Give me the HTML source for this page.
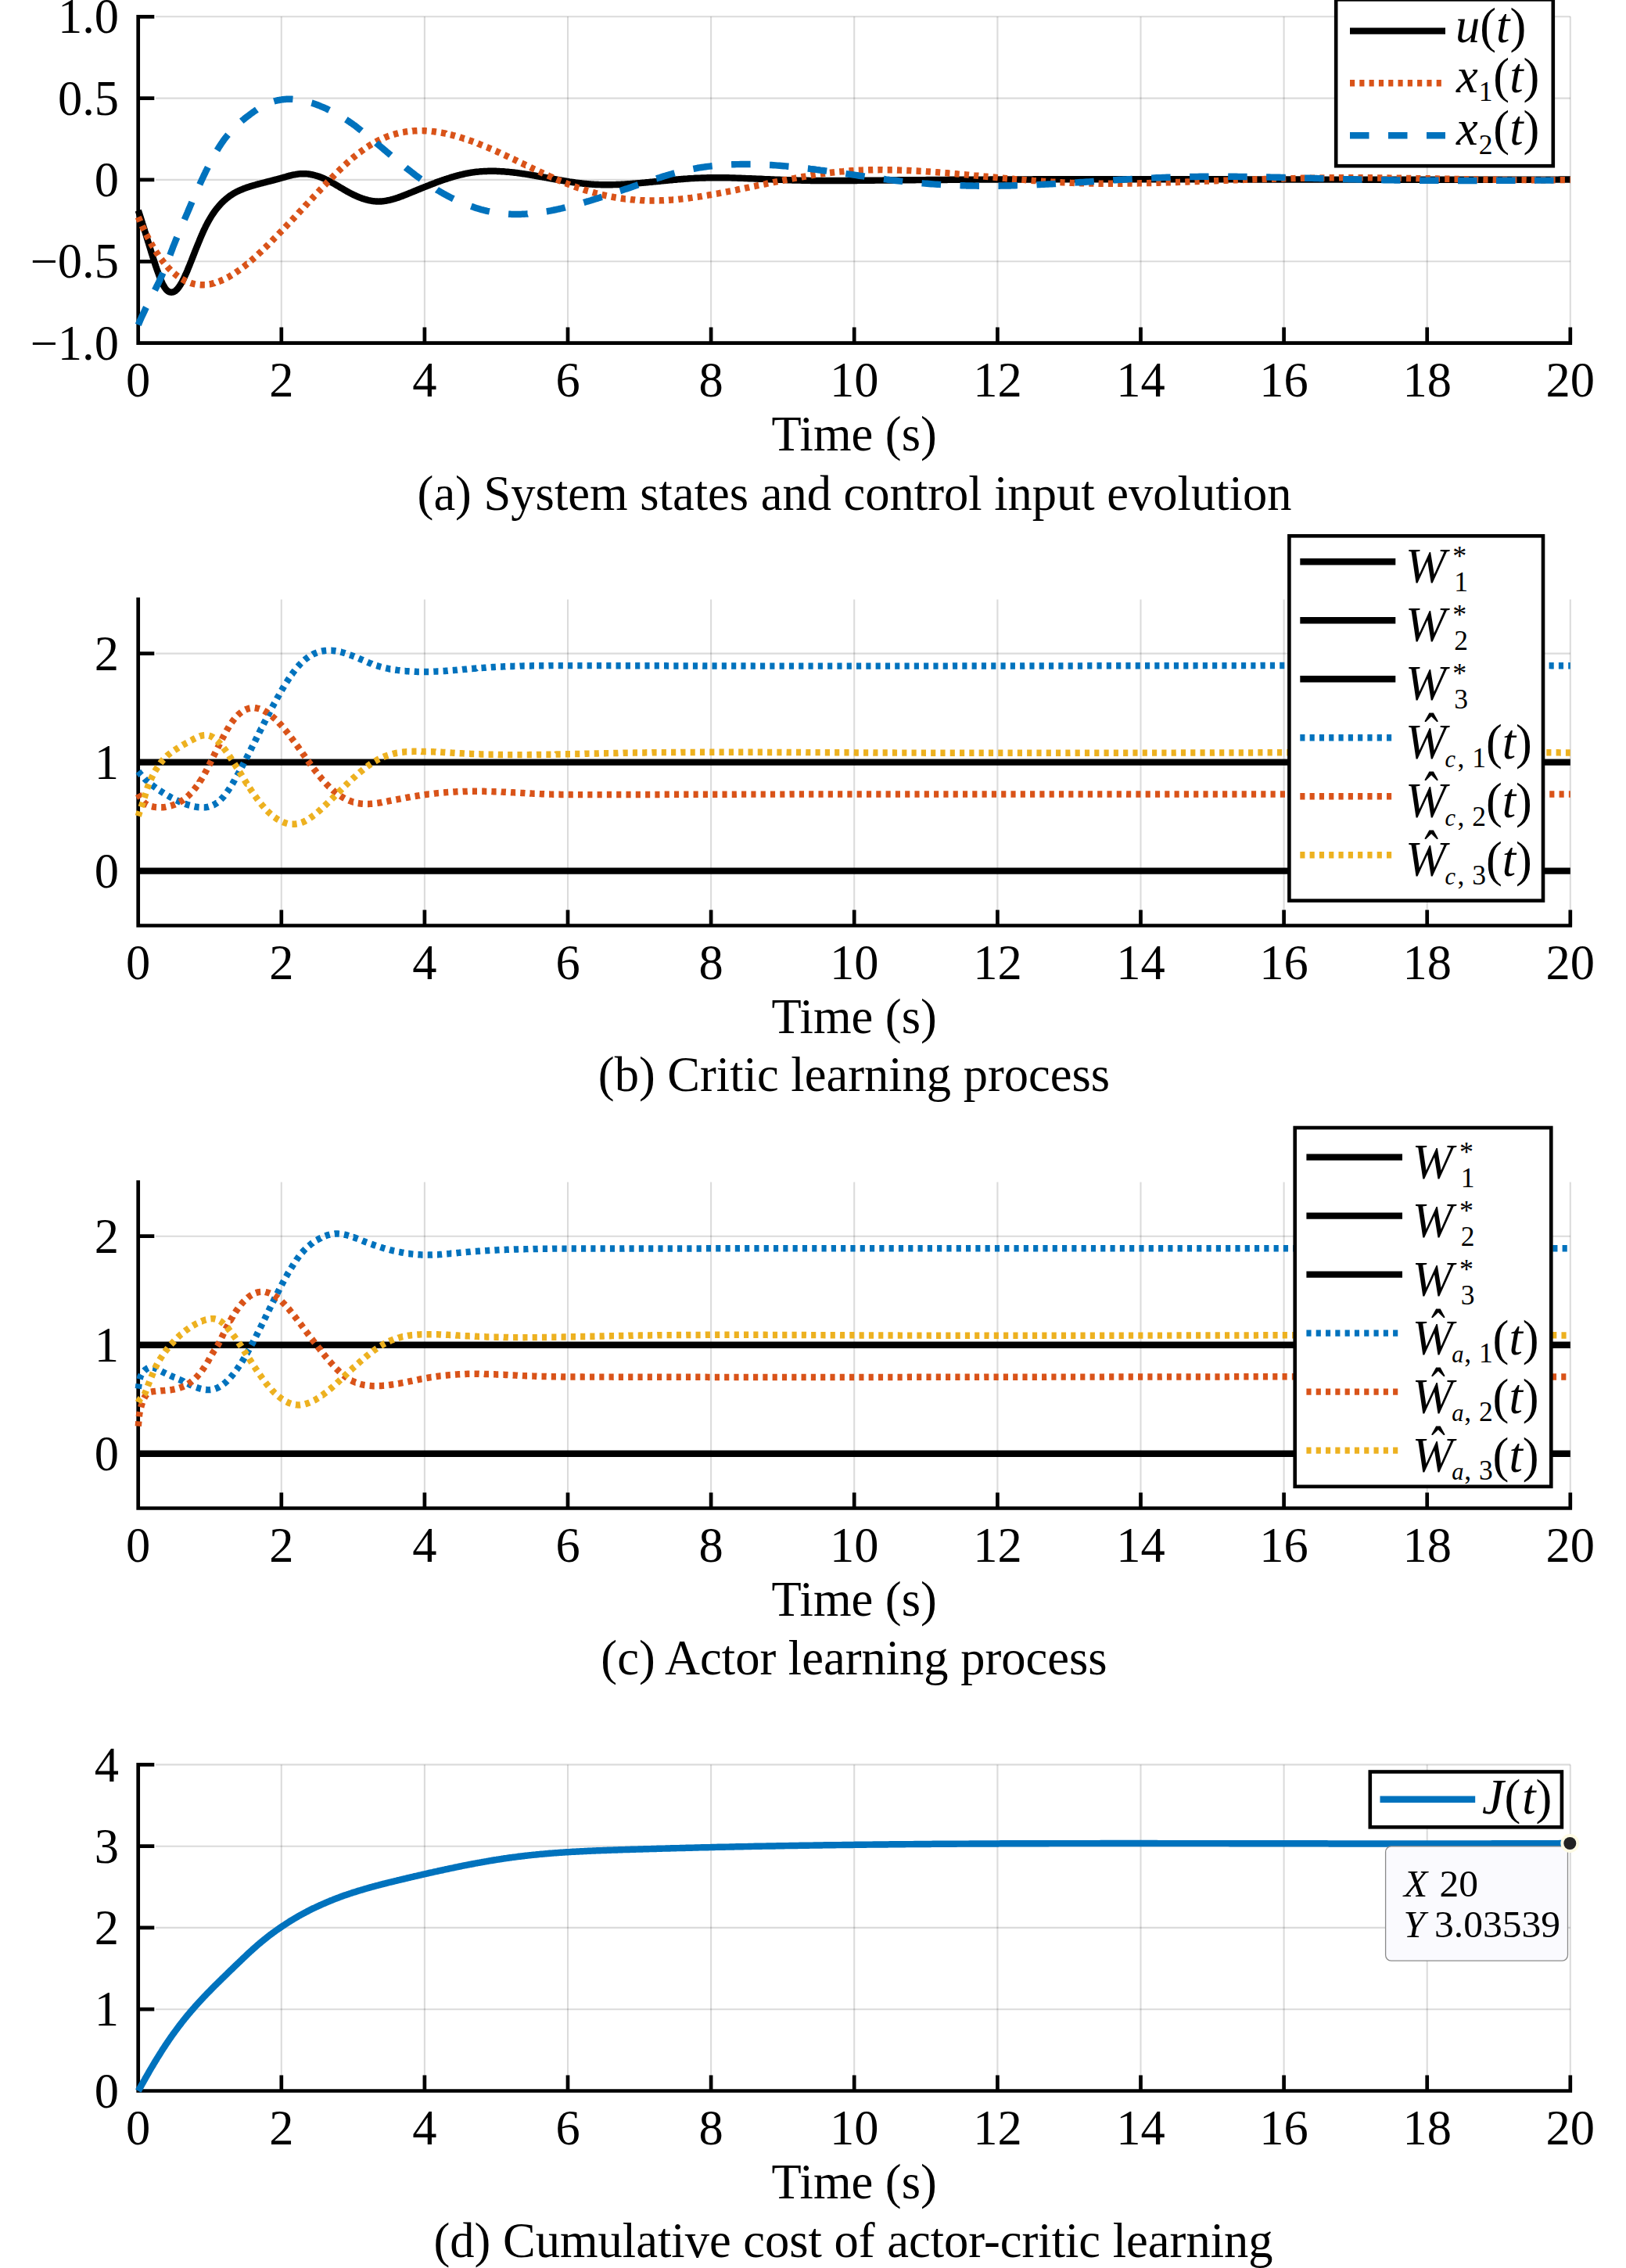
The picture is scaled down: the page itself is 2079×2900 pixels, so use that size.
<!DOCTYPE html>
<html lang="en"><head><meta charset="utf-8"><title>Actor-critic learning figure</title>
<style>html,body{margin:0;padding:0;background:#fff}svg{display:block}</style></head>
<body>
<svg width="2079" height="2900" viewBox="0 0 2079 2900" font-family='"Liberation Serif", "Times New Roman", serif' fill="#000">
<rect width="2079" height="2900" fill="#fff"/>
<path d="M359.8,21.3V438.6M542.9,21.3V438.6M726.0,21.3V438.6M909.1,21.3V438.6M1092.2,21.3V438.6M1275.4,21.3V438.6M1458.5,21.3V438.6M1641.6,21.3V438.6M1824.7,21.3V438.6M2007.8,21.3V438.6" stroke="#000" stroke-opacity="0.14" stroke-width="2.1" fill="none"/>
<path d="M199.0,21.3H2007.8M199.0,125.6H2007.8M199.0,229.9H2007.8M199.0,334.3H2007.8" stroke="#000" stroke-opacity="0.14" stroke-width="2.1" fill="none"/>
<path d="M176.7,18.9V438.6H2010.1M359.8,438.6v-20M542.9,438.6v-20M726.0,438.6v-20M909.1,438.6v-20M1092.2,438.6v-20M1275.4,438.6v-20M1458.5,438.6v-20M1641.6,438.6v-20M1824.7,438.6v-20M2007.8,438.6v-20M176.7,21.3h20.6M176.7,125.6h20.6M176.7,229.9h20.6M176.7,334.3h20.6" stroke="#000" stroke-width="4.7" fill="none" stroke-linejoin="miter"/>
<text x="176.7" y="506.9" font-size="62.5" text-anchor="middle">0</text>
<text x="359.8" y="506.9" font-size="62.5" text-anchor="middle">2</text>
<text x="542.9" y="506.9" font-size="62.5" text-anchor="middle">4</text>
<text x="726.0" y="506.9" font-size="62.5" text-anchor="middle">6</text>
<text x="909.1" y="506.9" font-size="62.5" text-anchor="middle">8</text>
<text x="1092.2" y="506.9" font-size="62.5" text-anchor="middle">10</text>
<text x="1275.4" y="506.9" font-size="62.5" text-anchor="middle">12</text>
<text x="1458.5" y="506.9" font-size="62.5" text-anchor="middle">14</text>
<text x="1641.6" y="506.9" font-size="62.5" text-anchor="middle">16</text>
<text x="1824.7" y="506.9" font-size="62.5" text-anchor="middle">18</text>
<text x="2007.8" y="506.9" font-size="62.5" text-anchor="middle">20</text>
<text x="152.0" y="42.4" font-size="62.5" text-anchor="end">1.0</text>
<text x="152.0" y="146.7" font-size="62.5" text-anchor="end">0.5</text>
<text x="152.0" y="251.0" font-size="62.5" text-anchor="end">0</text>
<text x="152.0" y="355.4" font-size="62.5" text-anchor="end">−0.5</text>
<text x="152.0" y="459.7" font-size="62.5" text-anchor="end">−1.0</text>
<text x="1092.2" y="576.4" font-size="62.5" text-anchor="middle">Time (s)</text>
<text x="1092.5" y="651.7" font-size="62.5" text-anchor="middle">(a) System states and control input evolution</text>
<path d="M176.8,269.2 L178.2,273.4 L179.4,277.1 L179.6,277.7 L181.0,282.0 L182.0,285.3 L182.4,286.5 L183.8,291.0 L184.7,293.7 L185.2,295.5 L186.6,300.1 L187.3,302.2 L188.0,304.6 L189.4,309.2 L189.9,310.8 L190.8,313.8 L192.2,318.3 L192.5,319.3 L193.6,322.9 L195.0,327.3 L195.1,327.7 L196.4,331.8 L197.8,335.9 L197.8,336.1 L199.2,340.4 L200.4,343.8 L200.6,344.6 L202.1,348.6 L203.0,351.1 L203.5,352.4 L204.9,356.0 L205.6,357.8 L206.3,359.3 L207.7,362.4 L208.2,363.5 L209.1,365.1 L210.5,367.5 L210.9,368.1 L211.9,369.5 L213.3,371.1 L213.5,371.3 L214.7,372.3 L216.1,373.1 L216.1,373.1 L217.5,373.5 L218.7,373.7 L218.9,373.7 L220.3,373.6 L221.3,373.4 L221.7,373.3 L223.1,372.6 L224.0,372.1 L224.5,371.7 L225.9,370.4 L226.6,369.7 L227.3,368.9 L228.7,367.1 L229.2,366.4 L230.1,365.0 L231.5,362.7 L231.8,362.2 L232.9,360.2 L234.3,357.5 L234.4,357.3 L235.7,354.6 L237.0,351.7 L237.1,351.5 L238.5,348.4 L239.7,345.7 L239.9,345.1 L241.3,341.7 L242.3,339.3 L242.7,338.2 L244.1,334.7 L244.9,332.8 L245.5,331.2 L246.9,327.6 L247.5,326.1 L248.3,324.1 L249.7,320.5 L250.1,319.5 L251.1,317.0 L252.6,313.4 L252.8,312.9 L254.0,310.0 L255.4,306.6 L255.4,306.5 L256.8,303.2 L258.0,300.3 L258.2,299.9 L259.6,296.8 L260.6,294.5 L261.0,293.7 L262.4,290.8 L263.2,289.0 L263.8,287.9 L265.2,285.2 L265.9,284.0 L266.6,282.7 L268.0,280.2 L268.5,279.4 L269.4,277.9 L270.8,275.6 L271.1,275.1 L272.2,273.5 L273.6,271.5 L273.7,271.3 L275.0,269.5 L276.3,267.7 L276.4,267.7 L277.8,265.9 L279.0,264.5 L279.2,264.2 L280.6,262.6 L281.6,261.5 L282.0,261.0 L283.4,259.6 L284.2,258.8 L284.8,258.2 L286.2,256.8 L286.8,256.3 L287.6,255.6 L289.0,254.3 L289.4,254.0 L290.4,253.2 L291.8,252.1 L292.1,251.9 L293.2,251.0 L294.6,250.0 L294.7,250.0 L296.0,249.1 L297.3,248.3 L297.4,248.2 L298.8,247.3 L299.9,246.7 L300.2,246.5 L301.6,245.8 L302.5,245.3 L303.1,245.0 L304.5,244.3 L305.2,244.0 L305.9,243.7 L307.3,243.0 L307.8,242.8 L308.7,242.4 L310.1,241.9 L310.4,241.7 L311.5,241.3 L312.9,240.8 L313.0,240.7 L314.3,240.3 L315.6,239.8 L315.7,239.8 L317.1,239.3 L318.3,238.9 L318.5,238.8 L319.9,238.4 L320.9,238.1 L321.3,238.0 L322.7,237.5 L323.5,237.3 L324.1,237.1 L325.5,236.7 L326.1,236.5 L326.9,236.3 L328.3,235.9 L328.7,235.8 L329.7,235.5 L331.1,235.2 L331.3,235.1 L332.5,234.8 L333.9,234.4 L334.0,234.4 L335.3,234.1 L336.6,233.7 L336.7,233.7 L338.1,233.4 L339.2,233.1 L339.5,233.0 L340.9,232.6 L341.8,232.4 L342.3,232.3 L343.7,231.9 L344.4,231.7 L345.1,231.6 L346.5,231.2 L347.1,231.1 L347.9,230.8 L349.3,230.5 L349.7,230.4 L350.7,230.1 L352.2,229.7 L352.3,229.7 L353.6,229.4 L354.9,229.0 L355.0,229.0 L356.4,228.6 L357.5,228.2 L357.8,228.2 L359.2,227.8 L360.2,227.5 L360.6,227.4 L362.0,227.0 L362.8,226.7 L363.4,226.6 L364.8,226.2 L365.4,226.0 L366.2,225.8 L367.6,225.4 L368.0,225.3 L369.0,225.0 L370.4,224.7 L370.6,224.6 L371.8,224.3 L373.2,224.0 L373.3,224.0 L374.6,223.7 L375.9,223.4 L376.0,223.4 L377.4,223.2 L378.5,223.0 L378.8,222.9 L380.2,222.7 L381.1,222.6 L381.6,222.5 L383.0,222.4 L383.7,222.3 L384.4,222.3 L385.8,222.2 L386.4,222.2 L387.2,222.2 L388.6,222.2 L389.0,222.2 L390.0,222.2 L391.4,222.3 L391.6,222.3 L392.8,222.4 L394.2,222.5 L394.2,222.5 L395.6,222.7 L396.8,222.9 L397.0,223.0 L398.4,223.2 L399.5,223.4 L399.8,223.5 L401.2,223.8 L402.1,224.0 L402.7,224.2 L404.1,224.6 L404.7,224.8 L405.5,225.0 L406.9,225.5 L407.3,225.6 L408.3,225.9 L409.7,226.5 L409.9,226.6 L411.1,227.0 L412.5,227.6 L412.6,227.6 L413.9,228.2 L415.2,228.8 L415.3,228.8 L416.7,229.5 L417.8,230.0 L418.1,230.1 L419.5,230.8 L420.4,231.3 L420.9,231.6 L422.3,232.3 L423.0,232.7 L423.7,233.1 L425.1,233.8 L425.6,234.1 L426.5,234.6 L427.9,235.4 L428.3,235.6 L429.3,236.2 L430.7,237.1 L430.9,237.2 L432.1,237.9 L433.5,238.7 L433.5,238.7 L434.9,239.6 L436.1,240.3 L436.3,240.4 L437.7,241.2 L438.7,241.8 L439.1,242.0 L440.5,242.9 L441.4,243.3 L441.9,243.7 L443.3,244.5 L444.0,244.8 L444.7,245.3 L446.1,246.0 L446.6,246.3 L447.5,246.8 L448.9,247.5 L449.2,247.7 L450.3,248.2 L451.7,248.9 L451.8,249.0 L453.2,249.6 L454.5,250.2 L454.6,250.3 L456.0,250.9 L457.1,251.4 L457.4,251.5 L458.8,252.1 L459.7,252.5 L460.2,252.6 L461.6,253.2 L462.3,253.4 L463.0,253.7 L464.4,254.2 L464.9,254.3 L465.8,254.6 L467.2,255.0 L467.6,255.1 L468.6,255.4 L470.0,255.8 L470.2,255.8 L471.4,256.1 L472.8,256.4 L472.8,256.4 L474.2,256.7 L475.4,256.9 L475.6,256.9 L477.0,257.1 L478.0,257.2 L478.4,257.3 L479.8,257.4 L480.7,257.5 L481.2,257.5 L482.6,257.5 L483.3,257.6 L484.0,257.6 L485.4,257.5 L485.9,257.5 L486.8,257.5 L488.2,257.4 L488.5,257.4 L489.6,257.3 L491.0,257.1 L491.1,257.1 L492.4,256.9 L493.8,256.7 L493.8,256.7 L495.2,256.4 L496.4,256.2 L496.6,256.1 L498.0,255.8 L499.0,255.6 L499.4,255.5 L500.8,255.1 L501.6,254.9 L502.3,254.7 L503.7,254.3 L504.2,254.2 L505.1,253.9 L506.5,253.5 L506.9,253.3 L507.9,253.0 L509.3,252.5 L509.5,252.5 L510.7,252.0 L512.1,251.5 L512.1,251.5 L513.5,251.0 L514.7,250.5 L514.9,250.5 L516.3,249.9 L517.3,249.5 L517.7,249.4 L519.1,248.8 L519.9,248.5 L520.5,248.3 L521.9,247.7 L522.6,247.4 L523.3,247.1 L524.7,246.6 L525.2,246.4 L526.1,246.0 L527.5,245.4 L527.8,245.3 L528.9,244.8 L530.3,244.3 L530.4,244.2 L531.7,243.7 L533.0,243.1 L533.1,243.1 L534.5,242.5 L535.7,242.1 L535.9,242.0 L537.3,241.4 L538.3,241.0 L538.7,240.8 L540.1,240.3 L540.9,239.9 L541.5,239.7 L542.9,239.1 L543.5,238.9 L544.3,238.6 L545.7,238.0 L546.1,237.8 L547.1,237.4 L548.5,236.9 L548.8,236.8 L549.9,236.3 L551.3,235.8 L551.4,235.8 L552.8,235.2 L554.0,234.8 L554.2,234.7 L555.6,234.2 L556.6,233.8 L557.0,233.6 L558.4,233.1 L559.2,232.8 L559.8,232.6 L561.2,232.1 L561.9,231.8 L562.6,231.6 L564.0,231.1 L564.5,230.9 L565.4,230.6 L566.8,230.1 L567.1,230.0 L568.2,229.6 L569.6,229.1 L569.7,229.1 L571.0,228.7 L572.3,228.2 L572.4,228.2 L573.8,227.8 L575.0,227.4 L575.2,227.3 L576.6,226.9 L577.6,226.6 L578.0,226.5 L579.4,226.0 L580.2,225.8 L580.8,225.6 L582.2,225.2 L582.8,225.1 L583.6,224.8 L585.0,224.5 L585.4,224.4 L586.4,224.1 L587.8,223.7 L588.1,223.7 L589.2,223.4 L590.6,223.1 L590.7,223.1 L592.0,222.7 L593.3,222.5 L593.4,222.4 L594.8,222.1 L595.9,221.9 L596.2,221.8 L597.6,221.6 L598.5,221.4 L599.0,221.3 L600.4,221.1 L601.2,220.9 L601.9,220.8 L603.3,220.6 L603.8,220.5 L604.7,220.4 L606.1,220.2 L606.4,220.2 L607.5,220.0 L608.9,219.9 L609.0,219.8 L610.3,219.7 L611.6,219.6 L611.7,219.6 L613.1,219.4 L614.2,219.3 L614.5,219.3 L615.9,219.2 L616.9,219.1 L617.3,219.1 L618.7,219.0 L619.5,219.0 L620.1,219.0 L621.5,218.9 L622.1,218.9 L622.9,218.9 L624.3,218.8 L624.7,218.8 L625.7,218.8 L627.1,218.8 L627.3,218.8 L628.5,218.8 L629.9,218.8 L630.0,218.8 L631.3,218.8 L632.6,218.8 L632.7,218.8 L634.1,218.8 L635.2,218.9 L635.5,218.9 L636.9,218.9 L637.8,219.0 L638.3,219.0 L639.7,219.1 L640.4,219.1 L641.1,219.2 L642.5,219.2 L643.1,219.3 L643.9,219.3 L645.3,219.4 L645.7,219.5 L646.7,219.6 L648.1,219.7 L648.3,219.7 L649.5,219.8 L650.9,219.9 L650.9,219.9 L652.4,220.1 L653.5,220.2 L653.8,220.2 L655.2,220.4 L656.2,220.5 L656.6,220.5 L658.0,220.7 L658.8,220.8 L659.4,220.9 L660.8,221.0 L661.4,221.1 L662.2,221.2 L663.6,221.4 L664.0,221.5 L665.0,221.6 L666.4,221.8 L666.6,221.8 L667.8,222.0 L669.2,222.2 L669.3,222.2 L670.6,222.4 L671.9,222.6 L672.0,222.6 L673.4,222.9 L674.5,223.0 L674.8,223.1 L676.2,223.3 L677.1,223.5 L677.6,223.5 L679.0,223.8 L679.7,223.9 L680.4,224.0 L681.8,224.2 L682.4,224.3 L683.2,224.5 L684.6,224.7 L685.0,224.8 L686.0,225.0 L687.4,225.2 L687.6,225.3 L688.8,225.5 L690.2,225.7 L690.2,225.7 L691.6,226.0 L692.8,226.2 L693.0,226.2 L694.4,226.5 L695.5,226.7 L695.8,226.7 L697.2,227.0 L698.1,227.1 L698.6,227.2 L700.0,227.5 L700.7,227.6 L701.4,227.8 L702.9,228.0 L703.3,228.1 L704.3,228.3 L705.7,228.5 L705.9,228.6 L707.1,228.8 L708.5,229.0 L708.5,229.1 L709.9,229.3 L711.2,229.5 L711.3,229.5 L712.7,229.8 L713.8,230.0 L714.1,230.0 L715.5,230.3 L716.4,230.4 L716.9,230.5 L718.3,230.8 L719.0,230.9 L719.7,231.0 L721.1,231.2 L721.6,231.3 L722.5,231.5 L723.9,231.7 L724.3,231.8 L725.3,231.9 L726.7,232.1 L726.9,232.2 L728.1,232.4 L729.5,232.6 L729.5,232.6 L730.9,232.8 L732.1,233.0 L732.3,233.0 L733.7,233.2 L734.7,233.3 L735.1,233.4 L736.5,233.6 L737.4,233.7 L737.9,233.8 L739.3,233.9 L740.0,234.0 L740.7,234.1 L742.1,234.3 L742.6,234.3 L743.5,234.4 L744.9,234.6 L745.2,234.6 L746.3,234.8 L747.7,234.9 L747.8,234.9 L749.1,235.0 L750.5,235.2 L750.5,235.2 L752.0,235.3 L753.1,235.4 L753.4,235.4 L754.8,235.5 L755.7,235.6 L756.2,235.6 L757.6,235.7 L758.3,235.7 L759.0,235.8 L760.4,235.9 L760.9,235.9 L761.8,235.9 L763.2,236.0 L763.6,236.0 L764.6,236.0 L766.0,236.1 L766.2,236.1 L767.4,236.1 L768.8,236.2 L768.8,236.2 L770.2,236.2 L771.4,236.2 L771.6,236.2 L773.0,236.2 L774.0,236.2 L774.4,236.2 L775.8,236.2 L776.7,236.2 L777.2,236.2 L778.6,236.2 L779.3,236.2 L780.0,236.2 L781.4,236.2 L781.9,236.2 L782.8,236.2 L784.2,236.1 L784.5,236.1 L785.6,236.1 L787.0,236.1 L787.1,236.1 L788.4,236.0 L789.8,236.0 L789.8,236.0 L791.2,235.9 L792.4,235.9 L792.6,235.9 L794.0,235.8 L795.0,235.7 L795.4,235.7 L796.8,235.6 L797.6,235.6 L798.2,235.6 L799.6,235.5 L800.2,235.5 L801.0,235.4 L802.5,235.3 L802.9,235.3 L803.9,235.2 L805.3,235.1 L805.5,235.1 L806.7,235.0 L808.1,234.9 L808.1,234.9 L809.5,234.8 L810.7,234.7 L810.9,234.7 L812.3,234.6 L813.3,234.5 L813.7,234.5 L815.1,234.4 L815.9,234.3 L816.5,234.2 L817.9,234.1 L818.6,234.1 L819.3,234.0 L820.7,233.9 L821.2,233.8 L822.1,233.7 L823.5,233.6 L823.8,233.6 L824.9,233.5 L826.3,233.4 L826.4,233.3 L827.7,233.2 L829.0,233.1 L829.1,233.1 L830.5,232.9 L831.7,232.8 L831.9,232.8 L833.3,232.7 L834.3,232.6 L834.7,232.5 L836.1,232.4 L836.9,232.3 L837.5,232.3 L838.9,232.1 L839.5,232.1 L840.3,232.0 L841.7,231.8 L842.1,231.8 L843.1,231.7 L844.5,231.5 L844.8,231.5 L845.9,231.4 L847.3,231.3 L847.4,231.3 L848.7,231.1 L850.0,231.0 L850.1,231.0 L851.5,230.8 L852.6,230.7 L853.0,230.7 L854.4,230.6 L855.2,230.5 L855.8,230.4 L857.2,230.3 L857.9,230.2 L858.6,230.2 L860.0,230.0 L860.5,230.0 L861.4,229.9 L862.8,229.8 L863.1,229.7 L864.2,229.7 L865.6,229.5 L865.7,229.5 L867.0,229.4 L868.3,229.3 L868.4,229.3 L869.8,229.2 L871.0,229.1 L871.2,229.0 L872.6,228.9 L873.6,228.9 L874.0,228.8 L875.4,228.7 L876.2,228.7 L876.8,228.6 L878.8,228.5 L881.4,228.3 L884.1,228.1 L886.7,228.0 L889.3,227.8 L891.9,227.7 L894.5,227.6 L897.2,227.5 L899.8,227.4 L902.4,227.4 L905.0,227.3 L907.6,227.3 L910.2,227.2 L912.9,227.2 L915.5,227.2 L918.1,227.2 L920.7,227.2 L923.3,227.2 L926.0,227.3 L928.6,227.3 L931.2,227.3 L933.8,227.4 L936.4,227.5 L939.1,227.5 L941.7,227.6 L944.3,227.7 L946.9,227.8 L949.5,227.9 L952.2,228.0 L954.8,228.1 L957.4,228.2 L960.0,228.3 L962.6,228.4 L965.3,228.5 L967.9,228.6 L970.5,228.7 L973.1,228.8 L975.7,228.9 L978.4,229.1 L981.0,229.2 L983.6,229.3 L986.2,229.4 L988.8,229.5 L991.5,229.6 L994.1,229.7 L996.7,229.8 L999.3,229.9 L1001.9,230.0 L1004.5,230.1 L1007.2,230.2 L1009.8,230.3 L1012.4,230.4 L1015.0,230.4 L1017.6,230.5 L1020.3,230.6 L1022.9,230.6 L1025.5,230.7 L1028.1,230.7 L1030.7,230.8 L1033.4,230.8 L1036.0,230.9 L1038.6,230.9 L1041.2,230.9 L1043.8,230.9 L1046.5,231.0 L1049.1,231.0 L1051.7,231.0 L1054.3,231.0 L1056.9,231.0 L1059.6,231.0 L1062.2,231.0 L1064.8,231.0 L1067.4,231.0 L1070.0,231.0 L1072.7,231.0 L1075.3,231.0 L1077.9,231.0 L1080.5,231.0 L1083.1,231.0 L1085.8,231.0 L1088.4,230.9 L1091.0,230.9 L1093.6,230.9 L1096.2,230.9 L1098.8,230.8 L1101.5,230.8 L1104.1,230.8 L1106.7,230.8 L1109.3,230.7 L1111.9,230.7 L1114.6,230.7 L1117.2,230.7 L1119.8,230.6 L1122.4,230.6 L1125.0,230.6 L1127.7,230.6 L1130.3,230.5 L1132.9,230.5 L1135.5,230.5 L1138.1,230.4 L1140.8,230.4 L1143.4,230.4 L1146.0,230.4 L1148.6,230.3 L1151.2,230.3 L1153.9,230.3 L1156.5,230.3 L1159.1,230.3 L1161.7,230.2 L1164.3,230.2 L1167.0,230.2 L1169.6,230.2 L1172.2,230.1 L1174.8,230.1 L1177.4,230.1 L1180.1,230.1 L1182.7,230.1 L1185.3,230.0 L1187.9,230.0 L1190.5,230.0 L1193.1,230.0 L1195.8,230.0 L1198.4,229.9 L1201.0,229.9 L1203.6,229.9 L1206.2,229.9 L1208.9,229.9 L1211.5,229.9 L1214.1,229.8 L1216.7,229.8 L1219.3,229.8 L1222.0,229.8 L1224.6,229.8 L1227.2,229.8 L1229.8,229.7 L1232.4,229.7 L1235.1,229.7 L1237.7,229.7 L1240.3,229.7 L1242.9,229.7 L1245.5,229.7 L1248.2,229.6 L1250.8,229.6 L1253.4,229.6 L1256.0,229.6 L1258.6,229.6 L1261.3,229.6 L1263.9,229.6 L1266.5,229.5 L1269.1,229.5 L1271.7,229.5 L1274.4,229.5 L1277.0,229.5 L1279.6,229.5 L1282.2,229.5 L1284.8,229.5 L1287.4,229.5 L1290.1,229.4 L1292.7,229.4 L1295.3,229.4 L1297.9,229.4 L1300.5,229.4 L1303.2,229.4 L1305.8,229.4 L1308.4,229.4 L1311.0,229.4 L1313.6,229.4 L1316.3,229.4 L1318.9,229.4 L1321.5,229.3 L1324.1,229.3 L1326.7,229.3 L1329.4,229.3 L1332.0,229.3 L1334.6,229.3 L1337.2,229.3 L1339.8,229.3 L1342.5,229.3 L1345.1,229.3 L1347.7,229.3 L1350.3,229.3 L1352.9,229.3 L1355.6,229.3 L1358.2,229.3 L1360.8,229.3 L1363.4,229.3 L1366.0,229.2 L1368.7,229.2 L1371.3,229.2 L1373.9,229.2 L1376.5,229.2 L1379.1,229.2 L1381.7,229.2 L1384.4,229.2 L1387.0,229.2 L1389.6,229.2 L1392.2,229.2 L1394.8,229.2 L1397.5,229.2 L1400.1,229.2 L1402.7,229.2 L1405.3,229.2 L1407.9,229.2 L1410.6,229.2 L1413.2,229.2 L1415.8,229.2 L1418.4,229.2 L1421.0,229.2 L1423.7,229.2 L1426.3,229.2 L1428.9,229.2 L1431.5,229.2 L1434.1,229.2 L1436.8,229.2 L1439.4,229.2 L1442.0,229.2 L1444.6,229.2 L1447.2,229.2 L1449.9,229.2 L1452.5,229.2 L1455.1,229.2 L1457.7,229.2 L1460.3,229.2 L1463.0,229.2 L1465.6,229.2 L1468.2,229.2 L1470.8,229.2 L1473.4,229.2 L1476.1,229.2 L1478.7,229.2 L1481.3,229.2 L1483.9,229.2 L1486.5,229.2 L1489.1,229.2 L1491.8,229.2 L1494.4,229.2 L1497.0,229.2 L1499.6,229.2 L1502.2,229.2 L1504.9,229.2 L1507.5,229.2 L1510.1,229.2 L1512.7,229.2 L1515.3,229.2 L1518.0,229.2 L1520.6,229.3 L1523.2,229.3 L1525.8,229.3 L1528.4,229.3 L1531.1,229.3 L1533.7,229.3 L1536.3,229.3 L1538.9,229.3 L1541.5,229.3 L1544.2,229.3 L1546.8,229.3 L1549.4,229.3 L1552.0,229.3 L1554.6,229.3 L1557.3,229.3 L1559.9,229.3 L1562.5,229.3 L1565.1,229.3 L1567.7,229.3 L1570.4,229.3 L1573.0,229.3 L1575.6,229.3 L1578.2,229.3 L1580.8,229.3 L1583.4,229.3 L1586.1,229.4 L1588.7,229.4 L1591.3,229.4 L1593.9,229.4 L1596.5,229.4 L1599.2,229.4 L1601.8,229.4 L1604.4,229.4 L1607.0,229.4 L1609.6,229.4 L1612.3,229.4 L1614.9,229.4 L1617.5,229.4 L1620.1,229.4 L1622.7,229.4 L1625.4,229.4 L1628.0,229.4 L1630.6,229.4 L1633.2,229.4 L1635.8,229.5 L1638.5,229.5 L1641.1,229.5 L1643.7,229.5 L1646.3,229.5 L1648.9,229.5 L1651.6,229.5 L1654.2,229.5 L1656.8,229.5 L1659.4,229.5 L1662.0,229.5 L1664.7,229.5 L1667.3,229.5 L1669.9,229.5 L1672.5,229.5 L1675.1,229.5 L1677.7,229.5 L1680.4,229.5 L1683.0,229.5 L1685.6,229.5 L1688.2,229.6 L1690.8,229.6 L1693.5,229.6 L1696.1,229.6 L1698.7,229.6 L1701.3,229.6 L1703.9,229.6 L1706.6,229.6 L1709.2,229.6 L1711.8,229.6 L1714.4,229.6 L1717.0,229.6 L1719.7,229.6 L1722.3,229.6 L1724.9,229.6 L1727.5,229.6 L1730.1,229.6 L1732.8,229.6 L1735.4,229.6 L1738.0,229.6 L1740.6,229.6 L1743.2,229.7 L1745.9,229.7 L1748.5,229.7 L1751.1,229.7 L1753.7,229.7 L1756.3,229.7 L1759.0,229.7 L1761.6,229.7 L1764.2,229.7 L1766.8,229.7 L1769.4,229.7 L1772.0,229.7 L1774.7,229.7 L1777.3,229.7 L1779.9,229.7 L1782.5,229.7 L1785.1,229.7 L1787.8,229.7 L1790.4,229.7 L1793.0,229.7 L1795.6,229.7 L1798.2,229.7 L1800.9,229.7 L1803.5,229.7 L1806.1,229.7 L1808.7,229.7 L1811.3,229.7 L1814.0,229.7 L1816.6,229.7 L1819.2,229.7 L1821.8,229.7 L1824.4,229.7 L1827.1,229.7 L1829.7,229.7 L1832.3,229.7 L1834.9,229.8 L1837.5,229.8 L1840.2,229.8 L1842.8,229.8 L1845.4,229.8 L1848.0,229.8 L1850.6,229.8 L1853.3,229.8 L1855.9,229.8 L1858.5,229.8 L1861.1,229.8 L1863.7,229.8 L1866.3,229.8 L1869.0,229.8 L1871.6,229.8 L1874.2,229.8 L1876.8,229.8 L1879.4,229.8 L1882.1,229.8 L1884.7,229.7 L1887.3,229.7 L1889.9,229.7 L1892.5,229.7 L1895.2,229.7 L1897.8,229.7 L1900.4,229.7 L1903.0,229.7 L1905.6,229.7 L1908.3,229.7 L1910.9,229.7 L1913.5,229.7 L1916.1,229.7 L1918.7,229.7 L1921.4,229.7 L1924.0,229.7 L1926.6,229.7 L1929.2,229.7 L1931.8,229.7 L1934.5,229.7 L1937.1,229.7 L1939.7,229.7 L1942.3,229.7 L1944.9,229.7 L1947.6,229.7 L1950.2,229.7 L1952.8,229.7 L1955.4,229.7 L1958.0,229.6 L1960.6,229.6 L1963.3,229.6 L1965.9,229.6 L1968.5,229.6 L1971.1,229.6 L1973.7,229.6 L1976.4,229.6 L1979.0,229.6 L1981.6,229.6 L1984.2,229.6 L1986.8,229.6 L1989.5,229.6 L1992.1,229.6 L1994.7,229.5 L1997.3,229.5 L1999.9,229.5 L2002.6,229.5 L2005.2,229.5 L2007.8,229.5" stroke="#000" stroke-width="8.45" fill="none" stroke-linejoin="round"/>
<path d="M176.8,277.5 L178.2,280.7 L179.4,283.5 L179.6,283.9 L181.0,287.0 L182.0,289.3 L182.4,290.1 L183.8,293.1 L184.7,294.8 L185.2,296.0 L186.6,298.8 L187.3,300.1 L188.0,301.6 L189.4,304.3 L189.9,305.2 L190.8,306.9 L192.2,309.5 L192.5,310.0 L193.6,312.0 L195.0,314.4 L195.1,314.6 L196.4,316.8 L197.8,318.9 L197.8,319.1 L199.2,321.3 L200.4,323.1 L200.6,323.5 L202.1,325.6 L203.0,327.0 L203.5,327.6 L204.9,329.6 L205.6,330.6 L206.3,331.5 L207.7,333.4 L208.2,334.1 L209.1,335.2 L210.5,336.9 L210.9,337.4 L211.9,338.6 L213.3,340.2 L213.5,340.4 L214.7,341.8 L216.1,343.3 L216.1,343.3 L217.5,344.7 L218.7,345.9 L218.9,346.1 L220.3,347.4 L221.3,348.4 L221.7,348.7 L223.1,349.9 L224.0,350.6 L224.5,351.1 L225.9,352.2 L226.6,352.7 L227.3,353.2 L228.7,354.2 L229.2,354.6 L230.1,355.2 L231.5,356.1 L231.8,356.3 L232.9,356.9 L234.3,357.7 L234.4,357.8 L235.7,358.5 L237.0,359.2 L237.1,359.2 L238.5,359.8 L239.7,360.3 L239.9,360.5 L241.3,361.0 L242.3,361.4 L242.7,361.5 L244.1,362.0 L244.9,362.2 L245.5,362.4 L246.9,362.8 L247.5,362.9 L248.3,363.1 L249.7,363.4 L250.1,363.5 L251.1,363.6 L252.6,363.8 L252.8,363.8 L254.0,364.0 L255.4,364.1 L255.4,364.1 L256.8,364.2 L258.0,364.2 L258.2,364.2 L259.6,364.2 L260.6,364.2 L261.0,364.1 L262.4,364.1 L263.2,364.0 L263.8,363.9 L265.2,363.8 L265.9,363.7 L266.6,363.6 L268.0,363.3 L268.5,363.3 L269.4,363.1 L270.8,362.8 L271.1,362.7 L272.2,362.4 L273.6,362.1 L273.7,362.0 L275.0,361.6 L276.3,361.2 L276.4,361.2 L277.8,360.7 L279.0,360.3 L279.2,360.2 L280.6,359.7 L281.6,359.3 L282.0,359.1 L283.4,358.5 L284.2,358.2 L284.8,357.9 L286.2,357.3 L286.8,357.0 L287.6,356.6 L289.0,355.9 L289.4,355.6 L290.4,355.1 L291.8,354.4 L292.1,354.2 L293.2,353.6 L294.6,352.8 L294.7,352.7 L296.0,351.9 L297.3,351.1 L297.4,351.1 L298.8,350.2 L299.9,349.5 L300.2,349.3 L301.6,348.3 L302.5,347.7 L303.1,347.4 L304.5,346.4 L305.2,345.9 L305.9,345.4 L307.3,344.4 L307.8,344.0 L308.7,343.3 L310.1,342.2 L310.4,342.0 L311.5,341.2 L312.9,340.1 L313.0,340.0 L314.3,338.9 L315.6,337.8 L315.7,337.8 L317.1,336.6 L318.3,335.7 L318.5,335.5 L319.9,334.3 L320.9,333.4 L321.3,333.1 L322.7,331.9 L323.5,331.2 L324.1,330.6 L325.5,329.4 L326.1,328.8 L326.9,328.1 L328.3,326.8 L328.7,326.4 L329.7,325.5 L331.1,324.2 L331.3,324.0 L332.5,322.9 L333.9,321.6 L334.0,321.5 L335.3,320.2 L336.6,319.0 L336.7,318.9 L338.1,317.5 L339.2,316.5 L339.5,316.2 L340.9,314.8 L341.8,313.9 L342.3,313.4 L343.7,312.0 L344.4,311.3 L345.1,310.6 L346.5,309.2 L347.1,308.7 L347.9,307.8 L349.3,306.3 L349.7,306.0 L350.7,304.9 L352.2,303.5 L352.3,303.3 L353.6,302.0 L354.9,300.6 L355.0,300.6 L356.4,299.1 L357.5,297.9 L357.8,297.7 L359.2,296.2 L360.2,295.2 L360.6,294.8 L362.0,293.3 L362.8,292.5 L363.4,291.9 L364.8,290.4 L365.4,289.7 L366.2,288.9 L367.6,287.4 L368.0,287.0 L369.0,286.0 L370.4,284.5 L370.6,284.2 L371.8,283.0 L373.2,281.5 L373.3,281.4 L374.6,280.0 L375.9,278.7 L376.0,278.5 L377.4,277.0 L378.5,275.9 L378.8,275.5 L380.2,274.0 L381.1,273.1 L381.6,272.5 L383.0,271.0 L383.7,270.3 L384.4,269.5 L385.8,268.0 L386.4,267.5 L387.2,266.5 L388.6,265.0 L389.0,264.7 L390.0,263.5 L391.4,262.0 L391.6,261.8 L392.8,260.5 L394.2,259.0 L394.2,259.0 L395.6,257.5 L396.8,256.2 L397.0,256.0 L398.4,254.5 L399.5,253.4 L399.8,253.0 L401.2,251.5 L402.1,250.6 L402.7,250.0 L404.1,248.5 L404.7,247.8 L405.5,247.0 L406.9,245.5 L407.3,245.0 L408.3,244.0 L409.7,242.5 L409.9,242.2 L411.1,241.0 L412.5,239.5 L412.6,239.4 L413.9,238.0 L415.2,236.7 L415.3,236.6 L416.7,235.1 L417.8,233.9 L418.1,233.6 L419.5,232.2 L420.4,231.2 L420.9,230.7 L422.3,229.3 L423.0,228.5 L423.7,227.8 L425.1,226.4 L425.6,225.9 L426.5,225.0 L427.9,223.6 L428.3,223.2 L429.3,222.2 L430.7,220.8 L430.9,220.6 L432.1,219.4 L433.5,218.0 L433.5,218.0 L434.9,216.7 L436.1,215.5 L436.3,215.3 L437.7,214.0 L438.7,213.0 L439.1,212.7 L440.5,211.4 L441.4,210.6 L441.9,210.1 L443.3,208.8 L444.0,208.2 L444.7,207.5 L446.1,206.3 L446.6,205.9 L447.5,205.0 L448.9,203.8 L449.2,203.6 L450.3,202.6 L451.7,201.4 L451.8,201.3 L453.2,200.3 L454.5,199.2 L454.6,199.1 L456.0,198.0 L457.1,197.1 L457.4,196.9 L458.8,195.8 L459.7,195.0 L460.2,194.7 L461.6,193.6 L462.3,193.1 L463.0,192.6 L464.4,191.6 L464.9,191.2 L465.8,190.6 L467.2,189.6 L467.6,189.4 L468.6,188.7 L470.0,187.7 L470.2,187.6 L471.4,186.8 L472.8,185.9 L472.8,185.9 L474.2,185.0 L475.4,184.3 L475.6,184.2 L477.0,183.4 L478.0,182.8 L478.4,182.6 L479.8,181.8 L480.7,181.3 L481.2,181.0 L482.6,180.3 L483.3,179.9 L484.0,179.6 L485.4,178.9 L485.9,178.6 L486.8,178.2 L488.2,177.6 L488.5,177.4 L489.6,176.9 L491.0,176.3 L491.1,176.3 L492.4,175.7 L493.8,175.2 L493.8,175.2 L495.2,174.6 L496.4,174.2 L496.6,174.1 L498.0,173.6 L499.0,173.3 L499.4,173.1 L500.8,172.7 L501.6,172.4 L502.3,172.2 L503.7,171.8 L504.2,171.6 L505.1,171.4 L506.5,171.0 L506.9,170.9 L507.9,170.7 L509.3,170.3 L509.5,170.3 L510.7,170.0 L512.1,169.7 L512.1,169.7 L513.5,169.4 L514.7,169.1 L514.9,169.1 L516.3,168.9 L517.3,168.7 L517.7,168.6 L519.1,168.4 L519.9,168.3 L520.5,168.2 L521.9,168.0 L522.6,167.9 L523.3,167.9 L524.7,167.7 L525.2,167.7 L526.1,167.6 L527.5,167.5 L527.8,167.4 L528.9,167.4 L530.3,167.3 L530.4,167.3 L531.7,167.2 L533.0,167.2 L533.1,167.2 L534.5,167.1 L535.7,167.1 L535.9,167.1 L537.3,167.1 L538.3,167.1 L538.7,167.1 L540.1,167.1 L540.9,167.1 L541.5,167.2 L542.9,167.2 L543.5,167.2 L544.3,167.3 L545.7,167.4 L546.1,167.4 L547.1,167.5 L548.5,167.6 L548.8,167.6 L549.9,167.7 L551.3,167.8 L551.4,167.8 L552.8,168.0 L554.0,168.1 L554.2,168.1 L555.6,168.3 L556.6,168.5 L557.0,168.5 L558.4,168.7 L559.2,168.8 L559.8,168.9 L561.2,169.1 L561.9,169.3 L562.6,169.4 L564.0,169.6 L564.5,169.7 L565.4,169.9 L566.8,170.2 L567.1,170.2 L568.2,170.4 L569.6,170.7 L569.7,170.8 L571.0,171.0 L572.3,171.3 L572.4,171.3 L573.8,171.7 L575.0,171.9 L575.2,172.0 L576.6,172.3 L577.6,172.6 L578.0,172.7 L579.4,173.1 L580.2,173.3 L580.8,173.4 L582.2,173.8 L582.8,174.0 L583.6,174.2 L585.0,174.6 L585.4,174.7 L586.4,175.0 L587.8,175.4 L588.1,175.5 L589.2,175.9 L590.6,176.3 L590.7,176.3 L592.0,176.7 L593.3,177.2 L593.4,177.2 L594.8,177.7 L595.9,178.0 L596.2,178.1 L597.6,178.6 L598.5,178.9 L599.0,179.1 L600.4,179.6 L601.2,179.8 L601.9,180.1 L603.3,180.6 L603.8,180.8 L604.7,181.1 L606.1,181.6 L606.4,181.7 L607.5,182.1 L608.9,182.7 L609.0,182.7 L610.3,183.2 L611.6,183.7 L611.7,183.8 L613.1,184.3 L614.2,184.8 L614.5,184.9 L615.9,185.4 L616.9,185.8 L617.3,186.0 L618.7,186.6 L619.5,186.9 L620.1,187.2 L621.5,187.7 L622.1,188.0 L622.9,188.3 L624.3,188.9 L624.7,189.1 L625.7,189.5 L627.1,190.1 L627.3,190.2 L628.5,190.7 L629.9,191.4 L630.0,191.4 L631.3,192.0 L632.6,192.5 L632.7,192.6 L634.1,193.2 L635.2,193.7 L635.5,193.9 L636.9,194.5 L637.8,194.9 L638.3,195.1 L639.7,195.8 L640.4,196.1 L641.1,196.4 L642.5,197.0 L643.1,197.3 L643.9,197.7 L645.3,198.3 L645.7,198.5 L646.7,199.0 L648.1,199.7 L648.3,199.7 L649.5,200.3 L650.9,201.0 L650.9,201.0 L652.4,201.6 L653.5,202.2 L653.8,202.3 L655.2,203.0 L656.2,203.4 L656.6,203.6 L658.0,204.3 L658.8,204.7 L659.4,205.0 L660.8,205.6 L661.4,205.9 L662.2,206.3 L663.6,207.0 L664.0,207.2 L665.0,207.7 L666.4,208.3 L666.6,208.5 L667.8,209.0 L669.2,209.7 L669.3,209.7 L670.6,210.3 L671.9,211.0 L672.0,211.0 L673.4,211.7 L674.5,212.2 L674.8,212.4 L676.2,213.0 L677.1,213.5 L677.6,213.7 L679.0,214.4 L679.7,214.7 L680.4,215.0 L681.8,215.7 L682.4,216.0 L683.2,216.4 L684.6,217.0 L685.0,217.2 L686.0,217.7 L687.4,218.4 L687.6,218.5 L688.8,219.0 L690.2,219.7 L690.2,219.7 L691.6,220.3 L692.8,220.9 L693.0,221.0 L694.4,221.6 L695.5,222.1 L695.8,222.3 L697.2,222.9 L698.1,223.3 L698.6,223.6 L700.0,224.2 L700.7,224.5 L701.4,224.8 L702.9,225.5 L703.3,225.7 L704.3,226.1 L705.7,226.7 L705.9,226.9 L707.1,227.3 L708.5,228.0 L708.5,228.0 L709.9,228.6 L711.2,229.1 L711.3,229.2 L712.7,229.8 L713.8,230.3 L714.1,230.4 L715.5,231.0 L716.4,231.4 L716.9,231.6 L718.3,232.1 L719.0,232.5 L719.7,232.7 L721.1,233.3 L721.6,233.5 L722.5,233.9 L723.9,234.4 L724.3,234.6 L725.3,235.0 L726.7,235.5 L726.9,235.6 L728.1,236.1 L729.5,236.6 L729.5,236.6 L730.9,237.1 L732.1,237.6 L732.3,237.7 L733.7,238.2 L734.7,238.5 L735.1,238.7 L736.5,239.2 L737.4,239.5 L737.9,239.7 L739.3,240.2 L740.0,240.4 L740.7,240.6 L742.1,241.1 L742.6,241.3 L743.5,241.6 L744.9,242.0 L745.2,242.1 L746.3,242.5 L747.7,242.9 L747.8,243.0 L749.1,243.4 L750.5,243.8 L750.5,243.8 L752.0,244.2 L753.1,244.6 L753.4,244.7 L754.8,245.1 L755.7,245.3 L756.2,245.5 L757.6,245.9 L758.3,246.1 L759.0,246.2 L760.4,246.6 L760.9,246.8 L761.8,247.0 L763.2,247.4 L763.6,247.5 L764.6,247.7 L766.0,248.1 L766.2,248.1 L767.4,248.4 L768.8,248.8 L768.8,248.8 L770.2,249.1 L771.4,249.4 L771.6,249.4 L773.0,249.7 L774.0,250.0 L774.4,250.0 L775.8,250.3 L776.7,250.5 L777.2,250.6 L778.6,250.9 L779.3,251.1 L780.0,251.2 L781.4,251.5 L781.9,251.6 L782.8,251.7 L784.2,252.0 L784.5,252.1 L785.6,252.3 L787.0,252.5 L787.1,252.5 L788.4,252.7 L789.8,253.0 L789.8,253.0 L791.2,253.2 L792.4,253.4 L792.6,253.4 L794.0,253.6 L795.0,253.8 L795.4,253.8 L796.8,254.0 L797.6,254.1 L798.2,254.2 L799.6,254.4 L800.2,254.4 L801.0,254.5 L802.5,254.7 L802.9,254.8 L803.9,254.9 L805.3,255.0 L805.5,255.0 L806.7,255.2 L808.1,255.3 L808.1,255.3 L809.5,255.4 L810.7,255.5 L810.9,255.5 L812.3,255.7 L813.3,255.7 L813.7,255.8 L815.1,255.9 L815.9,255.9 L816.5,256.0 L817.9,256.0 L818.6,256.1 L819.3,256.1 L820.7,256.2 L821.2,256.2 L822.1,256.3 L823.5,256.3 L823.8,256.3 L824.9,256.4 L826.3,256.4 L826.4,256.4 L827.7,256.4 L829.0,256.5 L829.1,256.5 L830.5,256.5 L831.7,256.5 L831.9,256.5 L833.3,256.5 L834.3,256.5 L834.7,256.5 L836.1,256.5 L836.9,256.5 L837.5,256.5 L838.9,256.5 L839.5,256.5 L840.3,256.5 L841.7,256.4 L842.1,256.4 L843.1,256.4 L844.5,256.3 L844.8,256.3 L845.9,256.3 L847.3,256.2 L847.4,256.2 L848.7,256.2 L850.0,256.1 L850.1,256.1 L851.5,256.0 L852.6,256.0 L853.0,255.9 L854.4,255.9 L855.2,255.8 L855.8,255.8 L857.2,255.7 L857.9,255.6 L858.6,255.6 L860.0,255.5 L860.5,255.4 L861.4,255.4 L862.8,255.2 L863.1,255.2 L864.2,255.1 L865.6,255.0 L865.7,255.0 L867.0,254.9 L868.3,254.7 L868.4,254.7 L869.8,254.6 L871.0,254.5 L871.2,254.4 L872.6,254.3 L873.6,254.2 L874.0,254.1 L875.4,254.0 L876.2,253.9 L876.8,253.8 L878.8,253.6 L881.4,253.2 L884.1,252.9 L886.7,252.5 L889.3,252.1 L891.9,251.8 L894.5,251.4 L897.2,251.0 L899.8,250.5 L902.4,250.1 L905.0,249.7 L907.6,249.2 L910.2,248.8 L912.9,248.3 L915.5,247.8 L918.1,247.4 L920.7,246.9 L923.3,246.4 L926.0,245.9 L928.6,245.4 L931.2,244.9 L933.8,244.3 L936.4,243.8 L939.1,243.3 L941.7,242.8 L944.3,242.2 L946.9,241.7 L949.5,241.2 L952.2,240.6 L954.8,240.1 L957.4,239.6 L960.0,239.0 L962.6,238.5 L965.3,238.0 L967.9,237.4 L970.5,236.9 L973.1,236.3 L975.7,235.8 L978.4,235.3 L981.0,234.7 L983.6,234.2 L986.2,233.7 L988.8,233.1 L991.5,232.6 L994.1,232.1 L996.7,231.6 L999.3,231.0 L1001.9,230.5 L1004.5,230.0 L1007.2,229.5 L1009.8,229.0 L1012.4,228.5 L1015.0,228.1 L1017.6,227.6 L1020.3,227.1 L1022.9,226.7 L1025.5,226.2 L1028.1,225.8 L1030.7,225.3 L1033.4,224.9 L1036.0,224.5 L1038.6,224.0 L1041.2,223.6 L1043.8,223.2 L1046.5,222.9 L1049.1,222.5 L1051.7,222.1 L1054.3,221.8 L1056.9,221.4 L1059.6,221.1 L1062.2,220.8 L1064.8,220.5 L1067.4,220.2 L1070.0,219.9 L1072.7,219.6 L1075.3,219.4 L1077.9,219.2 L1080.5,218.9 L1083.1,218.7 L1085.8,218.5 L1088.4,218.3 L1091.0,218.2 L1093.6,218.0 L1096.2,217.9 L1098.8,217.8 L1101.5,217.6 L1104.1,217.5 L1106.7,217.5 L1109.3,217.4 L1111.9,217.3 L1114.6,217.3 L1117.2,217.2 L1119.8,217.2 L1122.4,217.2 L1125.0,217.1 L1127.7,217.1 L1130.3,217.2 L1132.9,217.2 L1135.5,217.2 L1138.1,217.3 L1140.8,217.3 L1143.4,217.4 L1146.0,217.4 L1148.6,217.5 L1151.2,217.6 L1153.9,217.7 L1156.5,217.8 L1159.1,217.9 L1161.7,218.0 L1164.3,218.1 L1167.0,218.3 L1169.6,218.4 L1172.2,218.5 L1174.8,218.7 L1177.4,218.9 L1180.1,219.0 L1182.7,219.2 L1185.3,219.4 L1187.9,219.5 L1190.5,219.7 L1193.1,219.9 L1195.8,220.1 L1198.4,220.3 L1201.0,220.5 L1203.6,220.7 L1206.2,220.9 L1208.9,221.1 L1211.5,221.3 L1214.1,221.6 L1216.7,221.8 L1219.3,222.0 L1222.0,222.2 L1224.6,222.5 L1227.2,222.7 L1229.8,222.9 L1232.4,223.2 L1235.1,223.4 L1237.7,223.6 L1240.3,223.9 L1242.9,224.1 L1245.5,224.4 L1248.2,224.6 L1250.8,224.8 L1253.4,225.1 L1256.0,225.3 L1258.6,225.6 L1261.3,225.8 L1263.9,226.0 L1266.5,226.3 L1269.1,226.5 L1271.7,226.7 L1274.4,227.0 L1277.0,227.2 L1279.6,227.5 L1282.2,227.7 L1284.8,227.9 L1287.4,228.2 L1290.1,228.4 L1292.7,228.6 L1295.3,228.8 L1297.9,229.1 L1300.5,229.3 L1303.2,229.5 L1305.8,229.7 L1308.4,229.9 L1311.0,230.1 L1313.6,230.4 L1316.3,230.6 L1318.9,230.8 L1321.5,231.0 L1324.1,231.1 L1326.7,231.3 L1329.4,231.5 L1332.0,231.7 L1334.6,231.9 L1337.2,232.1 L1339.8,232.2 L1342.5,232.4 L1345.1,232.6 L1347.7,232.7 L1350.3,232.9 L1352.9,233.0 L1355.6,233.1 L1358.2,233.3 L1360.8,233.4 L1363.4,233.5 L1366.0,233.6 L1368.7,233.8 L1371.3,233.9 L1373.9,234.0 L1376.5,234.1 L1379.1,234.1 L1381.7,234.2 L1384.4,234.3 L1387.0,234.4 L1389.6,234.4 L1392.2,234.5 L1394.8,234.5 L1397.5,234.6 L1400.1,234.6 L1402.7,234.6 L1405.3,234.7 L1407.9,234.7 L1410.6,234.7 L1413.2,234.7 L1415.8,234.7 L1418.4,234.7 L1421.0,234.7 L1423.7,234.7 L1426.3,234.7 L1428.9,234.7 L1431.5,234.7 L1434.1,234.7 L1436.8,234.6 L1439.4,234.6 L1442.0,234.6 L1444.6,234.5 L1447.2,234.5 L1449.9,234.5 L1452.5,234.4 L1455.1,234.4 L1457.7,234.3 L1460.3,234.3 L1463.0,234.2 L1465.6,234.1 L1468.2,234.1 L1470.8,234.0 L1473.4,233.9 L1476.1,233.9 L1478.7,233.8 L1481.3,233.7 L1483.9,233.6 L1486.5,233.6 L1489.1,233.5 L1491.8,233.4 L1494.4,233.3 L1497.0,233.2 L1499.6,233.1 L1502.2,233.0 L1504.9,233.0 L1507.5,232.9 L1510.1,232.8 L1512.7,232.7 L1515.3,232.6 L1518.0,232.5 L1520.6,232.4 L1523.2,232.3 L1525.8,232.2 L1528.4,232.1 L1531.1,232.0 L1533.7,231.9 L1536.3,231.8 L1538.9,231.7 L1541.5,231.6 L1544.2,231.5 L1546.8,231.4 L1549.4,231.4 L1552.0,231.3 L1554.6,231.2 L1557.3,231.1 L1559.9,231.0 L1562.5,230.9 L1565.1,230.8 L1567.7,230.7 L1570.4,230.6 L1573.0,230.5 L1575.6,230.4 L1578.2,230.3 L1580.8,230.2 L1583.4,230.1 L1586.1,230.0 L1588.7,230.0 L1591.3,229.9 L1593.9,229.8 L1596.5,229.7 L1599.2,229.6 L1601.8,229.5 L1604.4,229.4 L1607.0,229.3 L1609.6,229.3 L1612.3,229.2 L1614.9,229.1 L1617.5,229.0 L1620.1,228.9 L1622.7,228.9 L1625.4,228.8 L1628.0,228.7 L1630.6,228.6 L1633.2,228.6 L1635.8,228.5 L1638.5,228.4 L1641.1,228.4 L1643.7,228.3 L1646.3,228.2 L1648.9,228.2 L1651.6,228.1 L1654.2,228.1 L1656.8,228.0 L1659.4,227.9 L1662.0,227.9 L1664.7,227.8 L1667.3,227.8 L1669.9,227.7 L1672.5,227.7 L1675.1,227.6 L1677.7,227.6 L1680.4,227.6 L1683.0,227.5 L1685.6,227.5 L1688.2,227.5 L1690.8,227.4 L1693.5,227.4 L1696.1,227.4 L1698.7,227.3 L1701.3,227.3 L1703.9,227.3 L1706.6,227.3 L1709.2,227.3 L1711.8,227.3 L1714.4,227.2 L1717.0,227.2 L1719.7,227.2 L1722.3,227.2 L1724.9,227.2 L1727.5,227.2 L1730.1,227.2 L1732.8,227.2 L1735.4,227.2 L1738.0,227.2 L1740.6,227.3 L1743.2,227.3 L1745.9,227.3 L1748.5,227.3 L1751.1,227.3 L1753.7,227.3 L1756.3,227.4 L1759.0,227.4 L1761.6,227.4 L1764.2,227.4 L1766.8,227.4 L1769.4,227.5 L1772.0,227.5 L1774.7,227.5 L1777.3,227.6 L1779.9,227.6 L1782.5,227.6 L1785.1,227.7 L1787.8,227.7 L1790.4,227.7 L1793.0,227.8 L1795.6,227.8 L1798.2,227.9 L1800.9,227.9 L1803.5,227.9 L1806.1,228.0 L1808.7,228.0 L1811.3,228.1 L1814.0,228.1 L1816.6,228.1 L1819.2,228.2 L1821.8,228.2 L1824.4,228.3 L1827.1,228.3 L1829.7,228.4 L1832.3,228.4 L1834.9,228.5 L1837.5,228.5 L1840.2,228.6 L1842.8,228.6 L1845.4,228.7 L1848.0,228.7 L1850.6,228.8 L1853.3,228.8 L1855.9,228.9 L1858.5,228.9 L1861.1,228.9 L1863.7,229.0 L1866.3,229.0 L1869.0,229.1 L1871.6,229.1 L1874.2,229.2 L1876.8,229.2 L1879.4,229.3 L1882.1,229.3 L1884.7,229.4 L1887.3,229.4 L1889.9,229.4 L1892.5,229.5 L1895.2,229.5 L1897.8,229.6 L1900.4,229.6 L1903.0,229.6 L1905.6,229.7 L1908.3,229.7 L1910.9,229.8 L1913.5,229.8 L1916.1,229.8 L1918.7,229.9 L1921.4,229.9 L1924.0,229.9 L1926.6,229.9 L1929.2,230.0 L1931.8,230.0 L1934.5,230.0 L1937.1,230.1 L1939.7,230.1 L1942.3,230.1 L1944.9,230.1 L1947.6,230.1 L1950.2,230.1 L1952.8,230.2 L1955.4,230.2 L1958.0,230.2 L1960.6,230.2 L1963.3,230.2 L1965.9,230.2 L1968.5,230.2 L1971.1,230.2 L1973.7,230.2 L1976.4,230.2 L1979.0,230.2 L1981.6,230.2 L1984.2,230.2 L1986.8,230.2 L1989.5,230.2 L1992.1,230.1 L1994.7,230.1 L1997.3,230.1 L1999.9,230.1 L2002.6,230.1 L2005.2,230.0 L2007.8,230.0" stroke="#D95319" stroke-width="8.45" fill="none" stroke-linejoin="round" stroke-dasharray="6.15 6.15"/>
<path d="M176.8,415.3 L178.2,412.0 L179.4,409.2 L179.6,408.7 L181.0,405.6 L182.0,403.4 L182.4,402.6 L183.8,399.6 L184.7,397.8 L185.2,396.6 L186.6,393.7 L187.3,392.4 L188.0,390.9 L189.4,388.1 L189.9,387.2 L190.8,385.3 L192.2,382.5 L192.5,382.0 L193.6,379.8 L195.0,377.0 L195.1,376.8 L196.4,374.2 L197.8,371.6 L197.8,371.4 L199.2,368.6 L200.4,366.3 L200.6,365.8 L202.1,362.9 L203.0,360.9 L203.5,359.9 L204.9,356.9 L205.6,355.2 L206.3,353.8 L207.7,350.7 L208.2,349.3 L209.1,347.4 L210.5,344.1 L210.9,343.1 L211.9,340.6 L213.3,337.0 L213.5,336.5 L214.7,333.4 L216.1,329.6 L216.1,329.6 L217.5,325.9 L218.7,322.6 L218.9,322.1 L220.3,318.4 L221.3,315.6 L221.7,314.7 L223.1,311.2 L224.0,309.0 L224.5,307.7 L225.9,304.3 L226.6,302.7 L227.3,300.9 L228.7,297.6 L229.2,296.5 L230.1,294.4 L231.5,291.1 L231.8,290.4 L232.9,287.8 L234.3,284.5 L234.4,284.2 L235.7,281.2 L237.0,278.0 L237.1,277.9 L238.5,274.6 L239.7,271.9 L239.9,271.3 L241.3,268.0 L242.3,265.7 L242.7,264.7 L244.1,261.4 L244.9,259.6 L245.5,258.1 L246.9,254.9 L247.5,253.5 L248.3,251.7 L249.7,248.4 L250.1,247.5 L251.1,245.3 L252.6,242.1 L252.8,241.6 L254.0,238.9 L255.4,235.8 L255.4,235.8 L256.8,232.8 L258.0,230.1 L258.2,229.7 L259.6,226.7 L260.6,224.5 L261.0,223.7 L262.4,220.8 L263.2,219.0 L263.8,217.9 L265.2,215.1 L265.9,213.7 L266.6,212.3 L268.0,209.5 L268.5,208.5 L269.4,206.8 L270.8,204.2 L271.1,203.6 L272.2,201.6 L273.6,199.0 L273.7,198.8 L275.0,196.5 L276.3,194.2 L276.4,194.1 L277.8,191.8 L279.0,189.9 L279.2,189.5 L280.6,187.3 L281.6,185.8 L282.0,185.1 L283.4,183.0 L284.2,181.9 L284.8,181.0 L286.2,179.0 L286.8,178.2 L287.6,177.2 L289.0,175.3 L289.4,174.8 L290.4,173.6 L291.8,171.9 L292.1,171.6 L293.2,170.2 L294.6,168.6 L294.7,168.6 L296.0,167.1 L297.3,165.7 L297.4,165.6 L298.8,164.1 L299.9,163.0 L300.2,162.7 L301.6,161.3 L302.5,160.5 L303.1,160.0 L304.5,158.7 L305.2,158.1 L305.9,157.4 L307.3,156.2 L307.8,155.8 L308.7,155.0 L310.1,153.8 L310.4,153.6 L311.5,152.7 L312.9,151.5 L313.0,151.4 L314.3,150.4 L315.6,149.4 L315.7,149.3 L317.1,148.2 L318.3,147.4 L318.5,147.2 L319.9,146.1 L320.9,145.4 L321.3,145.1 L322.7,144.1 L323.5,143.5 L324.1,143.1 L325.5,142.1 L326.1,141.7 L326.9,141.1 L328.3,140.2 L328.7,139.9 L329.7,139.3 L331.1,138.4 L331.3,138.3 L332.5,137.6 L333.9,136.8 L334.0,136.7 L335.3,136.0 L336.6,135.3 L336.7,135.2 L338.1,134.5 L339.2,133.9 L339.5,133.8 L340.9,133.1 L341.8,132.7 L342.3,132.5 L343.7,131.9 L344.4,131.6 L345.1,131.3 L346.5,130.8 L347.1,130.6 L347.9,130.3 L349.3,129.8 L349.7,129.7 L350.7,129.4 L352.2,129.0 L352.3,129.0 L353.6,128.7 L354.9,128.4 L355.0,128.3 L356.4,128.1 L357.5,127.8 L357.8,127.8 L359.2,127.6 L360.2,127.4 L360.6,127.3 L362.0,127.2 L362.8,127.1 L363.4,127.0 L364.8,126.9 L365.4,126.9 L366.2,126.8 L367.6,126.8 L368.0,126.8 L369.0,126.7 L370.4,126.7 L370.6,126.7 L371.8,126.8 L373.2,126.8 L373.3,126.8 L374.6,126.9 L375.9,127.0 L376.0,127.0 L377.4,127.1 L378.5,127.2 L378.8,127.2 L380.2,127.4 L381.1,127.5 L381.6,127.6 L383.0,127.8 L383.7,127.9 L384.4,128.1 L385.8,128.3 L386.4,128.4 L387.2,128.6 L388.6,128.9 L389.0,129.0 L390.0,129.2 L391.4,129.6 L391.6,129.6 L392.8,129.9 L394.2,130.3 L394.2,130.3 L395.6,130.7 L396.8,131.1 L397.0,131.1 L398.4,131.6 L399.5,131.9 L399.8,132.0 L401.2,132.5 L402.1,132.8 L402.7,133.0 L404.1,133.5 L404.7,133.7 L405.5,134.0 L406.9,134.6 L407.3,134.7 L408.3,135.1 L409.7,135.7 L409.9,135.8 L411.1,136.3 L412.5,136.9 L412.6,136.9 L413.9,137.5 L415.2,138.0 L415.3,138.1 L416.7,138.7 L417.8,139.2 L418.1,139.4 L419.5,140.1 L420.4,140.5 L420.9,140.7 L422.3,141.4 L423.0,141.8 L423.7,142.1 L425.1,142.9 L425.6,143.1 L426.5,143.6 L427.9,144.3 L428.3,144.5 L429.3,145.1 L430.7,145.9 L430.9,146.0 L432.1,146.7 L433.5,147.5 L433.5,147.5 L434.9,148.3 L436.1,149.0 L436.3,149.1 L437.7,150.0 L438.7,150.6 L439.1,150.8 L440.5,151.7 L441.4,152.2 L441.9,152.5 L443.3,153.4 L444.0,153.9 L444.7,154.3 L446.1,155.3 L446.6,155.6 L447.5,156.2 L448.9,157.2 L449.2,157.4 L450.3,158.2 L451.7,159.2 L451.8,159.3 L453.2,160.2 L454.5,161.2 L454.6,161.3 L456.0,162.4 L457.1,163.3 L457.4,163.5 L458.8,164.6 L459.7,165.3 L460.2,165.7 L461.6,166.8 L462.3,167.4 L463.0,167.9 L464.4,169.1 L464.9,169.5 L465.8,170.2 L467.2,171.3 L467.6,171.7 L468.6,172.5 L470.0,173.6 L470.2,173.8 L471.4,174.8 L472.8,175.9 L472.8,175.9 L474.2,177.1 L475.4,178.1 L475.6,178.3 L477.0,179.4 L478.0,180.3 L478.4,180.6 L479.8,181.8 L480.7,182.5 L481.2,183.0 L482.6,184.1 L483.3,184.7 L484.0,185.3 L485.4,186.5 L485.9,186.9 L486.8,187.7 L488.2,188.9 L488.5,189.1 L489.6,190.0 L491.0,191.2 L491.1,191.3 L492.4,192.4 L493.8,193.5 L493.8,193.6 L495.2,194.8 L496.4,195.7 L496.6,196.0 L498.0,197.1 L499.0,197.9 L499.4,198.3 L500.8,199.5 L501.6,200.1 L502.3,200.7 L503.7,201.8 L504.2,202.3 L505.1,203.0 L506.5,204.2 L506.9,204.5 L507.9,205.3 L509.3,206.5 L509.5,206.7 L510.7,207.6 L512.1,208.8 L512.1,208.8 L513.5,209.9 L514.7,210.9 L514.9,211.1 L516.3,212.2 L517.3,213.1 L517.7,213.3 L519.1,214.5 L519.9,215.2 L520.5,215.6 L521.9,216.7 L522.6,217.2 L523.3,217.8 L524.7,218.9 L525.2,219.3 L526.1,220.0 L527.5,221.1 L527.8,221.3 L528.9,222.2 L530.3,223.2 L530.4,223.3 L531.7,224.3 L533.0,225.3 L533.1,225.3 L534.5,226.4 L535.7,227.2 L535.9,227.4 L537.3,228.4 L538.3,229.1 L538.7,229.5 L540.1,230.5 L540.9,231.0 L541.5,231.4 L542.9,232.4 L543.5,232.8 L544.3,233.4 L545.7,234.4 L546.1,234.6 L547.1,235.3 L548.5,236.3 L548.8,236.4 L549.9,237.2 L551.3,238.1 L551.4,238.1 L552.8,239.0 L554.0,239.8 L554.2,239.9 L555.6,240.8 L556.6,241.4 L557.0,241.7 L558.4,242.5 L559.2,243.1 L559.8,243.4 L561.2,244.2 L561.9,244.6 L562.6,245.0 L564.0,245.9 L564.5,246.1 L565.4,246.7 L566.8,247.5 L567.1,247.6 L568.2,248.2 L569.6,249.0 L569.7,249.1 L571.0,249.8 L572.3,250.5 L572.4,250.5 L573.8,251.3 L575.0,251.9 L575.2,252.0 L576.6,252.7 L577.6,253.2 L578.0,253.4 L579.4,254.1 L580.2,254.5 L580.8,254.8 L582.2,255.5 L582.8,255.8 L583.6,256.1 L585.0,256.8 L585.4,257.0 L586.4,257.4 L587.8,258.0 L588.1,258.1 L589.2,258.7 L590.6,259.3 L590.7,259.3 L592.0,259.8 L593.3,260.4 L593.4,260.4 L594.8,261.0 L595.9,261.4 L596.2,261.5 L597.6,262.1 L598.5,262.4 L599.0,262.6 L600.4,263.1 L601.2,263.4 L601.9,263.6 L603.3,264.1 L603.8,264.3 L604.7,264.6 L606.1,265.1 L606.4,265.2 L607.5,265.6 L608.9,266.0 L609.0,266.1 L610.3,266.4 L611.6,266.9 L611.7,266.9 L613.1,267.3 L614.2,267.6 L614.5,267.7 L615.9,268.1 L616.9,268.3 L617.3,268.4 L618.7,268.8 L619.5,269.0 L620.1,269.2 L621.5,269.5 L622.1,269.6 L622.9,269.8 L624.3,270.1 L624.7,270.2 L625.7,270.4 L627.1,270.7 L627.3,270.8 L628.5,271.0 L629.9,271.3 L630.0,271.3 L631.3,271.5 L632.6,271.7 L632.7,271.8 L634.1,272.0 L635.2,272.2 L635.5,272.2 L636.9,272.4 L637.8,272.5 L638.3,272.6 L639.7,272.8 L640.4,272.9 L641.1,272.9 L642.5,273.1 L643.1,273.2 L643.9,273.2 L645.3,273.4 L645.7,273.4 L646.7,273.5 L648.1,273.6 L648.3,273.6 L649.5,273.7 L650.9,273.8 L650.9,273.8 L652.4,273.8 L653.5,273.9 L653.8,273.9 L655.2,273.9 L656.2,274.0 L656.6,274.0 L658.0,274.0 L658.8,274.0 L659.4,274.0 L660.8,274.0 L661.4,274.0 L662.2,274.0 L663.6,274.0 L664.0,274.0 L665.0,273.9 L666.4,273.9 L666.6,273.9 L667.8,273.8 L669.2,273.8 L669.3,273.8 L670.6,273.7 L671.9,273.6 L672.0,273.6 L673.4,273.5 L674.5,273.5 L674.8,273.4 L676.2,273.3 L677.1,273.2 L677.6,273.2 L679.0,273.1 L679.7,273.0 L680.4,272.9 L681.8,272.8 L682.4,272.7 L683.2,272.6 L684.6,272.5 L685.0,272.4 L686.0,272.3 L687.4,272.1 L687.6,272.1 L688.8,271.9 L690.2,271.7 L690.2,271.7 L691.6,271.5 L692.8,271.4 L693.0,271.3 L694.4,271.1 L695.5,270.9 L695.8,270.9 L697.2,270.6 L698.1,270.5 L698.6,270.4 L700.0,270.2 L700.7,270.0 L701.4,269.9 L702.9,269.6 L703.3,269.6 L704.3,269.4 L705.7,269.1 L705.9,269.0 L707.1,268.8 L708.5,268.5 L708.5,268.5 L709.9,268.2 L711.2,268.0 L711.3,267.9 L712.7,267.6 L713.8,267.4 L714.1,267.3 L715.5,267.0 L716.4,266.8 L716.9,266.7 L718.3,266.4 L719.0,266.2 L719.7,266.0 L721.1,265.7 L721.6,265.6 L722.5,265.4 L723.9,265.0 L724.3,264.9 L725.3,264.7 L726.7,264.3 L726.9,264.3 L728.1,264.0 L729.5,263.6 L729.5,263.6 L730.9,263.2 L732.1,262.9 L732.3,262.9 L733.7,262.5 L734.7,262.2 L735.1,262.1 L736.5,261.7 L737.4,261.5 L737.9,261.4 L739.3,261.0 L740.0,260.8 L740.7,260.6 L742.1,260.2 L742.6,260.0 L743.5,259.8 L744.9,259.4 L745.2,259.3 L746.3,259.0 L747.7,258.6 L747.8,258.5 L749.1,258.2 L750.5,257.8 L750.5,257.7 L752.0,257.3 L753.1,257.0 L753.4,256.9 L754.8,256.5 L755.7,256.2 L756.2,256.1 L757.6,255.6 L758.3,255.4 L759.0,255.2 L760.4,254.8 L760.9,254.6 L761.8,254.3 L763.2,253.9 L763.6,253.8 L764.6,253.4 L766.0,253.0 L766.2,252.9 L767.4,252.6 L768.8,252.1 L768.8,252.1 L770.2,251.7 L771.4,251.3 L771.6,251.2 L773.0,250.7 L774.0,250.4 L774.4,250.3 L775.8,249.8 L776.7,249.6 L777.2,249.4 L778.6,248.9 L779.3,248.7 L780.0,248.5 L781.4,248.0 L781.9,247.8 L782.8,247.5 L784.2,247.1 L784.5,247.0 L785.6,246.6 L787.0,246.1 L787.1,246.1 L788.4,245.6 L789.8,245.2 L789.8,245.2 L791.2,244.7 L792.4,244.3 L792.6,244.2 L794.0,243.8 L795.0,243.4 L795.4,243.3 L796.8,242.8 L797.6,242.5 L798.2,242.3 L799.6,241.8 L800.2,241.6 L801.0,241.4 L802.5,240.9 L802.9,240.8 L803.9,240.4 L805.3,239.9 L805.5,239.9 L806.7,239.5 L808.1,239.0 L808.1,239.0 L809.5,238.5 L810.7,238.1 L810.9,238.0 L812.3,237.5 L813.3,237.2 L813.7,237.1 L815.1,236.6 L815.9,236.3 L816.5,236.1 L817.9,235.6 L818.6,235.4 L819.3,235.1 L820.7,234.7 L821.2,234.5 L822.1,234.2 L823.5,233.7 L823.8,233.6 L824.9,233.2 L826.3,232.8 L826.4,232.7 L827.7,232.3 L829.0,231.8 L829.1,231.8 L830.5,231.3 L831.7,230.9 L831.9,230.9 L833.3,230.4 L834.3,230.1 L834.7,229.9 L836.1,229.5 L836.9,229.2 L837.5,229.0 L838.9,228.5 L839.5,228.4 L840.3,228.1 L841.7,227.6 L842.1,227.5 L843.1,227.2 L844.5,226.7 L844.8,226.7 L845.9,226.3 L847.3,225.9 L847.4,225.8 L848.7,225.4 L850.0,225.0 L850.1,225.0 L851.5,224.6 L852.6,224.2 L853.0,224.1 L854.4,223.7 L855.2,223.5 L855.8,223.3 L857.2,222.9 L857.9,222.7 L858.6,222.5 L860.0,222.1 L860.5,221.9 L861.4,221.7 L862.8,221.3 L863.1,221.2 L864.2,220.9 L865.6,220.6 L865.7,220.5 L867.0,220.2 L868.3,219.8 L868.4,219.8 L869.8,219.5 L871.0,219.2 L871.2,219.1 L872.6,218.8 L873.6,218.5 L874.0,218.4 L875.4,218.1 L876.2,217.9 L876.8,217.8 L878.8,217.4 L881.4,216.8 L884.1,216.3 L886.7,215.8 L889.3,215.3 L891.9,214.8 L894.5,214.4 L897.2,214.0 L899.8,213.6 L902.4,213.2 L905.0,212.9 L907.6,212.6 L910.2,212.3 L912.9,212.0 L915.5,211.7 L918.1,211.5 L920.7,211.3 L923.3,211.1 L926.0,210.9 L928.6,210.7 L931.2,210.6 L933.8,210.4 L936.4,210.3 L939.1,210.2 L941.7,210.1 L944.3,210.1 L946.9,210.0 L949.5,210.0 L952.2,210.0 L954.8,210.0 L957.4,210.0 L960.0,210.0 L962.6,210.1 L965.3,210.1 L967.9,210.2 L970.5,210.3 L973.1,210.4 L975.7,210.5 L978.4,210.6 L981.0,210.7 L983.6,210.9 L986.2,211.0 L988.8,211.2 L991.5,211.4 L994.1,211.6 L996.7,211.8 L999.3,212.0 L1001.9,212.2 L1004.5,212.4 L1007.2,212.7 L1009.8,212.9 L1012.4,213.2 L1015.0,213.5 L1017.6,213.7 L1020.3,214.0 L1022.9,214.3 L1025.5,214.6 L1028.1,214.9 L1030.7,215.2 L1033.4,215.5 L1036.0,215.9 L1038.6,216.2 L1041.2,216.5 L1043.8,216.9 L1046.5,217.2 L1049.1,217.6 L1051.7,217.9 L1054.3,218.3 L1056.9,218.6 L1059.6,219.0 L1062.2,219.4 L1064.8,219.7 L1067.4,220.1 L1070.0,220.5 L1072.7,220.9 L1075.3,221.2 L1077.9,221.6 L1080.5,222.0 L1083.1,222.4 L1085.8,222.8 L1088.4,223.1 L1091.0,223.5 L1093.6,223.9 L1096.2,224.3 L1098.8,224.7 L1101.5,225.0 L1104.1,225.4 L1106.7,225.8 L1109.3,226.2 L1111.9,226.5 L1114.6,226.9 L1117.2,227.3 L1119.8,227.6 L1122.4,228.0 L1125.0,228.3 L1127.7,228.7 L1130.3,229.0 L1132.9,229.4 L1135.5,229.7 L1138.1,230.1 L1140.8,230.4 L1143.4,230.7 L1146.0,231.0 L1148.6,231.3 L1151.2,231.6 L1153.9,231.9 L1156.5,232.2 L1159.1,232.5 L1161.7,232.7 L1164.3,233.0 L1167.0,233.3 L1169.6,233.5 L1172.2,233.7 L1174.8,234.0 L1177.4,234.2 L1180.1,234.4 L1182.7,234.6 L1185.3,234.8 L1187.9,235.0 L1190.5,235.2 L1193.1,235.4 L1195.8,235.6 L1198.4,235.7 L1201.0,235.9 L1203.6,236.1 L1206.2,236.2 L1208.9,236.3 L1211.5,236.5 L1214.1,236.6 L1216.7,236.7 L1219.3,236.8 L1222.0,236.9 L1224.6,237.0 L1227.2,237.1 L1229.8,237.2 L1232.4,237.3 L1235.1,237.4 L1237.7,237.4 L1240.3,237.5 L1242.9,237.5 L1245.5,237.6 L1248.2,237.6 L1250.8,237.7 L1253.4,237.7 L1256.0,237.7 L1258.6,237.7 L1261.3,237.7 L1263.9,237.7 L1266.5,237.7 L1269.1,237.7 L1271.7,237.7 L1274.4,237.7 L1277.0,237.7 L1279.6,237.6 L1282.2,237.6 L1284.8,237.5 L1287.4,237.5 L1290.1,237.4 L1292.7,237.4 L1295.3,237.3 L1297.9,237.2 L1300.5,237.1 L1303.2,237.1 L1305.8,237.0 L1308.4,236.9 L1311.0,236.8 L1313.6,236.7 L1316.3,236.6 L1318.9,236.5 L1321.5,236.4 L1324.1,236.3 L1326.7,236.1 L1329.4,236.0 L1332.0,235.9 L1334.6,235.8 L1337.2,235.6 L1339.8,235.5 L1342.5,235.4 L1345.1,235.2 L1347.7,235.1 L1350.3,234.9 L1352.9,234.8 L1355.6,234.6 L1358.2,234.5 L1360.8,234.3 L1363.4,234.2 L1366.0,234.0 L1368.7,233.8 L1371.3,233.7 L1373.9,233.5 L1376.5,233.4 L1379.1,233.2 L1381.7,233.0 L1384.4,232.9 L1387.0,232.7 L1389.6,232.5 L1392.2,232.4 L1394.8,232.2 L1397.5,232.0 L1400.1,231.8 L1402.7,231.7 L1405.3,231.5 L1407.9,231.3 L1410.6,231.2 L1413.2,231.0 L1415.8,230.8 L1418.4,230.7 L1421.0,230.5 L1423.7,230.3 L1426.3,230.2 L1428.9,230.0 L1431.5,229.8 L1434.1,229.7 L1436.8,229.5 L1439.4,229.4 L1442.0,229.2 L1444.6,229.1 L1447.2,228.9 L1449.9,228.8 L1452.5,228.6 L1455.1,228.5 L1457.7,228.3 L1460.3,228.2 L1463.0,228.1 L1465.6,227.9 L1468.2,227.8 L1470.8,227.7 L1473.4,227.6 L1476.1,227.4 L1478.7,227.3 L1481.3,227.2 L1483.9,227.1 L1486.5,227.0 L1489.1,226.9 L1491.8,226.8 L1494.4,226.7 L1497.0,226.6 L1499.6,226.5 L1502.2,226.5 L1504.9,226.4 L1507.5,226.3 L1510.1,226.3 L1512.7,226.2 L1515.3,226.1 L1518.0,226.1 L1520.6,226.0 L1523.2,226.0 L1525.8,225.9 L1528.4,225.9 L1531.1,225.9 L1533.7,225.8 L1536.3,225.8 L1538.9,225.8 L1541.5,225.8 L1544.2,225.8 L1546.8,225.7 L1549.4,225.7 L1552.0,225.7 L1554.6,225.7 L1557.3,225.7 L1559.9,225.7 L1562.5,225.7 L1565.1,225.7 L1567.7,225.7 L1570.4,225.8 L1573.0,225.8 L1575.6,225.8 L1578.2,225.8 L1580.8,225.8 L1583.4,225.9 L1586.1,225.9 L1588.7,225.9 L1591.3,225.9 L1593.9,226.0 L1596.5,226.0 L1599.2,226.1 L1601.8,226.1 L1604.4,226.1 L1607.0,226.2 L1609.6,226.2 L1612.3,226.3 L1614.9,226.3 L1617.5,226.4 L1620.1,226.4 L1622.7,226.5 L1625.4,226.6 L1628.0,226.6 L1630.6,226.7 L1633.2,226.7 L1635.8,226.8 L1638.5,226.9 L1641.1,226.9 L1643.7,227.0 L1646.3,227.0 L1648.9,227.1 L1651.6,227.2 L1654.2,227.3 L1656.8,227.3 L1659.4,227.4 L1662.0,227.5 L1664.7,227.5 L1667.3,227.6 L1669.9,227.7 L1672.5,227.7 L1675.1,227.8 L1677.7,227.9 L1680.4,228.0 L1683.0,228.0 L1685.6,228.1 L1688.2,228.2 L1690.8,228.3 L1693.5,228.3 L1696.1,228.4 L1698.7,228.5 L1701.3,228.6 L1703.9,228.6 L1706.6,228.7 L1709.2,228.8 L1711.8,228.8 L1714.4,228.9 L1717.0,229.0 L1719.7,229.1 L1722.3,229.1 L1724.9,229.2 L1727.5,229.3 L1730.1,229.3 L1732.8,229.4 L1735.4,229.5 L1738.0,229.5 L1740.6,229.6 L1743.2,229.6 L1745.9,229.7 L1748.5,229.8 L1751.1,229.8 L1753.7,229.9 L1756.3,229.9 L1759.0,230.0 L1761.6,230.0 L1764.2,230.1 L1766.8,230.1 L1769.4,230.2 L1772.0,230.2 L1774.7,230.2 L1777.3,230.3 L1779.9,230.3 L1782.5,230.4 L1785.1,230.4 L1787.8,230.4 L1790.4,230.5 L1793.0,230.5 L1795.6,230.5 L1798.2,230.5 L1800.9,230.6 L1803.5,230.6 L1806.1,230.6 L1808.7,230.6 L1811.3,230.7 L1814.0,230.7 L1816.6,230.7 L1819.2,230.7 L1821.8,230.7 L1824.4,230.8 L1827.1,230.8 L1829.7,230.8 L1832.3,230.8 L1834.9,230.8 L1837.5,230.8 L1840.2,230.8 L1842.8,230.8 L1845.4,230.8 L1848.0,230.9 L1850.6,230.9 L1853.3,230.9 L1855.9,230.9 L1858.5,230.9 L1861.1,230.9 L1863.7,230.9 L1866.3,230.9 L1869.0,230.9 L1871.6,230.9 L1874.2,230.9 L1876.8,230.9 L1879.4,230.9 L1882.1,230.9 L1884.7,230.9 L1887.3,230.9 L1889.9,230.9 L1892.5,230.9 L1895.2,230.9 L1897.8,230.8 L1900.4,230.8 L1903.0,230.8 L1905.6,230.8 L1908.3,230.8 L1910.9,230.8 L1913.5,230.8 L1916.1,230.8 L1918.7,230.8 L1921.4,230.8 L1924.0,230.8 L1926.6,230.8 L1929.2,230.8 L1931.8,230.7 L1934.5,230.7 L1937.1,230.7 L1939.7,230.7 L1942.3,230.7 L1944.9,230.7 L1947.6,230.7 L1950.2,230.7 L1952.8,230.7 L1955.4,230.7 L1958.0,230.6 L1960.6,230.6 L1963.3,230.6 L1965.9,230.6 L1968.5,230.6 L1971.1,230.6 L1973.7,230.6 L1976.4,230.6 L1979.0,230.6 L1981.6,230.6 L1984.2,230.6 L1986.8,230.6 L1989.5,230.5 L1992.1,230.5 L1994.7,230.5 L1997.3,230.5 L1999.9,230.5 L2002.6,230.5 L2005.2,230.5 L2007.8,230.5" stroke="#0072BD" stroke-width="8.45" fill="none" stroke-linejoin="round" stroke-dasharray="24.5 24.5"/>
<rect x="1708.2" y="-0.6" width="277.6" height="212.8" fill="#fff" stroke="#000" stroke-width="4.6"/>
<path d="M1726.0,39.6H1848.0" stroke="#000" stroke-width="8.45" fill="none"/>
<path d="M1726.0,106.3H1848.0" stroke="#D95319" stroke-width="8.45" fill="none" stroke-dasharray="6.15 6.15"/>
<path d="M1726.0,173.2H1848.0" stroke="#0072BD" stroke-width="8.45" fill="none" stroke-dasharray="24.5 24.5"/>
<text x="1861" y="53.5" font-size="62.5"><tspan font-style="italic">u</tspan>(<tspan font-style="italic">t</tspan>)</text>
<text x="1862" y="117.7" font-size="62.5"><tspan font-style="italic">x</tspan><tspan font-size="35.5" dy="11.6" dx="1">1</tspan><tspan dy="-11.6" dx="0.8">(</tspan><tspan font-style="italic">t</tspan>)</text>
<text x="1862" y="185.0" font-size="62.5"><tspan font-style="italic">x</tspan><tspan font-size="35.5" dy="11.6" dx="1">2</tspan><tspan dy="-11.6" dx="0.8">(</tspan><tspan font-style="italic">t</tspan>)</text>
<path d="M359.8,766.5V1183.5M542.9,766.5V1183.5M726.0,766.5V1183.5M909.1,766.5V1183.5M1092.2,766.5V1183.5M1275.4,766.5V1183.5M1458.5,766.5V1183.5M1641.6,766.5V1183.5M1824.7,766.5V1183.5M2007.8,766.5V1183.5" stroke="#000" stroke-opacity="0.14" stroke-width="2.1" fill="none"/>
<path d="M199.0,835.6H2007.8M199.0,974.6H2007.8M199.0,1113.6H2007.8" stroke="#000" stroke-opacity="0.14" stroke-width="2.1" fill="none"/>
<path d="M176.7,764.1V1183.5H2010.1M359.8,1183.5v-20M542.9,1183.5v-20M726.0,1183.5v-20M909.1,1183.5v-20M1092.2,1183.5v-20M1275.4,1183.5v-20M1458.5,1183.5v-20M1641.6,1183.5v-20M1824.7,1183.5v-20M2007.8,1183.5v-20M176.7,835.6h20.6M176.7,974.6h20.6M176.7,1113.6h20.6" stroke="#000" stroke-width="4.7" fill="none" stroke-linejoin="miter"/>
<text x="176.7" y="1251.8" font-size="62.5" text-anchor="middle">0</text>
<text x="359.8" y="1251.8" font-size="62.5" text-anchor="middle">2</text>
<text x="542.9" y="1251.8" font-size="62.5" text-anchor="middle">4</text>
<text x="726.0" y="1251.8" font-size="62.5" text-anchor="middle">6</text>
<text x="909.1" y="1251.8" font-size="62.5" text-anchor="middle">8</text>
<text x="1092.2" y="1251.8" font-size="62.5" text-anchor="middle">10</text>
<text x="1275.4" y="1251.8" font-size="62.5" text-anchor="middle">12</text>
<text x="1458.5" y="1251.8" font-size="62.5" text-anchor="middle">14</text>
<text x="1641.6" y="1251.8" font-size="62.5" text-anchor="middle">16</text>
<text x="1824.7" y="1251.8" font-size="62.5" text-anchor="middle">18</text>
<text x="2007.8" y="1251.8" font-size="62.5" text-anchor="middle">20</text>
<text x="152.0" y="856.7" font-size="62.5" text-anchor="end">2</text>
<text x="152.0" y="995.7" font-size="62.5" text-anchor="end">1</text>
<text x="152.0" y="1134.7" font-size="62.5" text-anchor="end">0</text>
<text x="1092.2" y="1321.3" font-size="62.5" text-anchor="middle">Time (s)</text>
<text x="1092.0" y="1395.0" font-size="62.5" text-anchor="middle">(b) Critic learning process</text>
<path d="M176.7,974.6H2007.8" stroke="#000" stroke-width="8.45" fill="none"/>
<path d="M176.7,1113.6H2007.8" stroke="#000" stroke-width="8.45" fill="none"/>
<path d="M176.8,986.4 L178.2,988.2 L179.4,989.7 L179.6,989.9 L181.0,991.5 L182.0,992.7 L182.4,993.1 L183.8,994.6 L184.7,995.4 L185.2,996.0 L186.6,997.3 L187.3,997.9 L188.0,998.6 L189.4,999.8 L189.9,1000.2 L190.8,1001.0 L192.2,1002.2 L192.5,1002.4 L193.6,1003.3 L195.0,1004.3 L195.1,1004.4 L196.4,1005.4 L197.8,1006.4 L197.8,1006.4 L199.2,1007.4 L200.4,1008.2 L200.6,1008.4 L202.1,1009.4 L203.0,1010.1 L203.5,1010.4 L204.9,1011.3 L205.6,1011.8 L206.3,1012.2 L207.7,1013.1 L208.2,1013.5 L209.1,1014.0 L210.5,1014.9 L210.9,1015.1 L211.9,1015.7 L213.3,1016.6 L213.5,1016.7 L214.7,1017.4 L216.1,1018.2 L216.1,1018.2 L217.5,1019.0 L218.7,1019.7 L218.9,1019.8 L220.3,1020.5 L221.3,1021.1 L221.7,1021.3 L223.1,1022.0 L224.0,1022.4 L224.5,1022.7 L225.9,1023.3 L226.6,1023.7 L227.3,1024.0 L228.7,1024.6 L229.2,1024.9 L230.1,1025.3 L231.5,1025.9 L231.8,1026.0 L232.9,1026.4 L234.3,1027.0 L234.4,1027.0 L235.7,1027.5 L237.0,1028.0 L237.1,1028.0 L238.5,1028.5 L239.7,1028.9 L239.9,1029.0 L241.3,1029.4 L242.3,1029.7 L242.7,1029.8 L244.1,1030.2 L244.9,1030.4 L245.5,1030.6 L246.9,1030.9 L247.5,1031.0 L248.3,1031.2 L249.7,1031.5 L250.1,1031.6 L251.1,1031.8 L252.6,1032.0 L252.8,1032.0 L254.0,1032.2 L255.4,1032.3 L255.4,1032.3 L256.8,1032.4 L258.0,1032.5 L258.2,1032.5 L259.6,1032.5 L260.6,1032.4 L261.0,1032.4 L262.4,1032.3 L263.2,1032.2 L263.8,1032.2 L265.2,1031.9 L265.9,1031.8 L266.6,1031.6 L268.0,1031.2 L268.5,1031.1 L269.4,1030.8 L270.8,1030.3 L271.1,1030.1 L272.2,1029.6 L273.6,1028.9 L273.7,1028.9 L275.0,1028.1 L276.3,1027.3 L276.4,1027.3 L277.8,1026.3 L279.0,1025.4 L279.2,1025.2 L280.6,1024.0 L281.6,1023.1 L282.0,1022.7 L283.4,1021.2 L284.2,1020.4 L284.8,1019.7 L286.2,1018.1 L286.8,1017.3 L287.6,1016.3 L289.0,1014.5 L289.4,1013.9 L290.4,1012.6 L291.8,1010.6 L292.1,1010.2 L293.2,1008.5 L294.6,1006.3 L294.7,1006.2 L296.0,1004.1 L297.3,1002.0 L297.4,1001.8 L298.8,999.4 L299.9,997.6 L300.2,997.0 L301.6,994.5 L302.5,992.9 L303.1,992.0 L304.5,989.5 L305.2,988.2 L305.9,986.9 L307.3,984.3 L307.8,983.3 L308.7,981.7 L310.1,979.0 L310.4,978.4 L311.5,976.3 L312.9,973.6 L313.0,973.4 L314.3,970.9 L315.6,968.3 L315.7,968.2 L317.1,965.5 L318.3,963.2 L318.5,962.7 L319.9,960.0 L320.9,958.0 L321.3,957.2 L322.7,954.4 L323.5,952.8 L324.1,951.6 L325.5,948.8 L326.1,947.6 L326.9,946.0 L328.3,943.2 L328.7,942.4 L329.7,940.4 L331.1,937.6 L331.3,937.1 L332.5,934.8 L333.9,932.0 L334.0,931.9 L335.3,929.2 L336.6,926.7 L336.7,926.5 L338.1,923.7 L339.2,921.6 L339.5,920.9 L340.9,918.2 L341.8,916.4 L342.3,915.5 L343.7,912.7 L344.4,911.4 L345.1,910.0 L346.5,907.4 L347.1,906.4 L347.9,904.7 L349.3,902.1 L349.7,901.4 L350.7,899.4 L352.2,896.9 L352.3,896.6 L353.6,894.3 L354.9,891.8 L355.0,891.7 L356.4,889.2 L357.5,887.1 L357.8,886.8 L359.2,884.3 L360.2,882.6 L360.6,881.9 L362.0,879.5 L362.8,878.2 L363.4,877.2 L364.8,874.9 L365.4,873.9 L366.2,872.7 L367.6,870.5 L368.0,869.8 L369.0,868.3 L370.4,866.2 L370.6,865.8 L371.8,864.2 L373.2,862.2 L373.3,862.1 L374.6,860.2 L375.9,858.5 L376.0,858.4 L377.4,856.6 L378.5,855.2 L378.8,854.8 L380.2,853.1 L381.1,852.1 L381.6,851.5 L383.0,850.0 L383.7,849.2 L384.4,848.5 L385.8,847.1 L386.4,846.6 L387.2,845.8 L388.6,844.5 L389.0,844.2 L390.0,843.3 L391.4,842.2 L391.6,842.1 L392.8,841.2 L394.2,840.2 L394.2,840.2 L395.6,839.2 L396.8,838.5 L397.0,838.4 L398.4,837.5 L399.5,837.0 L399.8,836.8 L401.2,836.1 L402.1,835.7 L402.7,835.4 L404.1,834.9 L404.7,834.6 L405.5,834.3 L406.9,833.9 L407.3,833.7 L408.3,833.4 L409.7,833.0 L409.9,833.0 L411.1,832.7 L412.5,832.4 L412.6,832.4 L413.9,832.2 L415.2,832.0 L415.3,832.0 L416.7,831.9 L417.8,831.8 L418.1,831.8 L419.5,831.7 L420.4,831.7 L420.9,831.7 L422.3,831.7 L423.0,831.8 L423.7,831.8 L425.1,831.9 L425.6,831.9 L426.5,832.0 L427.9,832.2 L428.3,832.2 L429.3,832.4 L430.7,832.6 L430.9,832.7 L432.1,832.9 L433.5,833.2 L433.5,833.2 L434.9,833.5 L436.1,833.8 L436.3,833.8 L437.7,834.2 L438.7,834.5 L439.1,834.6 L440.5,835.0 L441.4,835.3 L441.9,835.5 L443.3,835.9 L444.0,836.1 L444.7,836.4 L446.1,836.9 L446.6,837.1 L447.5,837.4 L448.9,837.9 L449.2,838.0 L450.3,838.5 L451.7,839.0 L451.8,839.1 L453.2,839.6 L454.5,840.1 L454.6,840.2 L456.0,840.7 L457.1,841.2 L457.4,841.3 L458.8,841.9 L459.7,842.3 L460.2,842.5 L461.6,843.1 L462.3,843.5 L463.0,843.7 L464.4,844.3 L464.9,844.6 L465.8,844.9 L467.2,845.5 L467.6,845.7 L468.6,846.1 L470.0,846.7 L470.2,846.8 L471.4,847.3 L472.8,847.9 L472.8,847.9 L474.2,848.4 L475.4,848.9 L475.6,849.0 L477.0,849.5 L478.0,849.9 L478.4,850.0 L479.8,850.5 L480.7,850.8 L481.2,851.0 L482.6,851.4 L483.3,851.7 L484.0,851.9 L485.4,852.3 L485.9,852.4 L486.8,852.7 L488.2,853.1 L488.5,853.2 L489.6,853.4 L491.0,853.8 L491.1,853.8 L492.4,854.1 L493.8,854.4 L493.8,854.4 L495.2,854.7 L496.4,855.0 L496.6,855.0 L498.0,855.3 L499.0,855.5 L499.4,855.5 L500.8,855.8 L501.6,855.9 L502.3,856.0 L503.7,856.3 L504.2,856.4 L505.1,856.5 L506.5,856.7 L506.9,856.7 L507.9,856.9 L509.3,857.1 L509.5,857.1 L510.7,857.2 L512.1,857.4 L512.1,857.4 L513.5,857.6 L514.7,857.7 L514.9,857.7 L516.3,857.9 L517.3,858.0 L517.7,858.0 L519.1,858.1 L519.9,858.2 L520.5,858.2 L521.9,858.3 L522.6,858.4 L523.3,858.4 L524.7,858.5 L525.2,858.5 L526.1,858.6 L527.5,858.7 L527.8,858.7 L528.9,858.7 L530.3,858.8 L530.4,858.8 L531.7,858.8 L533.0,858.9 L533.1,858.9 L534.5,858.9 L535.7,858.9 L535.9,858.9 L537.3,858.9 L538.3,859.0 L538.7,859.0 L540.1,859.0 L540.9,859.0 L541.5,859.0 L542.9,859.0 L543.5,858.9 L544.3,858.9 L545.7,858.9 L546.1,858.9 L547.1,858.9 L548.5,858.9 L548.8,858.9 L549.9,858.8 L551.3,858.8 L551.4,858.8 L552.8,858.7 L554.0,858.7 L554.2,858.7 L555.6,858.6 L556.6,858.6 L557.0,858.6 L558.4,858.5 L559.2,858.5 L559.8,858.4 L561.2,858.4 L561.9,858.3 L562.6,858.3 L564.0,858.2 L564.5,858.2 L565.4,858.1 L566.8,858.0 L567.1,858.0 L568.2,857.9 L569.6,857.9 L569.7,857.8 L571.0,857.8 L572.3,857.7 L572.4,857.7 L573.8,857.5 L575.0,857.5 L575.2,857.4 L576.6,857.3 L577.6,857.3 L578.0,857.2 L579.4,857.1 L580.2,857.0 L580.8,857.0 L582.2,856.9 L582.8,856.8 L583.6,856.8 L585.0,856.6 L585.4,856.6 L586.4,856.5 L587.8,856.4 L588.1,856.4 L589.2,856.3 L590.6,856.2 L590.7,856.2 L592.0,856.0 L593.3,855.9 L593.4,855.9 L594.8,855.8 L595.9,855.7 L596.2,855.7 L597.6,855.5 L598.5,855.5 L599.0,855.4 L600.4,855.3 L601.2,855.2 L601.9,855.2 L603.3,855.0 L603.8,855.0 L604.7,854.9 L606.1,854.8 L606.4,854.8 L607.5,854.7 L608.9,854.6 L609.0,854.5 L610.3,854.4 L611.6,854.3 L611.7,854.3 L613.1,854.2 L614.2,854.1 L614.5,854.1 L615.9,854.0 L616.9,853.9 L617.3,853.9 L618.7,853.8 L619.5,853.7 L620.1,853.7 L621.5,853.6 L622.1,853.5 L622.9,853.5 L624.3,853.4 L624.7,853.4 L625.7,853.3 L627.1,853.2 L627.3,853.2 L628.5,853.1 L629.9,853.0 L630.0,853.0 L631.3,852.9 L632.6,852.9 L632.7,852.9 L634.1,852.8 L635.2,852.7 L635.5,852.7 L636.9,852.6 L637.8,852.6 L638.3,852.6 L639.7,852.5 L640.4,852.5 L641.1,852.4 L642.5,852.4 L643.1,852.4 L643.9,852.3 L645.3,852.3 L645.7,852.2 L646.7,852.2 L648.1,852.1 L648.3,852.1 L649.5,852.1 L650.9,852.0 L650.9,852.0 L652.4,852.0 L653.5,852.0 L653.8,851.9 L655.2,851.9 L656.2,851.9 L656.6,851.9 L658.0,851.8 L658.8,851.8 L659.4,851.8 L660.8,851.7 L661.4,851.7 L662.2,851.7 L663.6,851.7 L664.0,851.7 L665.0,851.6 L666.4,851.6 L666.6,851.6 L667.8,851.6 L669.2,851.5 L669.3,851.5 L670.6,851.5 L671.9,851.5 L672.0,851.5 L673.4,851.5 L674.5,851.4 L674.8,851.4 L676.2,851.4 L677.1,851.4 L677.6,851.4 L679.0,851.4 L679.7,851.4 L680.4,851.3 L681.8,851.3 L682.4,851.3 L683.2,851.3 L684.6,851.3 L685.0,851.3 L686.0,851.3 L687.4,851.3 L687.6,851.3 L688.8,851.2 L690.2,851.2 L690.2,851.2 L691.6,851.2 L692.8,851.2 L693.0,851.2 L694.4,851.2 L695.5,851.2 L695.8,851.2 L697.2,851.2 L698.1,851.2 L698.6,851.2 L700.0,851.2 L700.7,851.2 L701.4,851.2 L702.9,851.1 L703.3,851.1 L704.3,851.1 L705.7,851.1 L705.9,851.1 L707.1,851.1 L708.5,851.1 L708.5,851.1 L709.9,851.1 L711.2,851.1 L711.3,851.1 L712.7,851.1 L713.8,851.1 L714.1,851.1 L715.5,851.1 L716.4,851.1 L716.9,851.1 L718.3,851.1 L719.0,851.1 L719.7,851.1 L721.1,851.1 L721.6,851.1 L722.5,851.1 L723.9,851.1 L724.3,851.1 L725.3,851.1 L726.7,851.1 L726.9,851.1 L728.1,851.1 L729.5,851.1 L729.5,851.1 L730.9,851.1 L732.1,851.1 L732.3,851.1 L733.7,851.1 L734.7,851.1 L735.1,851.1 L736.5,851.1 L737.4,851.1 L737.9,851.1 L739.3,851.1 L740.0,851.1 L740.7,851.1 L742.1,851.1 L742.6,851.1 L743.5,851.1 L744.9,851.1 L745.2,851.1 L746.3,851.1 L747.7,851.1 L747.8,851.1 L749.1,851.1 L750.5,851.1 L750.5,851.1 L752.0,851.1 L753.1,851.1 L753.4,851.1 L754.8,851.1 L755.7,851.1 L756.2,851.1 L757.6,851.1 L758.3,851.1 L759.0,851.1 L760.4,851.1 L760.9,851.1 L761.8,851.1 L763.2,851.1 L763.6,851.1 L764.6,851.1 L766.0,851.1 L766.2,851.1 L767.4,851.1 L768.8,851.1 L768.8,851.1 L770.2,851.1 L771.4,851.1 L771.6,851.1 L773.0,851.1 L774.0,851.1 L774.4,851.1 L775.8,851.1 L776.7,851.1 L777.2,851.1 L778.6,851.1 L779.3,851.1 L780.0,851.1 L781.4,851.1 L781.9,851.1 L782.8,851.1 L784.2,851.1 L784.5,851.1 L785.6,851.2 L787.0,851.2 L787.1,851.2 L788.4,851.2 L789.8,851.2 L789.8,851.2 L791.2,851.2 L792.4,851.2 L792.6,851.2 L794.0,851.2 L795.0,851.2 L795.4,851.2 L796.8,851.2 L797.6,851.2 L798.2,851.2 L799.6,851.2 L800.2,851.2 L801.0,851.2 L802.5,851.2 L802.9,851.2 L803.9,851.2 L805.3,851.2 L805.5,851.2 L806.7,851.2 L808.1,851.2 L808.1,851.2 L809.5,851.2 L810.7,851.2 L810.9,851.2 L812.3,851.2 L813.3,851.2 L813.7,851.2 L815.1,851.2 L815.9,851.2 L816.5,851.2 L817.9,851.3 L818.6,851.3 L819.3,851.3 L820.7,851.3 L821.2,851.3 L822.1,851.3 L823.5,851.3 L823.8,851.3 L824.9,851.3 L826.3,851.3 L826.4,851.3 L827.7,851.3 L829.0,851.3 L829.1,851.3 L830.5,851.3 L831.7,851.3 L831.9,851.3 L833.3,851.3 L834.3,851.3 L834.7,851.3 L836.1,851.3 L836.9,851.3 L837.5,851.3 L838.9,851.3 L839.5,851.3 L840.3,851.3 L841.7,851.3 L842.1,851.3 L843.1,851.3 L844.5,851.3 L844.8,851.3 L845.9,851.3 L847.3,851.3 L847.4,851.3 L848.7,851.3 L850.0,851.3 L850.1,851.3 L851.5,851.3 L852.6,851.3 L853.0,851.4 L854.4,851.4 L855.2,851.4 L855.8,851.4 L857.2,851.4 L857.9,851.4 L858.6,851.4 L860.0,851.4 L860.5,851.4 L861.4,851.4 L862.8,851.4 L863.1,851.4 L864.2,851.4 L865.6,851.4 L865.7,851.4 L867.0,851.4 L868.3,851.4 L868.4,851.4 L869.8,851.4 L871.0,851.4 L871.2,851.4 L872.6,851.4 L873.6,851.4 L874.0,851.4 L875.4,851.4 L876.2,851.4 L876.8,851.4 L878.8,851.4 L881.4,851.4 L884.1,851.4 L886.7,851.4 L889.3,851.4 L891.9,851.4 L894.5,851.4 L897.2,851.4 L899.8,851.5 L902.4,851.5 L905.0,851.5 L907.6,851.5 L910.2,851.5 L912.9,851.5 L915.5,851.5 L918.1,851.5 L920.7,851.5 L923.3,851.5 L926.0,851.5 L928.6,851.5 L931.2,851.5 L933.8,851.5 L936.4,851.5 L939.1,851.5 L941.7,851.5 L944.3,851.5 L946.9,851.5 L949.5,851.5 L952.2,851.5 L954.8,851.5 L957.4,851.5 L960.0,851.5 L962.6,851.5 L965.3,851.6 L967.9,851.6 L970.5,851.6 L973.1,851.6 L975.7,851.6 L978.4,851.6 L981.0,851.6 L983.6,851.6 L986.2,851.6 L988.8,851.6 L991.5,851.6 L994.1,851.6 L996.7,851.6 L999.3,851.6 L1001.9,851.6 L1004.5,851.6 L1007.2,851.6 L1009.8,851.6 L1012.4,851.6 L1015.0,851.6 L1017.6,851.6 L1020.3,851.6 L1022.9,851.6 L1025.5,851.6 L1028.1,851.6 L1030.7,851.6 L1033.4,851.6 L1036.0,851.6 L1038.6,851.6 L1041.2,851.6 L1043.8,851.6 L1046.5,851.6 L1049.1,851.6 L1051.7,851.6 L1054.3,851.6 L1056.9,851.6 L1059.6,851.6 L1062.2,851.6 L1064.8,851.6 L1067.4,851.6 L1070.0,851.6 L1072.7,851.6 L1075.3,851.6 L1077.9,851.6 L1080.5,851.6 L1083.1,851.6 L1085.8,851.6 L1088.4,851.6 L1091.0,851.6 L1093.6,851.6 L1096.2,851.6 L1098.8,851.6 L1101.5,851.6 L1104.1,851.6 L1106.7,851.6 L1109.3,851.6 L1111.9,851.6 L1114.6,851.6 L1117.2,851.6 L1119.8,851.6 L1122.4,851.6 L1125.0,851.6 L1127.7,851.6 L1130.3,851.6 L1132.9,851.6 L1135.5,851.6 L1138.1,851.6 L1140.8,851.6 L1143.4,851.6 L1146.0,851.6 L1148.6,851.6 L1151.2,851.6 L1153.9,851.6 L1156.5,851.6 L1159.1,851.6 L1161.7,851.6 L1164.3,851.6 L1167.0,851.6 L1169.6,851.6 L1172.2,851.6 L1174.8,851.6 L1177.4,851.6 L1180.1,851.6 L1182.7,851.6 L1185.3,851.6 L1187.9,851.6 L1190.5,851.6 L1193.1,851.6 L1195.8,851.6 L1198.4,851.6 L1201.0,851.6 L1203.6,851.6 L1206.2,851.6 L1208.9,851.6 L1211.5,851.6 L1214.1,851.6 L1216.7,851.6 L1219.3,851.5 L1222.0,851.5 L1224.6,851.5 L1227.2,851.5 L1229.8,851.5 L1232.4,851.5 L1235.1,851.5 L1237.7,851.5 L1240.3,851.5 L1242.9,851.5 L1245.5,851.5 L1248.2,851.5 L1250.8,851.5 L1253.4,851.5 L1256.0,851.5 L1258.6,851.5 L1261.3,851.5 L1263.9,851.5 L1266.5,851.5 L1269.1,851.5 L1271.7,851.5 L1274.4,851.5 L1277.0,851.5 L1279.6,851.5 L1282.2,851.5 L1284.8,851.5 L1287.4,851.5 L1290.1,851.5 L1292.7,851.5 L1295.3,851.5 L1297.9,851.5 L1300.5,851.5 L1303.2,851.5 L1305.8,851.5 L1308.4,851.5 L1311.0,851.4 L1313.6,851.4 L1316.3,851.4 L1318.9,851.4 L1321.5,851.4 L1324.1,851.4 L1326.7,851.4 L1329.4,851.4 L1332.0,851.4 L1334.6,851.4 L1337.2,851.4 L1339.8,851.4 L1342.5,851.4 L1345.1,851.4 L1347.7,851.4 L1350.3,851.4 L1352.9,851.4 L1355.6,851.4 L1358.2,851.4 L1360.8,851.4 L1363.4,851.4 L1366.0,851.4 L1368.7,851.4 L1371.3,851.4 L1373.9,851.4 L1376.5,851.4 L1379.1,851.4 L1381.7,851.4 L1384.4,851.4 L1387.0,851.3 L1389.6,851.3 L1392.2,851.3 L1394.8,851.3 L1397.5,851.3 L1400.1,851.3 L1402.7,851.3 L1405.3,851.3 L1407.9,851.3 L1410.6,851.3 L1413.2,851.3 L1415.8,851.3 L1418.4,851.3 L1421.0,851.3 L1423.7,851.3 L1426.3,851.3 L1428.9,851.3 L1431.5,851.3 L1434.1,851.3 L1436.8,851.3 L1439.4,851.3 L1442.0,851.3 L1444.6,851.3 L1447.2,851.3 L1449.9,851.3 L1452.5,851.3 L1455.1,851.2 L1457.7,851.2 L1460.3,851.2 L1463.0,851.2 L1465.6,851.2 L1468.2,851.2 L1470.8,851.2 L1473.4,851.2 L1476.1,851.2 L1478.7,851.2 L1481.3,851.2 L1483.9,851.2 L1486.5,851.2 L1489.1,851.2 L1491.8,851.2 L1494.4,851.2 L1497.0,851.2 L1499.6,851.2 L1502.2,851.2 L1504.9,851.2 L1507.5,851.2 L1510.1,851.2 L1512.7,851.2 L1515.3,851.2 L1518.0,851.2 L1520.6,851.2 L1523.2,851.2 L1525.8,851.2 L1528.4,851.1 L1531.1,851.1 L1533.7,851.1 L1536.3,851.1 L1538.9,851.1 L1541.5,851.1 L1544.2,851.1 L1546.8,851.1 L1549.4,851.1 L1552.0,851.1 L1554.6,851.1 L1557.3,851.1 L1559.9,851.1 L1562.5,851.1 L1565.1,851.1 L1567.7,851.1 L1570.4,851.1 L1573.0,851.1 L1575.6,851.1 L1578.2,851.1 L1580.8,851.1 L1583.4,851.1 L1586.1,851.1 L1588.7,851.1 L1591.3,851.1 L1593.9,851.1 L1596.5,851.1 L1599.2,851.1 L1601.8,851.1 L1604.4,851.1 L1607.0,851.1 L1609.6,851.1 L1612.3,851.0 L1614.9,851.0 L1617.5,851.0 L1620.1,851.0 L1622.7,851.0 L1625.4,851.0 L1628.0,851.0 L1630.6,851.0 L1633.2,851.0 L1635.8,851.0 L1638.5,851.0 L1641.1,851.0 L1643.7,851.0 L1646.3,851.0 L1648.9,851.0 L1651.6,851.0 L1654.2,851.0 L1656.8,851.0 L1659.4,851.0 L1662.0,851.0 L1664.7,851.0 L1667.3,851.0 L1669.9,851.0 L1672.5,851.0 L1675.1,851.0 L1677.7,851.0 L1680.4,851.0 L1683.0,851.0 L1685.6,851.0 L1688.2,851.0 L1690.8,851.0 L1693.5,851.0 L1696.1,851.0 L1698.7,851.0 L1701.3,851.0 L1703.9,851.0 L1706.6,851.0 L1709.2,851.0 L1711.8,851.0 L1714.4,851.0 L1717.0,851.0 L1719.7,851.0 L1722.3,851.0 L1724.9,851.0 L1727.5,851.0 L1730.1,851.0 L1732.8,851.0 L1735.4,851.0 L1738.0,851.0 L1740.6,851.0 L1743.2,851.0 L1745.9,851.0 L1748.5,851.0 L1751.1,851.0 L1753.7,851.0 L1756.3,851.0 L1759.0,851.0 L1761.6,851.0 L1764.2,851.0 L1766.8,851.0 L1769.4,851.0 L1772.0,851.0 L1774.7,851.0 L1777.3,851.0 L1779.9,851.0 L1782.5,851.0 L1785.1,851.0 L1787.8,851.0 L1790.4,851.0 L1793.0,851.0 L1795.6,851.0 L1798.2,851.0 L1800.9,851.0 L1803.5,851.0 L1806.1,851.0 L1808.7,851.0 L1811.3,851.0 L1814.0,851.0 L1816.6,851.0 L1819.2,851.0 L1821.8,851.0 L1824.4,851.0 L1827.1,851.0 L1829.7,851.0 L1832.3,851.0 L1834.9,851.0 L1837.5,851.0 L1840.2,851.0 L1842.8,851.0 L1845.4,851.0 L1848.0,851.0 L1850.6,851.0 L1853.3,851.0 L1855.9,851.0 L1858.5,851.0 L1861.1,851.0 L1863.7,851.0 L1866.3,851.0 L1869.0,851.0 L1871.6,851.0 L1874.2,851.0 L1876.8,851.0 L1879.4,851.0 L1882.1,851.0 L1884.7,851.0 L1887.3,851.0 L1889.9,851.0 L1892.5,851.0 L1895.2,851.0 L1897.8,851.0 L1900.4,851.0 L1903.0,851.0 L1905.6,851.0 L1908.3,851.0 L1910.9,851.0 L1913.5,851.0 L1916.1,851.0 L1918.7,851.0 L1921.4,851.0 L1924.0,851.0 L1926.6,851.0 L1929.2,851.1 L1931.8,851.1 L1934.5,851.1 L1937.1,851.1 L1939.7,851.1 L1942.3,851.1 L1944.9,851.1 L1947.6,851.1 L1950.2,851.1 L1952.8,851.1 L1955.4,851.1 L1958.0,851.1 L1960.6,851.1 L1963.3,851.1 L1965.9,851.1 L1968.5,851.1 L1971.1,851.1 L1973.7,851.1 L1976.4,851.1 L1979.0,851.1 L1981.6,851.1 L1984.2,851.2 L1986.8,851.2 L1989.5,851.2 L1992.1,851.2 L1994.7,851.2 L1997.3,851.2 L1999.9,851.2 L2002.6,851.2 L2005.2,851.2 L2007.8,851.2" stroke="#0072BD" stroke-width="8.45" fill="none" stroke-linejoin="round" stroke-dasharray="6.15 6.15"/>
<path d="M176.8,1015.0 L178.2,1017.8 L179.4,1020.0 L179.6,1020.3 L181.0,1022.4 L182.0,1023.8 L182.4,1024.2 L183.8,1025.7 L184.7,1026.5 L185.2,1027.0 L186.6,1028.1 L187.3,1028.5 L188.0,1029.0 L189.4,1029.7 L189.9,1029.9 L190.8,1030.2 L192.2,1030.7 L192.5,1030.8 L193.6,1031.1 L195.0,1031.4 L195.1,1031.4 L196.4,1031.7 L197.8,1031.9 L197.8,1031.9 L199.2,1032.1 L200.4,1032.2 L200.6,1032.3 L202.1,1032.4 L203.0,1032.4 L203.5,1032.4 L204.9,1032.4 L205.6,1032.4 L206.3,1032.4 L207.7,1032.3 L208.2,1032.3 L209.1,1032.2 L210.5,1032.1 L210.9,1032.0 L211.9,1031.9 L213.3,1031.6 L213.5,1031.6 L214.7,1031.3 L216.1,1031.0 L216.1,1031.0 L217.5,1030.6 L218.7,1030.3 L218.9,1030.2 L220.3,1029.8 L221.3,1029.4 L221.7,1029.3 L223.1,1028.8 L224.0,1028.4 L224.5,1028.2 L225.9,1027.6 L226.6,1027.2 L227.3,1026.9 L228.7,1026.2 L229.2,1025.9 L230.1,1025.4 L231.5,1024.5 L231.8,1024.4 L232.9,1023.7 L234.3,1022.7 L234.4,1022.6 L235.7,1021.7 L237.0,1020.7 L237.1,1020.6 L238.5,1019.5 L239.7,1018.5 L239.9,1018.3 L241.3,1017.0 L242.3,1016.1 L242.7,1015.6 L244.1,1014.2 L244.9,1013.4 L245.5,1012.7 L246.9,1011.1 L247.5,1010.4 L248.3,1009.4 L249.7,1007.7 L250.1,1007.2 L251.1,1005.8 L252.6,1003.9 L252.8,1003.6 L254.0,1001.9 L255.4,999.8 L255.4,999.7 L256.8,997.6 L258.0,995.6 L258.2,995.3 L259.6,992.9 L260.6,991.1 L261.0,990.4 L262.4,987.9 L263.2,986.3 L263.8,985.3 L265.2,982.6 L265.9,981.3 L266.6,979.9 L268.0,977.2 L268.5,976.2 L269.4,974.4 L270.8,971.6 L271.1,970.9 L272.2,968.7 L273.6,965.9 L273.7,965.6 L275.0,963.0 L276.3,960.3 L276.4,960.1 L277.8,957.3 L279.0,954.9 L279.2,954.4 L280.6,951.6 L281.6,949.7 L282.0,948.8 L283.4,946.1 L284.2,944.6 L284.8,943.4 L286.2,940.7 L286.8,939.6 L287.6,938.1 L289.0,935.6 L289.4,934.9 L290.4,933.1 L291.8,930.8 L292.1,930.4 L293.2,928.5 L294.6,926.3 L294.7,926.2 L296.0,924.2 L297.3,922.4 L297.4,922.2 L298.8,920.4 L299.9,919.0 L300.2,918.6 L301.6,917.0 L302.5,916.1 L303.1,915.5 L304.5,914.1 L305.2,913.4 L305.9,912.8 L307.3,911.6 L307.8,911.2 L308.7,910.5 L310.1,909.6 L310.4,909.4 L311.5,908.7 L312.9,907.9 L313.0,907.8 L314.3,907.2 L315.6,906.7 L315.7,906.7 L317.1,906.2 L318.3,905.8 L318.5,905.8 L319.9,905.5 L320.9,905.3 L321.3,905.3 L322.7,905.1 L323.5,905.1 L324.1,905.1 L325.5,905.1 L326.1,905.2 L326.9,905.3 L328.3,905.5 L328.7,905.6 L329.7,905.8 L331.1,906.1 L331.3,906.2 L332.5,906.6 L333.9,907.1 L334.0,907.1 L335.3,907.7 L336.6,908.3 L336.7,908.3 L338.1,909.1 L339.2,909.7 L339.5,909.8 L340.9,910.7 L341.8,911.3 L342.3,911.6 L343.7,912.6 L344.4,913.1 L345.1,913.6 L346.5,914.7 L347.1,915.2 L347.9,915.9 L349.3,917.1 L349.7,917.4 L350.7,918.4 L352.2,919.7 L352.3,919.8 L353.6,921.0 L354.9,922.4 L355.0,922.5 L356.4,923.9 L357.5,925.2 L357.8,925.4 L359.2,926.9 L360.2,928.1 L360.6,928.5 L362.0,930.1 L362.8,931.1 L363.4,931.8 L364.8,933.5 L365.4,934.3 L366.2,935.2 L367.6,937.0 L368.0,937.5 L369.0,938.8 L370.4,940.6 L370.6,940.9 L371.8,942.4 L373.2,944.3 L373.3,944.4 L374.6,946.2 L375.9,947.9 L376.0,948.1 L377.4,950.0 L378.5,951.5 L378.8,951.9 L380.2,953.8 L381.1,955.1 L381.6,955.8 L383.0,957.8 L383.7,958.8 L384.4,959.7 L385.8,961.7 L386.4,962.5 L387.2,963.7 L388.6,965.7 L389.0,966.1 L390.0,967.6 L391.4,969.6 L391.6,969.8 L392.8,971.6 L394.2,973.5 L394.2,973.5 L395.6,975.4 L396.8,977.1 L397.0,977.4 L398.4,979.3 L399.5,980.7 L399.8,981.2 L401.2,983.1 L402.1,984.1 L402.7,984.9 L404.1,986.7 L404.7,987.6 L405.5,988.5 L406.9,990.3 L407.3,990.9 L408.3,992.1 L409.7,993.8 L409.9,994.1 L411.1,995.5 L412.5,997.1 L412.6,997.2 L413.9,998.7 L415.2,1000.2 L415.3,1000.3 L416.7,1001.8 L417.8,1003.0 L418.1,1003.3 L419.5,1004.7 L420.4,1005.7 L420.9,1006.1 L422.3,1007.5 L423.0,1008.2 L423.7,1008.8 L425.1,1010.0 L425.6,1010.5 L426.5,1011.2 L427.9,1012.4 L428.3,1012.7 L429.3,1013.5 L430.7,1014.6 L430.9,1014.7 L432.1,1015.6 L433.5,1016.6 L433.5,1016.6 L434.9,1017.5 L436.1,1018.3 L436.3,1018.4 L437.7,1019.3 L438.7,1019.9 L439.1,1020.1 L440.5,1020.9 L441.4,1021.3 L441.9,1021.6 L443.3,1022.3 L444.0,1022.6 L444.7,1022.9 L446.1,1023.5 L446.6,1023.7 L447.5,1024.1 L448.9,1024.6 L449.2,1024.7 L450.3,1025.1 L451.7,1025.6 L451.8,1025.6 L453.2,1026.0 L454.5,1026.3 L454.6,1026.3 L456.0,1026.7 L457.1,1026.9 L457.4,1027.0 L458.8,1027.2 L459.7,1027.4 L460.2,1027.4 L461.6,1027.6 L462.3,1027.7 L463.0,1027.8 L464.4,1027.9 L464.9,1027.9 L465.8,1027.9 L467.2,1028.0 L467.6,1028.0 L468.6,1028.0 L470.0,1028.0 L470.2,1028.0 L471.4,1028.0 L472.8,1027.9 L472.8,1027.9 L474.2,1027.8 L475.4,1027.7 L475.6,1027.7 L477.0,1027.6 L478.0,1027.5 L478.4,1027.4 L479.8,1027.3 L480.7,1027.2 L481.2,1027.1 L482.6,1026.9 L483.3,1026.8 L484.0,1026.7 L485.4,1026.4 L485.9,1026.4 L486.8,1026.2 L488.2,1026.0 L488.5,1025.9 L489.6,1025.7 L491.0,1025.4 L491.1,1025.4 L492.4,1025.2 L493.8,1024.9 L493.8,1024.9 L495.2,1024.6 L496.4,1024.4 L496.6,1024.3 L498.0,1024.0 L499.0,1023.8 L499.4,1023.8 L500.8,1023.5 L501.6,1023.3 L502.3,1023.2 L503.7,1022.9 L504.2,1022.8 L505.1,1022.6 L506.5,1022.4 L506.9,1022.3 L507.9,1022.1 L509.3,1021.8 L509.5,1021.8 L510.7,1021.6 L512.1,1021.3 L512.1,1021.3 L513.5,1021.0 L514.7,1020.8 L514.9,1020.8 L516.3,1020.5 L517.3,1020.3 L517.7,1020.3 L519.1,1020.0 L519.9,1019.9 L520.5,1019.8 L521.9,1019.5 L522.6,1019.4 L523.3,1019.3 L524.7,1019.0 L525.2,1018.9 L526.1,1018.8 L527.5,1018.6 L527.8,1018.5 L528.9,1018.3 L530.3,1018.1 L530.4,1018.1 L531.7,1017.9 L533.0,1017.7 L533.1,1017.6 L534.5,1017.4 L535.7,1017.3 L535.9,1017.2 L537.3,1017.0 L538.3,1016.9 L538.7,1016.8 L540.1,1016.6 L540.9,1016.5 L541.5,1016.4 L542.9,1016.2 L543.5,1016.1 L544.3,1016.0 L545.7,1015.8 L546.1,1015.8 L547.1,1015.6 L548.5,1015.4 L548.8,1015.4 L549.9,1015.3 L551.3,1015.1 L551.4,1015.1 L552.8,1014.9 L554.0,1014.8 L554.2,1014.8 L555.6,1014.6 L556.6,1014.5 L557.0,1014.4 L558.4,1014.3 L559.2,1014.2 L559.8,1014.1 L561.2,1014.0 L561.9,1013.9 L562.6,1013.9 L564.0,1013.7 L564.5,1013.7 L565.4,1013.6 L566.8,1013.5 L567.1,1013.5 L568.2,1013.4 L569.6,1013.3 L569.7,1013.2 L571.0,1013.1 L572.3,1013.0 L572.4,1013.0 L573.8,1012.9 L575.0,1012.9 L575.2,1012.8 L576.6,1012.7 L577.6,1012.7 L578.0,1012.7 L579.4,1012.6 L580.2,1012.5 L580.8,1012.5 L582.2,1012.4 L582.8,1012.4 L583.6,1012.3 L585.0,1012.3 L585.4,1012.3 L586.4,1012.2 L587.8,1012.2 L588.1,1012.2 L589.2,1012.1 L590.6,1012.1 L590.7,1012.1 L592.0,1012.0 L593.3,1012.0 L593.4,1012.0 L594.8,1011.9 L595.9,1011.9 L596.2,1011.9 L597.6,1011.9 L598.5,1011.8 L599.0,1011.8 L600.4,1011.8 L601.2,1011.8 L601.9,1011.8 L603.3,1011.8 L603.8,1011.8 L604.7,1011.8 L606.1,1011.8 L606.4,1011.8 L607.5,1011.7 L608.9,1011.7 L609.0,1011.7 L610.3,1011.7 L611.6,1011.8 L611.7,1011.8 L613.1,1011.8 L614.2,1011.8 L614.5,1011.8 L615.9,1011.8 L616.9,1011.8 L617.3,1011.8 L618.7,1011.8 L619.5,1011.8 L620.1,1011.9 L621.5,1011.9 L622.1,1011.9 L622.9,1011.9 L624.3,1012.0 L624.7,1012.0 L625.7,1012.0 L627.1,1012.0 L627.3,1012.0 L628.5,1012.1 L629.9,1012.1 L630.0,1012.1 L631.3,1012.2 L632.6,1012.2 L632.7,1012.2 L634.1,1012.3 L635.2,1012.3 L635.5,1012.3 L636.9,1012.4 L637.8,1012.4 L638.3,1012.4 L639.7,1012.5 L640.4,1012.5 L641.1,1012.6 L642.5,1012.6 L643.1,1012.6 L643.9,1012.7 L645.3,1012.8 L645.7,1012.8 L646.7,1012.8 L648.1,1012.9 L648.3,1012.9 L649.5,1013.0 L650.9,1013.0 L650.9,1013.0 L652.4,1013.1 L653.5,1013.2 L653.8,1013.2 L655.2,1013.3 L656.2,1013.3 L656.6,1013.3 L658.0,1013.4 L658.8,1013.5 L659.4,1013.5 L660.8,1013.6 L661.4,1013.6 L662.2,1013.6 L663.6,1013.7 L664.0,1013.7 L665.0,1013.8 L666.4,1013.9 L666.6,1013.9 L667.8,1013.9 L669.2,1014.0 L669.3,1014.0 L670.6,1014.1 L671.9,1014.2 L672.0,1014.2 L673.4,1014.2 L674.5,1014.3 L674.8,1014.3 L676.2,1014.4 L677.1,1014.4 L677.6,1014.5 L679.0,1014.5 L679.7,1014.6 L680.4,1014.6 L681.8,1014.7 L682.4,1014.7 L683.2,1014.8 L684.6,1014.8 L685.0,1014.8 L686.0,1014.9 L687.4,1015.0 L687.6,1015.0 L688.8,1015.0 L690.2,1015.1 L690.2,1015.1 L691.6,1015.1 L692.8,1015.2 L693.0,1015.2 L694.4,1015.3 L695.5,1015.3 L695.8,1015.3 L697.2,1015.4 L698.1,1015.4 L698.6,1015.4 L700.0,1015.5 L700.7,1015.5 L701.4,1015.5 L702.9,1015.5 L703.3,1015.6 L704.3,1015.6 L705.7,1015.6 L705.9,1015.6 L707.1,1015.7 L708.5,1015.7 L708.5,1015.7 L709.9,1015.7 L711.2,1015.8 L711.3,1015.8 L712.7,1015.8 L713.8,1015.8 L714.1,1015.8 L715.5,1015.8 L716.4,1015.9 L716.9,1015.9 L718.3,1015.9 L719.0,1015.9 L719.7,1015.9 L721.1,1015.9 L721.6,1015.9 L722.5,1016.0 L723.9,1016.0 L724.3,1016.0 L725.3,1016.0 L726.7,1016.0 L726.9,1016.0 L728.1,1016.0 L729.5,1016.0 L729.5,1016.0 L730.9,1016.0 L732.1,1016.1 L732.3,1016.1 L733.7,1016.1 L734.7,1016.1 L735.1,1016.1 L736.5,1016.1 L737.4,1016.1 L737.9,1016.1 L739.3,1016.1 L740.0,1016.1 L740.7,1016.1 L742.1,1016.1 L742.6,1016.1 L743.5,1016.1 L744.9,1016.1 L745.2,1016.1 L746.3,1016.1 L747.7,1016.1 L747.8,1016.1 L749.1,1016.1 L750.5,1016.1 L750.5,1016.1 L752.0,1016.1 L753.1,1016.1 L753.4,1016.1 L754.8,1016.1 L755.7,1016.1 L756.2,1016.1 L757.6,1016.1 L758.3,1016.1 L759.0,1016.1 L760.4,1016.1 L760.9,1016.1 L761.8,1016.1 L763.2,1016.1 L763.6,1016.1 L764.6,1016.1 L766.0,1016.1 L766.2,1016.1 L767.4,1016.1 L768.8,1016.1 L768.8,1016.1 L770.2,1016.1 L771.4,1016.1 L771.6,1016.1 L773.0,1016.1 L774.0,1016.1 L774.4,1016.1 L775.8,1016.0 L776.7,1016.0 L777.2,1016.0 L778.6,1016.0 L779.3,1016.0 L780.0,1016.0 L781.4,1016.0 L781.9,1016.0 L782.8,1016.0 L784.2,1016.0 L784.5,1016.0 L785.6,1016.0 L787.0,1016.0 L787.1,1016.0 L788.4,1016.0 L789.8,1016.0 L789.8,1016.0 L791.2,1016.0 L792.4,1016.0 L792.6,1016.0 L794.0,1016.0 L795.0,1016.0 L795.4,1016.0 L796.8,1016.0 L797.6,1016.0 L798.2,1016.0 L799.6,1016.0 L800.2,1016.0 L801.0,1016.0 L802.5,1016.0 L802.9,1016.0 L803.9,1016.0 L805.3,1016.0 L805.5,1016.0 L806.7,1016.0 L808.1,1016.0 L808.1,1016.0 L809.5,1015.9 L810.7,1015.9 L810.9,1015.9 L812.3,1015.9 L813.3,1015.9 L813.7,1015.9 L815.1,1015.9 L815.9,1015.9 L816.5,1015.9 L817.9,1015.9 L818.6,1015.9 L819.3,1015.9 L820.7,1015.9 L821.2,1015.9 L822.1,1015.9 L823.5,1015.9 L823.8,1015.9 L824.9,1015.9 L826.3,1015.9 L826.4,1015.9 L827.7,1015.9 L829.0,1015.9 L829.1,1015.9 L830.5,1015.9 L831.7,1015.9 L831.9,1015.9 L833.3,1015.9 L834.3,1015.9 L834.7,1015.9 L836.1,1015.9 L836.9,1015.9 L837.5,1015.9 L838.9,1015.9 L839.5,1015.9 L840.3,1015.9 L841.7,1015.9 L842.1,1015.9 L843.1,1015.9 L844.5,1015.9 L844.8,1015.9 L845.9,1015.9 L847.3,1015.8 L847.4,1015.8 L848.7,1015.8 L850.0,1015.8 L850.1,1015.8 L851.5,1015.8 L852.6,1015.8 L853.0,1015.8 L854.4,1015.8 L855.2,1015.8 L855.8,1015.8 L857.2,1015.8 L857.9,1015.8 L858.6,1015.8 L860.0,1015.8 L860.5,1015.8 L861.4,1015.8 L862.8,1015.8 L863.1,1015.8 L864.2,1015.8 L865.6,1015.8 L865.7,1015.8 L867.0,1015.8 L868.3,1015.8 L868.4,1015.8 L869.8,1015.8 L871.0,1015.8 L871.2,1015.8 L872.6,1015.8 L873.6,1015.8 L874.0,1015.8 L875.4,1015.8 L876.2,1015.8 L876.8,1015.8 L878.8,1015.8 L881.4,1015.8 L884.1,1015.8 L886.7,1015.8 L889.3,1015.8 L891.9,1015.7 L894.5,1015.7 L897.2,1015.7 L899.8,1015.7 L902.4,1015.7 L905.0,1015.7 L907.6,1015.7 L910.2,1015.7 L912.9,1015.7 L915.5,1015.7 L918.1,1015.7 L920.7,1015.7 L923.3,1015.7 L926.0,1015.7 L928.6,1015.7 L931.2,1015.7 L933.8,1015.7 L936.4,1015.7 L939.1,1015.7 L941.7,1015.7 L944.3,1015.6 L946.9,1015.6 L949.5,1015.6 L952.2,1015.6 L954.8,1015.6 L957.4,1015.6 L960.0,1015.6 L962.6,1015.6 L965.3,1015.6 L967.9,1015.6 L970.5,1015.6 L973.1,1015.6 L975.7,1015.6 L978.4,1015.6 L981.0,1015.6 L983.6,1015.6 L986.2,1015.6 L988.8,1015.6 L991.5,1015.6 L994.1,1015.6 L996.7,1015.6 L999.3,1015.6 L1001.9,1015.6 L1004.5,1015.6 L1007.2,1015.6 L1009.8,1015.5 L1012.4,1015.5 L1015.0,1015.5 L1017.6,1015.5 L1020.3,1015.5 L1022.9,1015.5 L1025.5,1015.5 L1028.1,1015.5 L1030.7,1015.5 L1033.4,1015.5 L1036.0,1015.5 L1038.6,1015.5 L1041.2,1015.5 L1043.8,1015.5 L1046.5,1015.5 L1049.1,1015.5 L1051.7,1015.5 L1054.3,1015.5 L1056.9,1015.5 L1059.6,1015.5 L1062.2,1015.5 L1064.8,1015.5 L1067.4,1015.5 L1070.0,1015.5 L1072.7,1015.5 L1075.3,1015.5 L1077.9,1015.5 L1080.5,1015.5 L1083.1,1015.5 L1085.8,1015.5 L1088.4,1015.5 L1091.0,1015.5 L1093.6,1015.5 L1096.2,1015.5 L1098.8,1015.5 L1101.5,1015.5 L1104.1,1015.5 L1106.7,1015.5 L1109.3,1015.5 L1111.9,1015.5 L1114.6,1015.5 L1117.2,1015.4 L1119.8,1015.4 L1122.4,1015.4 L1125.0,1015.4 L1127.7,1015.4 L1130.3,1015.4 L1132.9,1015.4 L1135.5,1015.4 L1138.1,1015.4 L1140.8,1015.4 L1143.4,1015.4 L1146.0,1015.4 L1148.6,1015.4 L1151.2,1015.4 L1153.9,1015.4 L1156.5,1015.4 L1159.1,1015.4 L1161.7,1015.4 L1164.3,1015.4 L1167.0,1015.4 L1169.6,1015.4 L1172.2,1015.4 L1174.8,1015.4 L1177.4,1015.4 L1180.1,1015.4 L1182.7,1015.4 L1185.3,1015.4 L1187.9,1015.4 L1190.5,1015.4 L1193.1,1015.4 L1195.8,1015.4 L1198.4,1015.4 L1201.0,1015.4 L1203.6,1015.4 L1206.2,1015.4 L1208.9,1015.4 L1211.5,1015.4 L1214.1,1015.4 L1216.7,1015.4 L1219.3,1015.4 L1222.0,1015.4 L1224.6,1015.4 L1227.2,1015.4 L1229.8,1015.4 L1232.4,1015.4 L1235.1,1015.4 L1237.7,1015.4 L1240.3,1015.4 L1242.9,1015.4 L1245.5,1015.4 L1248.2,1015.4 L1250.8,1015.4 L1253.4,1015.4 L1256.0,1015.4 L1258.6,1015.4 L1261.3,1015.4 L1263.9,1015.4 L1266.5,1015.4 L1269.1,1015.4 L1271.7,1015.4 L1274.4,1015.4 L1277.0,1015.4 L1279.6,1015.4 L1282.2,1015.4 L1284.8,1015.4 L1287.4,1015.4 L1290.1,1015.4 L1292.7,1015.4 L1295.3,1015.4 L1297.9,1015.4 L1300.5,1015.4 L1303.2,1015.4 L1305.8,1015.4 L1308.4,1015.4 L1311.0,1015.4 L1313.6,1015.4 L1316.3,1015.4 L1318.9,1015.4 L1321.5,1015.4 L1324.1,1015.4 L1326.7,1015.4 L1329.4,1015.4 L1332.0,1015.4 L1334.6,1015.4 L1337.2,1015.4 L1339.8,1015.4 L1342.5,1015.4 L1345.1,1015.4 L1347.7,1015.4 L1350.3,1015.4 L1352.9,1015.4 L1355.6,1015.4 L1358.2,1015.4 L1360.8,1015.4 L1363.4,1015.4 L1366.0,1015.4 L1368.7,1015.4 L1371.3,1015.4 L1373.9,1015.4 L1376.5,1015.4 L1379.1,1015.4 L1381.7,1015.4 L1384.4,1015.4 L1387.0,1015.4 L1389.6,1015.4 L1392.2,1015.4 L1394.8,1015.4 L1397.5,1015.4 L1400.1,1015.4 L1402.7,1015.4 L1405.3,1015.4 L1407.9,1015.4 L1410.6,1015.4 L1413.2,1015.4 L1415.8,1015.4 L1418.4,1015.4 L1421.0,1015.4 L1423.7,1015.4 L1426.3,1015.4 L1428.9,1015.4 L1431.5,1015.4 L1434.1,1015.4 L1436.8,1015.4 L1439.4,1015.4 L1442.0,1015.5 L1444.6,1015.5 L1447.2,1015.5 L1449.9,1015.5 L1452.5,1015.5 L1455.1,1015.5 L1457.7,1015.5 L1460.3,1015.5 L1463.0,1015.5 L1465.6,1015.5 L1468.2,1015.5 L1470.8,1015.5 L1473.4,1015.5 L1476.1,1015.5 L1478.7,1015.5 L1481.3,1015.5 L1483.9,1015.5 L1486.5,1015.5 L1489.1,1015.5 L1491.8,1015.5 L1494.4,1015.5 L1497.0,1015.5 L1499.6,1015.5 L1502.2,1015.5 L1504.9,1015.5 L1507.5,1015.5 L1510.1,1015.5 L1512.7,1015.5 L1515.3,1015.5 L1518.0,1015.5 L1520.6,1015.5 L1523.2,1015.5 L1525.8,1015.5 L1528.4,1015.5 L1531.1,1015.5 L1533.7,1015.5 L1536.3,1015.5 L1538.9,1015.5 L1541.5,1015.5 L1544.2,1015.5 L1546.8,1015.5 L1549.4,1015.5 L1552.0,1015.5 L1554.6,1015.5 L1557.3,1015.5 L1559.9,1015.5 L1562.5,1015.5 L1565.1,1015.5 L1567.7,1015.5 L1570.4,1015.5 L1573.0,1015.5 L1575.6,1015.5 L1578.2,1015.5 L1580.8,1015.5 L1583.4,1015.5 L1586.1,1015.5 L1588.7,1015.5 L1591.3,1015.5 L1593.9,1015.5 L1596.5,1015.5 L1599.2,1015.5 L1601.8,1015.5 L1604.4,1015.5 L1607.0,1015.5 L1609.6,1015.5 L1612.3,1015.5 L1614.9,1015.5 L1617.5,1015.5 L1620.1,1015.5 L1622.7,1015.5 L1625.4,1015.5 L1628.0,1015.5 L1630.6,1015.5 L1633.2,1015.5 L1635.8,1015.5 L1638.5,1015.5 L1641.1,1015.5 L1643.7,1015.5 L1646.3,1015.5 L1648.9,1015.5 L1651.6,1015.5 L1654.2,1015.5 L1656.8,1015.5 L1659.4,1015.5 L1662.0,1015.5 L1664.7,1015.5 L1667.3,1015.5 L1669.9,1015.6 L1672.5,1015.6 L1675.1,1015.6 L1677.7,1015.6 L1680.4,1015.6 L1683.0,1015.6 L1685.6,1015.6 L1688.2,1015.6 L1690.8,1015.6 L1693.5,1015.6 L1696.1,1015.6 L1698.7,1015.6 L1701.3,1015.6 L1703.9,1015.6 L1706.6,1015.6 L1709.2,1015.6 L1711.8,1015.6 L1714.4,1015.6 L1717.0,1015.6 L1719.7,1015.6 L1722.3,1015.6 L1724.9,1015.6 L1727.5,1015.6 L1730.1,1015.6 L1732.8,1015.6 L1735.4,1015.6 L1738.0,1015.6 L1740.6,1015.6 L1743.2,1015.6 L1745.9,1015.6 L1748.5,1015.6 L1751.1,1015.6 L1753.7,1015.6 L1756.3,1015.6 L1759.0,1015.6 L1761.6,1015.6 L1764.2,1015.6 L1766.8,1015.6 L1769.4,1015.6 L1772.0,1015.6 L1774.7,1015.6 L1777.3,1015.6 L1779.9,1015.6 L1782.5,1015.6 L1785.1,1015.6 L1787.8,1015.6 L1790.4,1015.6 L1793.0,1015.6 L1795.6,1015.6 L1798.2,1015.6 L1800.9,1015.6 L1803.5,1015.6 L1806.1,1015.6 L1808.7,1015.6 L1811.3,1015.6 L1814.0,1015.6 L1816.6,1015.6 L1819.2,1015.6 L1821.8,1015.6 L1824.4,1015.6 L1827.1,1015.6 L1829.7,1015.6 L1832.3,1015.6 L1834.9,1015.6 L1837.5,1015.6 L1840.2,1015.6 L1842.8,1015.6 L1845.4,1015.6 L1848.0,1015.6 L1850.6,1015.6 L1853.3,1015.6 L1855.9,1015.6 L1858.5,1015.6 L1861.1,1015.6 L1863.7,1015.6 L1866.3,1015.6 L1869.0,1015.6 L1871.6,1015.6 L1874.2,1015.6 L1876.8,1015.6 L1879.4,1015.6 L1882.1,1015.6 L1884.7,1015.6 L1887.3,1015.6 L1889.9,1015.6 L1892.5,1015.6 L1895.2,1015.6 L1897.8,1015.6 L1900.4,1015.6 L1903.0,1015.6 L1905.6,1015.6 L1908.3,1015.6 L1910.9,1015.6 L1913.5,1015.6 L1916.1,1015.6 L1918.7,1015.6 L1921.4,1015.6 L1924.0,1015.6 L1926.6,1015.6 L1929.2,1015.6 L1931.8,1015.6 L1934.5,1015.6 L1937.1,1015.5 L1939.7,1015.5 L1942.3,1015.5 L1944.9,1015.5 L1947.6,1015.5 L1950.2,1015.5 L1952.8,1015.5 L1955.4,1015.5 L1958.0,1015.5 L1960.6,1015.5 L1963.3,1015.5 L1965.9,1015.5 L1968.5,1015.5 L1971.1,1015.5 L1973.7,1015.5 L1976.4,1015.5 L1979.0,1015.5 L1981.6,1015.5 L1984.2,1015.5 L1986.8,1015.5 L1989.5,1015.5 L1992.1,1015.5 L1994.7,1015.5 L1997.3,1015.5 L1999.9,1015.5 L2002.6,1015.5 L2005.2,1015.5 L2007.8,1015.5" stroke="#D95319" stroke-width="8.45" fill="none" stroke-linejoin="round" stroke-dasharray="6.15 6.15"/>
<path d="M176.8,1043.5 L178.2,1038.8 L179.4,1035.2 L179.6,1034.7 L181.0,1030.8 L182.0,1027.9 L182.4,1026.8 L183.8,1022.5 L184.7,1019.8 L185.2,1018.0 L186.6,1013.4 L187.3,1011.3 L188.0,1009.0 L189.4,1005.0 L189.9,1003.7 L190.8,1001.4 L192.2,998.1 L192.5,997.5 L193.6,995.0 L195.0,992.1 L195.1,991.9 L196.4,989.4 L197.8,987.0 L197.8,986.8 L199.2,984.4 L200.4,982.6 L200.6,982.1 L202.1,980.0 L203.0,978.6 L203.5,978.0 L204.9,976.1 L205.6,975.1 L206.3,974.3 L207.7,972.6 L208.2,971.9 L209.1,971.0 L210.5,969.5 L210.9,969.1 L211.9,968.1 L213.3,966.8 L213.5,966.6 L214.7,965.6 L216.1,964.4 L216.1,964.4 L217.5,963.3 L218.7,962.3 L218.9,962.2 L220.3,961.2 L221.3,960.5 L221.7,960.2 L223.1,959.3 L224.0,958.7 L224.5,958.4 L225.9,957.5 L226.6,957.0 L227.3,956.6 L228.7,955.7 L229.2,955.4 L230.1,954.9 L231.5,954.0 L231.8,953.8 L232.9,953.2 L234.3,952.4 L234.4,952.3 L235.7,951.6 L237.0,950.8 L237.1,950.8 L238.5,950.0 L239.7,949.4 L239.9,949.2 L241.3,948.5 L242.3,947.9 L242.7,947.7 L244.1,946.9 L244.9,946.5 L245.5,946.2 L246.9,945.4 L247.5,945.1 L248.3,944.6 L249.7,943.9 L250.1,943.7 L251.1,943.2 L252.6,942.6 L252.8,942.5 L254.0,942.0 L255.4,941.4 L255.4,941.4 L256.8,941.0 L258.0,940.6 L258.2,940.6 L259.6,940.3 L260.6,940.1 L261.0,940.1 L262.4,940.0 L263.2,939.9 L263.8,940.0 L265.2,940.1 L265.9,940.2 L266.6,940.4 L268.0,940.8 L268.5,941.0 L269.4,941.3 L270.8,942.0 L271.1,942.2 L272.2,942.8 L273.6,943.8 L273.7,943.8 L275.0,944.8 L276.3,945.9 L276.4,946.0 L277.8,947.2 L279.0,948.4 L279.2,948.6 L280.6,950.1 L281.6,951.1 L282.0,951.6 L283.4,953.3 L284.2,954.2 L284.8,955.0 L286.2,956.8 L286.8,957.5 L287.6,958.6 L289.0,960.5 L289.4,961.1 L290.4,962.5 L291.8,964.5 L292.1,964.8 L293.2,966.6 L294.6,968.7 L294.7,968.7 L296.0,970.8 L297.3,972.7 L297.4,972.9 L298.8,975.1 L299.9,976.8 L300.2,977.3 L301.6,979.6 L302.5,981.0 L303.1,981.8 L304.5,984.1 L305.2,985.2 L305.9,986.4 L307.3,988.6 L307.8,989.5 L308.7,990.9 L310.1,993.2 L310.4,993.7 L311.5,995.4 L312.9,997.7 L313.0,997.9 L314.3,999.9 L315.6,1002.1 L315.7,1002.1 L317.1,1004.3 L318.3,1006.1 L318.5,1006.5 L319.9,1008.6 L320.9,1010.1 L321.3,1010.8 L322.7,1012.8 L323.5,1014.0 L324.1,1014.9 L325.5,1016.9 L326.1,1017.7 L326.9,1018.8 L328.3,1020.7 L328.7,1021.3 L329.7,1022.6 L331.1,1024.5 L331.3,1024.8 L332.5,1026.3 L333.9,1028.0 L334.0,1028.1 L335.3,1029.7 L336.6,1031.2 L336.7,1031.3 L338.1,1032.9 L339.2,1034.1 L339.5,1034.5 L340.9,1036.0 L341.8,1036.9 L342.3,1037.4 L343.7,1038.8 L344.4,1039.4 L345.1,1040.1 L346.5,1041.3 L347.1,1041.8 L347.9,1042.5 L349.3,1043.7 L349.7,1044.0 L350.7,1044.8 L352.2,1045.8 L352.3,1045.9 L353.6,1046.8 L354.9,1047.6 L355.0,1047.7 L356.4,1048.5 L357.5,1049.2 L357.8,1049.3 L359.2,1050.0 L360.2,1050.5 L360.6,1050.7 L362.0,1051.3 L362.8,1051.6 L363.4,1051.8 L364.8,1052.3 L365.4,1052.5 L366.2,1052.7 L367.6,1053.1 L368.0,1053.1 L369.0,1053.3 L370.4,1053.6 L370.6,1053.6 L371.8,1053.7 L373.2,1053.8 L373.3,1053.8 L374.6,1053.8 L375.9,1053.8 L376.0,1053.8 L377.4,1053.7 L378.5,1053.6 L378.8,1053.5 L380.2,1053.3 L381.1,1053.1 L381.6,1053.0 L383.0,1052.7 L383.7,1052.4 L384.4,1052.2 L385.8,1051.7 L386.4,1051.5 L387.2,1051.2 L388.6,1050.5 L389.0,1050.4 L390.0,1049.9 L391.4,1049.1 L391.6,1049.0 L392.8,1048.3 L394.2,1047.5 L394.2,1047.5 L395.6,1046.6 L396.8,1045.8 L397.0,1045.6 L398.4,1044.6 L399.5,1043.9 L399.8,1043.6 L401.2,1042.5 L402.1,1041.9 L402.7,1041.4 L404.1,1040.3 L404.7,1039.7 L405.5,1039.1 L406.9,1037.9 L407.3,1037.5 L408.3,1036.7 L409.7,1035.4 L409.9,1035.2 L411.1,1034.1 L412.5,1032.8 L412.6,1032.8 L413.9,1031.5 L415.2,1030.3 L415.3,1030.2 L416.7,1028.9 L417.8,1027.8 L418.1,1027.5 L419.5,1026.2 L420.4,1025.3 L420.9,1024.8 L422.3,1023.5 L423.0,1022.7 L423.7,1022.1 L425.1,1020.7 L425.6,1020.2 L426.5,1019.3 L427.9,1018.0 L428.3,1017.6 L429.3,1016.6 L430.7,1015.2 L430.9,1015.0 L432.1,1013.8 L433.5,1012.4 L433.5,1012.4 L434.9,1011.0 L436.1,1009.9 L436.3,1009.7 L437.7,1008.3 L438.7,1007.3 L439.1,1006.9 L440.5,1005.6 L441.4,1004.7 L441.9,1004.2 L443.3,1002.8 L444.0,1002.2 L444.7,1001.5 L446.1,1000.2 L446.6,999.7 L447.5,998.8 L448.9,997.5 L449.2,997.3 L450.3,996.2 L451.7,994.9 L451.8,994.8 L453.2,993.7 L454.5,992.5 L454.6,992.4 L456.0,991.1 L457.1,990.2 L457.4,989.9 L458.8,988.7 L459.7,987.9 L460.2,987.5 L461.6,986.3 L462.3,985.7 L463.0,985.2 L464.4,984.0 L464.9,983.6 L465.8,982.9 L467.2,981.8 L467.6,981.5 L468.6,980.8 L470.0,979.7 L470.2,979.6 L471.4,978.7 L472.8,977.7 L472.8,977.7 L474.2,976.7 L475.4,975.9 L475.6,975.8 L477.0,974.9 L478.0,974.2 L478.4,974.0 L479.8,973.2 L480.7,972.7 L481.2,972.3 L482.6,971.5 L483.3,971.2 L484.0,970.8 L485.4,970.1 L485.9,969.8 L486.8,969.4 L488.2,968.7 L488.5,968.6 L489.6,968.1 L491.0,967.5 L491.1,967.5 L492.4,967.0 L493.8,966.5 L493.8,966.5 L495.2,966.0 L496.4,965.6 L496.6,965.5 L498.0,965.1 L499.0,964.8 L499.4,964.7 L500.8,964.3 L501.6,964.1 L502.3,963.9 L503.7,963.6 L504.2,963.4 L505.1,963.3 L506.5,963.0 L506.9,962.9 L507.9,962.7 L509.3,962.5 L509.5,962.4 L510.7,962.2 L512.1,962.0 L512.1,962.0 L513.5,961.8 L514.7,961.7 L514.9,961.7 L516.3,961.5 L517.3,961.4 L517.7,961.4 L519.1,961.3 L519.9,961.2 L520.5,961.2 L521.9,961.1 L522.6,961.0 L523.3,961.0 L524.7,960.9 L525.2,960.9 L526.1,960.9 L527.5,960.9 L527.8,960.8 L528.9,960.8 L530.3,960.8 L530.4,960.8 L531.7,960.8 L533.0,960.8 L533.1,960.8 L534.5,960.8 L535.7,960.8 L535.9,960.8 L537.3,960.8 L538.3,960.8 L538.7,960.9 L540.1,960.9 L540.9,960.9 L541.5,960.9 L542.9,960.9 L543.5,961.0 L544.3,961.0 L545.7,961.0 L546.1,961.0 L547.1,961.1 L548.5,961.1 L548.8,961.1 L549.9,961.2 L551.3,961.2 L551.4,961.2 L552.8,961.3 L554.0,961.3 L554.2,961.3 L555.6,961.4 L556.6,961.4 L557.0,961.5 L558.4,961.5 L559.2,961.6 L559.8,961.6 L561.2,961.7 L561.9,961.7 L562.6,961.7 L564.0,961.8 L564.5,961.8 L565.4,961.9 L566.8,962.0 L567.1,962.0 L568.2,962.0 L569.6,962.1 L569.7,962.1 L571.0,962.2 L572.3,962.3 L572.4,962.3 L573.8,962.4 L575.0,962.4 L575.2,962.4 L576.6,962.5 L577.6,962.6 L578.0,962.6 L579.4,962.7 L580.2,962.7 L580.8,962.8 L582.2,962.9 L582.8,962.9 L583.6,962.9 L585.0,963.0 L585.4,963.0 L586.4,963.1 L587.8,963.2 L588.1,963.2 L589.2,963.3 L590.6,963.3 L590.7,963.3 L592.0,963.4 L593.3,963.5 L593.4,963.5 L594.8,963.6 L595.9,963.6 L596.2,963.6 L597.6,963.7 L598.5,963.7 L599.0,963.8 L600.4,963.8 L601.2,963.9 L601.9,963.9 L603.3,964.0 L603.8,964.0 L604.7,964.0 L606.1,964.1 L606.4,964.1 L607.5,964.1 L608.9,964.2 L609.0,964.2 L610.3,964.2 L611.6,964.3 L611.7,964.3 L613.1,964.3 L614.2,964.4 L614.5,964.4 L615.9,964.4 L616.9,964.5 L617.3,964.5 L618.7,964.5 L619.5,964.6 L620.1,964.6 L621.5,964.6 L622.1,964.6 L622.9,964.6 L624.3,964.7 L624.7,964.7 L625.7,964.7 L627.1,964.8 L627.3,964.8 L628.5,964.8 L629.9,964.8 L630.0,964.8 L631.3,964.8 L632.6,964.9 L632.7,964.9 L634.1,964.9 L635.2,964.9 L635.5,964.9 L636.9,964.9 L637.8,965.0 L638.3,965.0 L639.7,965.0 L640.4,965.0 L641.1,965.0 L642.5,965.0 L643.1,965.0 L643.9,965.0 L645.3,965.0 L645.7,965.0 L646.7,965.1 L648.1,965.1 L648.3,965.1 L649.5,965.1 L650.9,965.1 L650.9,965.1 L652.4,965.1 L653.5,965.1 L653.8,965.1 L655.2,965.1 L656.2,965.1 L656.6,965.1 L658.0,965.1 L658.8,965.1 L659.4,965.1 L660.8,965.1 L661.4,965.1 L662.2,965.1 L663.6,965.1 L664.0,965.1 L665.0,965.1 L666.4,965.1 L666.6,965.1 L667.8,965.1 L669.2,965.1 L669.3,965.1 L670.6,965.1 L671.9,965.1 L672.0,965.1 L673.4,965.1 L674.5,965.1 L674.8,965.1 L676.2,965.1 L677.1,965.0 L677.6,965.0 L679.0,965.0 L679.7,965.0 L680.4,965.0 L681.8,965.0 L682.4,965.0 L683.2,965.0 L684.6,965.0 L685.0,965.0 L686.0,965.0 L687.4,964.9 L687.6,964.9 L688.8,964.9 L690.2,964.9 L690.2,964.9 L691.6,964.9 L692.8,964.9 L693.0,964.9 L694.4,964.8 L695.5,964.8 L695.8,964.8 L697.2,964.8 L698.1,964.8 L698.6,964.8 L700.0,964.8 L700.7,964.7 L701.4,964.7 L702.9,964.7 L703.3,964.7 L704.3,964.7 L705.7,964.7 L705.9,964.7 L707.1,964.6 L708.5,964.6 L708.5,964.6 L709.9,964.6 L711.2,964.6 L711.3,964.5 L712.7,964.5 L713.8,964.5 L714.1,964.5 L715.5,964.5 L716.4,964.4 L716.9,964.4 L718.3,964.4 L719.0,964.4 L719.7,964.4 L721.1,964.3 L721.6,964.3 L722.5,964.3 L723.9,964.3 L724.3,964.3 L725.3,964.3 L726.7,964.2 L726.9,964.2 L728.1,964.2 L729.5,964.2 L729.5,964.2 L730.9,964.1 L732.1,964.1 L732.3,964.1 L733.7,964.1 L734.7,964.0 L735.1,964.0 L736.5,964.0 L737.4,964.0 L737.9,964.0 L739.3,963.9 L740.0,963.9 L740.7,963.9 L742.1,963.9 L742.6,963.9 L743.5,963.8 L744.9,963.8 L745.2,963.8 L746.3,963.8 L747.7,963.7 L747.8,963.7 L749.1,963.7 L750.5,963.7 L750.5,963.7 L752.0,963.6 L753.1,963.6 L753.4,963.6 L754.8,963.6 L755.7,963.6 L756.2,963.5 L757.6,963.5 L758.3,963.5 L759.0,963.5 L760.4,963.5 L760.9,963.4 L761.8,963.4 L763.2,963.4 L763.6,963.4 L764.6,963.4 L766.0,963.3 L766.2,963.3 L767.4,963.3 L768.8,963.3 L768.8,963.3 L770.2,963.2 L771.4,963.2 L771.6,963.2 L773.0,963.2 L774.0,963.2 L774.4,963.2 L775.8,963.1 L776.7,963.1 L777.2,963.1 L778.6,963.1 L779.3,963.1 L780.0,963.0 L781.4,963.0 L781.9,963.0 L782.8,963.0 L784.2,963.0 L784.5,963.0 L785.6,962.9 L787.0,962.9 L787.1,962.9 L788.4,962.9 L789.8,962.9 L789.8,962.9 L791.2,962.8 L792.4,962.8 L792.6,962.8 L794.0,962.8 L795.0,962.8 L795.4,962.8 L796.8,962.7 L797.6,962.7 L798.2,962.7 L799.6,962.7 L800.2,962.7 L801.0,962.7 L802.5,962.7 L802.9,962.7 L803.9,962.6 L805.3,962.6 L805.5,962.6 L806.7,962.6 L808.1,962.6 L808.1,962.6 L809.5,962.6 L810.7,962.5 L810.9,962.5 L812.3,962.5 L813.3,962.5 L813.7,962.5 L815.1,962.5 L815.9,962.5 L816.5,962.5 L817.9,962.4 L818.6,962.4 L819.3,962.4 L820.7,962.4 L821.2,962.4 L822.1,962.4 L823.5,962.4 L823.8,962.4 L824.9,962.4 L826.3,962.3 L826.4,962.3 L827.7,962.3 L829.0,962.3 L829.1,962.3 L830.5,962.3 L831.7,962.3 L831.9,962.3 L833.3,962.3 L834.3,962.2 L834.7,962.2 L836.1,962.2 L836.9,962.2 L837.5,962.2 L838.9,962.2 L839.5,962.2 L840.3,962.2 L841.7,962.2 L842.1,962.2 L843.1,962.2 L844.5,962.1 L844.8,962.1 L845.9,962.1 L847.3,962.1 L847.4,962.1 L848.7,962.1 L850.0,962.1 L850.1,962.1 L851.5,962.1 L852.6,962.1 L853.0,962.1 L854.4,962.1 L855.2,962.1 L855.8,962.0 L857.2,962.0 L857.9,962.0 L858.6,962.0 L860.0,962.0 L860.5,962.0 L861.4,962.0 L862.8,962.0 L863.1,962.0 L864.2,962.0 L865.6,962.0 L865.7,962.0 L867.0,962.0 L868.3,962.0 L868.4,962.0 L869.8,962.0 L871.0,961.9 L871.2,961.9 L872.6,961.9 L873.6,961.9 L874.0,961.9 L875.4,961.9 L876.2,961.9 L876.8,961.9 L878.8,961.9 L881.4,961.9 L884.1,961.9 L886.7,961.9 L889.3,961.9 L891.9,961.8 L894.5,961.8 L897.2,961.8 L899.8,961.8 L902.4,961.8 L905.0,961.8 L907.6,961.8 L910.2,961.8 L912.9,961.8 L915.5,961.8 L918.1,961.8 L920.7,961.8 L923.3,961.8 L926.0,961.8 L928.6,961.8 L931.2,961.8 L933.8,961.8 L936.4,961.8 L939.1,961.8 L941.7,961.8 L944.3,961.8 L946.9,961.8 L949.5,961.8 L952.2,961.8 L954.8,961.8 L957.4,961.8 L960.0,961.8 L962.6,961.8 L965.3,961.8 L967.9,961.8 L970.5,961.8 L973.1,961.8 L975.7,961.8 L978.4,961.9 L981.0,961.9 L983.6,961.9 L986.2,961.9 L988.8,961.9 L991.5,961.9 L994.1,961.9 L996.7,961.9 L999.3,961.9 L1001.9,961.9 L1004.5,961.9 L1007.2,962.0 L1009.8,962.0 L1012.4,962.0 L1015.0,962.0 L1017.6,962.0 L1020.3,962.0 L1022.9,962.0 L1025.5,962.0 L1028.1,962.0 L1030.7,962.1 L1033.4,962.1 L1036.0,962.1 L1038.6,962.1 L1041.2,962.1 L1043.8,962.1 L1046.5,962.1 L1049.1,962.1 L1051.7,962.2 L1054.3,962.2 L1056.9,962.2 L1059.6,962.2 L1062.2,962.2 L1064.8,962.2 L1067.4,962.2 L1070.0,962.2 L1072.7,962.3 L1075.3,962.3 L1077.9,962.3 L1080.5,962.3 L1083.1,962.3 L1085.8,962.3 L1088.4,962.3 L1091.0,962.3 L1093.6,962.4 L1096.2,962.4 L1098.8,962.4 L1101.5,962.4 L1104.1,962.4 L1106.7,962.4 L1109.3,962.4 L1111.9,962.4 L1114.6,962.4 L1117.2,962.5 L1119.8,962.5 L1122.4,962.5 L1125.0,962.5 L1127.7,962.5 L1130.3,962.5 L1132.9,962.5 L1135.5,962.5 L1138.1,962.5 L1140.8,962.5 L1143.4,962.5 L1146.0,962.6 L1148.6,962.6 L1151.2,962.6 L1153.9,962.6 L1156.5,962.6 L1159.1,962.6 L1161.7,962.6 L1164.3,962.6 L1167.0,962.6 L1169.6,962.6 L1172.2,962.6 L1174.8,962.6 L1177.4,962.6 L1180.1,962.6 L1182.7,962.7 L1185.3,962.7 L1187.9,962.7 L1190.5,962.7 L1193.1,962.7 L1195.8,962.7 L1198.4,962.7 L1201.0,962.7 L1203.6,962.7 L1206.2,962.7 L1208.9,962.7 L1211.5,962.7 L1214.1,962.7 L1216.7,962.7 L1219.3,962.7 L1222.0,962.7 L1224.6,962.7 L1227.2,962.7 L1229.8,962.7 L1232.4,962.7 L1235.1,962.7 L1237.7,962.7 L1240.3,962.7 L1242.9,962.8 L1245.5,962.8 L1248.2,962.8 L1250.8,962.8 L1253.4,962.8 L1256.0,962.8 L1258.6,962.8 L1261.3,962.8 L1263.9,962.8 L1266.5,962.8 L1269.1,962.8 L1271.7,962.8 L1274.4,962.8 L1277.0,962.8 L1279.6,962.8 L1282.2,962.8 L1284.8,962.8 L1287.4,962.8 L1290.1,962.8 L1292.7,962.8 L1295.3,962.8 L1297.9,962.8 L1300.5,962.8 L1303.2,962.8 L1305.8,962.8 L1308.4,962.8 L1311.0,962.8 L1313.6,962.8 L1316.3,962.8 L1318.9,962.8 L1321.5,962.8 L1324.1,962.8 L1326.7,962.8 L1329.4,962.8 L1332.0,962.8 L1334.6,962.8 L1337.2,962.8 L1339.8,962.8 L1342.5,962.8 L1345.1,962.8 L1347.7,962.8 L1350.3,962.8 L1352.9,962.8 L1355.6,962.8 L1358.2,962.8 L1360.8,962.8 L1363.4,962.8 L1366.0,962.8 L1368.7,962.7 L1371.3,962.7 L1373.9,962.7 L1376.5,962.7 L1379.1,962.7 L1381.7,962.7 L1384.4,962.7 L1387.0,962.7 L1389.6,962.7 L1392.2,962.7 L1394.8,962.7 L1397.5,962.7 L1400.1,962.7 L1402.7,962.7 L1405.3,962.7 L1407.9,962.7 L1410.6,962.7 L1413.2,962.7 L1415.8,962.7 L1418.4,962.7 L1421.0,962.7 L1423.7,962.7 L1426.3,962.7 L1428.9,962.7 L1431.5,962.7 L1434.1,962.7 L1436.8,962.7 L1439.4,962.7 L1442.0,962.7 L1444.6,962.7 L1447.2,962.6 L1449.9,962.6 L1452.5,962.6 L1455.1,962.6 L1457.7,962.6 L1460.3,962.6 L1463.0,962.6 L1465.6,962.6 L1468.2,962.6 L1470.8,962.6 L1473.4,962.6 L1476.1,962.6 L1478.7,962.6 L1481.3,962.6 L1483.9,962.6 L1486.5,962.6 L1489.1,962.6 L1491.8,962.6 L1494.4,962.6 L1497.0,962.6 L1499.6,962.6 L1502.2,962.6 L1504.9,962.5 L1507.5,962.5 L1510.1,962.5 L1512.7,962.5 L1515.3,962.5 L1518.0,962.5 L1520.6,962.5 L1523.2,962.5 L1525.8,962.5 L1528.4,962.5 L1531.1,962.5 L1533.7,962.5 L1536.3,962.5 L1538.9,962.5 L1541.5,962.5 L1544.2,962.5 L1546.8,962.5 L1549.4,962.5 L1552.0,962.5 L1554.6,962.4 L1557.3,962.4 L1559.9,962.4 L1562.5,962.4 L1565.1,962.4 L1567.7,962.4 L1570.4,962.4 L1573.0,962.4 L1575.6,962.4 L1578.2,962.4 L1580.8,962.4 L1583.4,962.4 L1586.1,962.4 L1588.7,962.4 L1591.3,962.4 L1593.9,962.4 L1596.5,962.4 L1599.2,962.4 L1601.8,962.4 L1604.4,962.4 L1607.0,962.3 L1609.6,962.3 L1612.3,962.3 L1614.9,962.3 L1617.5,962.3 L1620.1,962.3 L1622.7,962.3 L1625.4,962.3 L1628.0,962.3 L1630.6,962.3 L1633.2,962.3 L1635.8,962.3 L1638.5,962.3 L1641.1,962.3 L1643.7,962.3 L1646.3,962.3 L1648.9,962.3 L1651.6,962.3 L1654.2,962.3 L1656.8,962.3 L1659.4,962.2 L1662.0,962.2 L1664.7,962.2 L1667.3,962.2 L1669.9,962.2 L1672.5,962.2 L1675.1,962.2 L1677.7,962.2 L1680.4,962.2 L1683.0,962.2 L1685.6,962.2 L1688.2,962.2 L1690.8,962.2 L1693.5,962.2 L1696.1,962.2 L1698.7,962.2 L1701.3,962.2 L1703.9,962.2 L1706.6,962.2 L1709.2,962.2 L1711.8,962.2 L1714.4,962.2 L1717.0,962.2 L1719.7,962.2 L1722.3,962.2 L1724.9,962.2 L1727.5,962.1 L1730.1,962.1 L1732.8,962.1 L1735.4,962.1 L1738.0,962.1 L1740.6,962.1 L1743.2,962.1 L1745.9,962.1 L1748.5,962.1 L1751.1,962.1 L1753.7,962.1 L1756.3,962.1 L1759.0,962.1 L1761.6,962.1 L1764.2,962.1 L1766.8,962.1 L1769.4,962.1 L1772.0,962.1 L1774.7,962.1 L1777.3,962.1 L1779.9,962.1 L1782.5,962.1 L1785.1,962.1 L1787.8,962.1 L1790.4,962.1 L1793.0,962.1 L1795.6,962.1 L1798.2,962.1 L1800.9,962.1 L1803.5,962.1 L1806.1,962.1 L1808.7,962.1 L1811.3,962.1 L1814.0,962.1 L1816.6,962.1 L1819.2,962.1 L1821.8,962.1 L1824.4,962.1 L1827.1,962.1 L1829.7,962.1 L1832.3,962.1 L1834.9,962.1 L1837.5,962.1 L1840.2,962.1 L1842.8,962.1 L1845.4,962.1 L1848.0,962.1 L1850.6,962.1 L1853.3,962.1 L1855.9,962.1 L1858.5,962.1 L1861.1,962.1 L1863.7,962.1 L1866.3,962.1 L1869.0,962.1 L1871.6,962.1 L1874.2,962.1 L1876.8,962.1 L1879.4,962.1 L1882.1,962.1 L1884.7,962.1 L1887.3,962.1 L1889.9,962.1 L1892.5,962.1 L1895.2,962.1 L1897.8,962.1 L1900.4,962.1 L1903.0,962.1 L1905.6,962.1 L1908.3,962.1 L1910.9,962.1 L1913.5,962.2 L1916.1,962.2 L1918.7,962.2 L1921.4,962.2 L1924.0,962.2 L1926.6,962.2 L1929.2,962.2 L1931.8,962.2 L1934.5,962.2 L1937.1,962.2 L1939.7,962.2 L1942.3,962.2 L1944.9,962.2 L1947.6,962.2 L1950.2,962.2 L1952.8,962.2 L1955.4,962.2 L1958.0,962.2 L1960.6,962.3 L1963.3,962.3 L1965.9,962.3 L1968.5,962.3 L1971.1,962.3 L1973.7,962.3 L1976.4,962.3 L1979.0,962.3 L1981.6,962.3 L1984.2,962.3 L1986.8,962.3 L1989.5,962.3 L1992.1,962.3 L1994.7,962.4 L1997.3,962.4 L1999.9,962.4 L2002.6,962.4 L2005.2,962.4 L2007.8,962.4" stroke="#EDB120" stroke-width="8.45" fill="none" stroke-linejoin="round" stroke-dasharray="6.15 6.15"/>
<rect x="1648.4" y="685.3" width="324.6" height="466.3" fill="#fff" stroke="#000" stroke-width="4.6"/>
<path d="M1662.3,718.3H1784.3" stroke="#000" stroke-width="8.45" fill="none"/>
<text x="1797.0" y="744.8" font-size="62.5" font-style="italic">W</text>
<text x="1866.2" y="723.3" font-size="36" text-anchor="middle">*</text>
<text x="1868.0" y="756.2" font-size="35.5" text-anchor="middle">1</text>
<path d="M1662.3,793.3H1784.3" stroke="#000" stroke-width="8.45" fill="none"/>
<text x="1797.0" y="819.8" font-size="62.5" font-style="italic">W</text>
<text x="1866.2" y="798.3" font-size="36" text-anchor="middle">*</text>
<text x="1868.0" y="831.2" font-size="35.5" text-anchor="middle">2</text>
<path d="M1662.3,868.3H1784.3" stroke="#000" stroke-width="8.45" fill="none"/>
<text x="1797.0" y="894.8" font-size="62.5" font-style="italic">W</text>
<text x="1866.2" y="873.3" font-size="36" text-anchor="middle">*</text>
<text x="1868.0" y="906.2" font-size="35.5" text-anchor="middle">3</text>
<path d="M1662.3,943.3H1784.3" stroke="#0072BD" stroke-width="8.45" fill="none" stroke-dasharray="6.15 6.15"/>
<text x="1797.0" y="969.8" font-size="62.5" font-style="italic">W</text>
<text transform="translate(1830.2,926.8) scale(0.95,1.38)" x="0" y="28.4" font-size="56" text-anchor="middle">ˆ</text>
<text x="1847.6" y="980.6" font-size="30.5" font-style="italic">c</text>
<text x="1863.5" y="980.6" font-size="35.5">,</text>
<text x="1891.2" y="980.6" font-size="35.5" text-anchor="middle">1</text>
<text x="1899.9" y="969.8" font-size="62.5">(<tspan font-style="italic">t</tspan>)</text>
<path d="M1662.3,1018.3H1784.3" stroke="#D95319" stroke-width="8.45" fill="none" stroke-dasharray="6.15 6.15"/>
<text x="1797.0" y="1044.8" font-size="62.5" font-style="italic">W</text>
<text transform="translate(1830.2,1001.8) scale(0.95,1.38)" x="0" y="28.4" font-size="56" text-anchor="middle">ˆ</text>
<text x="1847.6" y="1055.6" font-size="30.5" font-style="italic">c</text>
<text x="1863.5" y="1055.6" font-size="35.5">,</text>
<text x="1891.2" y="1055.6" font-size="35.5" text-anchor="middle">2</text>
<text x="1899.9" y="1044.8" font-size="62.5">(<tspan font-style="italic">t</tspan>)</text>
<path d="M1662.3,1093.3H1784.3" stroke="#EDB120" stroke-width="8.45" fill="none" stroke-dasharray="6.15 6.15"/>
<text x="1797.0" y="1119.8" font-size="62.5" font-style="italic">W</text>
<text transform="translate(1830.2,1076.8) scale(0.95,1.38)" x="0" y="28.4" font-size="56" text-anchor="middle">ˆ</text>
<text x="1847.6" y="1130.6" font-size="30.5" font-style="italic">c</text>
<text x="1863.5" y="1130.6" font-size="35.5">,</text>
<text x="1891.2" y="1130.6" font-size="35.5" text-anchor="middle">3</text>
<text x="1899.9" y="1119.8" font-size="62.5">(<tspan font-style="italic">t</tspan>)</text>
<path d="M359.8,1511.5V1928.5M542.9,1511.5V1928.5M726.0,1511.5V1928.5M909.1,1511.5V1928.5M1092.2,1511.5V1928.5M1275.4,1511.5V1928.5M1458.5,1511.5V1928.5M1641.6,1511.5V1928.5M1824.7,1511.5V1928.5M2007.8,1511.5V1928.5" stroke="#000" stroke-opacity="0.14" stroke-width="2.1" fill="none"/>
<path d="M199.0,1580.7H2007.8M199.0,1719.7H2007.8M199.0,1858.7H2007.8" stroke="#000" stroke-opacity="0.14" stroke-width="2.1" fill="none"/>
<path d="M176.7,1509.2V1928.5H2010.1M359.8,1928.5v-20M542.9,1928.5v-20M726.0,1928.5v-20M909.1,1928.5v-20M1092.2,1928.5v-20M1275.4,1928.5v-20M1458.5,1928.5v-20M1641.6,1928.5v-20M1824.7,1928.5v-20M2007.8,1928.5v-20M176.7,1580.7h20.6M176.7,1719.7h20.6M176.7,1858.7h20.6" stroke="#000" stroke-width="4.7" fill="none" stroke-linejoin="miter"/>
<text x="176.7" y="1996.8" font-size="62.5" text-anchor="middle">0</text>
<text x="359.8" y="1996.8" font-size="62.5" text-anchor="middle">2</text>
<text x="542.9" y="1996.8" font-size="62.5" text-anchor="middle">4</text>
<text x="726.0" y="1996.8" font-size="62.5" text-anchor="middle">6</text>
<text x="909.1" y="1996.8" font-size="62.5" text-anchor="middle">8</text>
<text x="1092.2" y="1996.8" font-size="62.5" text-anchor="middle">10</text>
<text x="1275.4" y="1996.8" font-size="62.5" text-anchor="middle">12</text>
<text x="1458.5" y="1996.8" font-size="62.5" text-anchor="middle">14</text>
<text x="1641.6" y="1996.8" font-size="62.5" text-anchor="middle">16</text>
<text x="1824.7" y="1996.8" font-size="62.5" text-anchor="middle">18</text>
<text x="2007.8" y="1996.8" font-size="62.5" text-anchor="middle">20</text>
<text x="152.0" y="1601.8" font-size="62.5" text-anchor="end">2</text>
<text x="152.0" y="1740.8" font-size="62.5" text-anchor="end">1</text>
<text x="152.0" y="1879.8" font-size="62.5" text-anchor="end">0</text>
<text x="1092.2" y="2066.3" font-size="62.5" text-anchor="middle">Time (s)</text>
<text x="1092.0" y="2140.8" font-size="62.5" text-anchor="middle">(c) Actor learning process</text>
<path d="M176.7,1719.7H2007.8" stroke="#000" stroke-width="8.45" fill="none"/>
<path d="M176.7,1858.7H2007.8" stroke="#000" stroke-width="8.45" fill="none"/>
<path d="M176.8,1775.6 L178.2,1765.3 L179.4,1760.4 L179.6,1759.9 L181.0,1757.2 L182.0,1755.7 L182.4,1755.2 L183.8,1753.5 L184.7,1752.6 L185.2,1752.0 L186.6,1750.8 L187.3,1750.4 L188.0,1749.9 L189.4,1749.2 L189.9,1749.0 L190.8,1748.7 L192.2,1748.5 L192.5,1748.4 L193.6,1748.4 L195.0,1748.5 L195.1,1748.6 L196.4,1748.8 L197.8,1749.2 L197.8,1749.2 L199.2,1749.8 L200.4,1750.3 L200.6,1750.4 L202.1,1751.1 L203.0,1751.6 L203.5,1751.8 L204.9,1752.6 L205.6,1753.0 L206.3,1753.4 L207.7,1754.1 L208.2,1754.4 L209.1,1754.8 L210.5,1755.5 L210.9,1755.7 L211.9,1756.2 L213.3,1756.9 L213.5,1757.0 L214.7,1757.5 L216.1,1758.1 L216.1,1758.1 L217.5,1758.7 L218.7,1759.3 L218.9,1759.4 L220.3,1760.0 L221.3,1760.4 L221.7,1760.6 L223.1,1761.2 L224.0,1761.5 L224.5,1761.8 L225.9,1762.4 L226.6,1762.7 L227.3,1763.0 L228.7,1763.7 L229.2,1763.9 L230.1,1764.3 L231.5,1765.0 L231.8,1765.1 L232.9,1765.6 L234.3,1766.3 L234.4,1766.4 L235.7,1767.0 L237.0,1767.7 L237.1,1767.7 L238.5,1768.4 L239.7,1768.9 L239.9,1769.1 L241.3,1769.7 L242.3,1770.2 L242.7,1770.4 L244.1,1771.1 L244.9,1771.4 L245.5,1771.7 L246.9,1772.3 L247.5,1772.6 L248.3,1772.9 L249.7,1773.5 L250.1,1773.6 L251.1,1774.0 L252.6,1774.5 L252.8,1774.6 L254.0,1775.0 L255.4,1775.4 L255.4,1775.4 L256.8,1775.8 L258.0,1776.1 L258.2,1776.1 L259.6,1776.4 L260.6,1776.6 L261.0,1776.7 L262.4,1776.9 L263.2,1777.0 L263.8,1777.0 L265.2,1777.1 L265.9,1777.1 L266.6,1777.1 L268.0,1777.1 L268.5,1777.1 L269.4,1777.0 L270.8,1776.8 L271.1,1776.7 L272.2,1776.5 L273.6,1776.2 L273.7,1776.2 L275.0,1775.8 L276.3,1775.3 L276.4,1775.3 L277.8,1774.7 L279.0,1774.1 L279.2,1774.0 L280.6,1773.3 L281.6,1772.7 L282.0,1772.4 L283.4,1771.5 L284.2,1770.9 L284.8,1770.5 L286.2,1769.4 L286.8,1768.9 L287.6,1768.3 L289.0,1767.0 L289.4,1766.7 L290.4,1765.7 L291.8,1764.3 L292.1,1764.1 L293.2,1762.9 L294.6,1761.4 L294.7,1761.3 L296.0,1759.8 L297.3,1758.3 L297.4,1758.1 L298.8,1756.3 L299.9,1755.0 L300.2,1754.5 L301.6,1752.6 L302.5,1751.4 L303.1,1750.7 L304.5,1748.7 L305.2,1747.7 L305.9,1746.6 L307.3,1744.5 L307.8,1743.7 L308.7,1742.3 L310.1,1740.1 L310.4,1739.5 L311.5,1737.8 L312.9,1735.4 L313.0,1735.2 L314.3,1733.0 L315.6,1730.6 L315.7,1730.5 L317.1,1728.1 L318.3,1725.9 L318.5,1725.5 L319.9,1722.9 L320.9,1721.1 L321.3,1720.3 L322.7,1717.7 L323.5,1716.2 L324.1,1715.0 L325.5,1712.3 L326.1,1711.1 L326.9,1709.6 L328.3,1706.8 L328.7,1706.0 L329.7,1704.0 L331.1,1701.2 L331.3,1700.8 L332.5,1698.4 L333.9,1695.6 L334.0,1695.5 L335.3,1692.7 L336.6,1690.1 L336.7,1689.9 L338.1,1687.0 L339.2,1684.8 L339.5,1684.1 L340.9,1681.3 L341.8,1679.4 L342.3,1678.4 L343.7,1675.5 L344.4,1674.1 L345.1,1672.7 L346.5,1669.8 L347.1,1668.7 L347.9,1666.9 L349.3,1664.1 L349.7,1663.4 L350.7,1661.3 L352.2,1658.5 L352.3,1658.2 L353.6,1655.7 L354.9,1653.0 L355.0,1652.9 L356.4,1650.2 L357.5,1647.9 L357.8,1647.4 L359.2,1644.7 L360.2,1642.8 L360.6,1642.1 L362.0,1639.4 L362.8,1637.9 L363.4,1636.8 L364.8,1634.3 L365.4,1633.2 L366.2,1631.8 L367.6,1629.3 L368.0,1628.5 L369.0,1626.9 L370.4,1624.5 L370.6,1624.1 L371.8,1622.2 L373.2,1619.9 L373.3,1619.8 L374.6,1617.7 L375.9,1615.7 L376.0,1615.5 L377.4,1613.4 L378.5,1611.8 L378.8,1611.3 L380.2,1609.4 L381.1,1608.1 L381.6,1607.5 L383.0,1605.6 L383.7,1604.7 L384.4,1603.8 L385.8,1602.1 L386.4,1601.5 L387.2,1600.5 L388.6,1599.0 L389.0,1598.6 L390.0,1597.5 L391.4,1596.1 L391.6,1596.0 L392.8,1594.8 L394.2,1593.6 L394.2,1593.5 L395.6,1592.4 L396.8,1591.4 L397.0,1591.2 L398.4,1590.1 L399.5,1589.4 L399.8,1589.1 L401.2,1588.2 L402.1,1587.6 L402.7,1587.2 L404.1,1586.3 L404.7,1585.9 L405.5,1585.5 L406.9,1584.7 L407.3,1584.4 L408.3,1583.9 L409.7,1583.2 L409.9,1583.0 L411.1,1582.5 L412.5,1581.8 L412.6,1581.8 L413.9,1581.2 L415.2,1580.6 L415.3,1580.6 L416.7,1580.1 L417.8,1579.7 L418.1,1579.6 L419.5,1579.1 L420.4,1578.9 L420.9,1578.8 L422.3,1578.4 L423.0,1578.3 L423.7,1578.1 L425.1,1577.9 L425.6,1577.8 L426.5,1577.7 L427.9,1577.6 L428.3,1577.5 L429.3,1577.5 L430.7,1577.5 L430.9,1577.5 L432.1,1577.5 L433.5,1577.6 L433.5,1577.6 L434.9,1577.7 L436.1,1577.8 L436.3,1577.9 L437.7,1578.1 L438.7,1578.2 L439.1,1578.3 L440.5,1578.6 L441.4,1578.8 L441.9,1578.9 L443.3,1579.3 L444.0,1579.5 L444.7,1579.7 L446.1,1580.1 L446.6,1580.2 L447.5,1580.5 L448.9,1581.0 L449.2,1581.1 L450.3,1581.5 L451.7,1582.0 L451.8,1582.0 L453.2,1582.5 L454.5,1583.0 L454.6,1583.0 L456.0,1583.5 L457.1,1584.0 L457.4,1584.1 L458.8,1584.6 L459.7,1585.0 L460.2,1585.2 L461.6,1585.8 L462.3,1586.1 L463.0,1586.3 L464.4,1586.9 L464.9,1587.1 L465.8,1587.4 L467.2,1588.0 L467.6,1588.1 L468.6,1588.5 L470.0,1589.0 L470.2,1589.1 L471.4,1589.6 L472.8,1590.1 L472.8,1590.1 L474.2,1590.6 L475.4,1591.0 L475.6,1591.1 L477.0,1591.6 L478.0,1591.9 L478.4,1592.1 L479.8,1592.5 L480.7,1592.8 L481.2,1593.0 L482.6,1593.5 L483.3,1593.7 L484.0,1593.9 L485.4,1594.4 L485.9,1594.5 L486.8,1594.8 L488.2,1595.2 L488.5,1595.3 L489.6,1595.7 L491.0,1596.1 L491.1,1596.1 L492.4,1596.5 L493.8,1596.9 L493.8,1596.9 L495.2,1597.3 L496.4,1597.6 L496.6,1597.6 L498.0,1598.0 L499.0,1598.3 L499.4,1598.4 L500.8,1598.7 L501.6,1598.9 L502.3,1599.1 L503.7,1599.4 L504.2,1599.5 L505.1,1599.7 L506.5,1600.0 L506.9,1600.1 L507.9,1600.4 L509.3,1600.7 L509.5,1600.7 L510.7,1600.9 L512.1,1601.2 L512.1,1601.2 L513.5,1601.5 L514.7,1601.7 L514.9,1601.7 L516.3,1602.0 L517.3,1602.2 L517.7,1602.2 L519.1,1602.4 L519.9,1602.6 L520.5,1602.6 L521.9,1602.9 L522.6,1602.9 L523.3,1603.0 L524.7,1603.2 L525.2,1603.3 L526.1,1603.4 L527.5,1603.6 L527.8,1603.6 L528.9,1603.7 L530.3,1603.8 L530.4,1603.8 L531.7,1604.0 L533.0,1604.1 L533.1,1604.1 L534.5,1604.2 L535.7,1604.2 L535.9,1604.3 L537.3,1604.3 L538.3,1604.4 L538.7,1604.4 L540.1,1604.5 L540.9,1604.5 L541.5,1604.5 L542.9,1604.5 L543.5,1604.5 L544.3,1604.6 L545.7,1604.6 L546.1,1604.6 L547.1,1604.6 L548.5,1604.5 L548.8,1604.5 L549.9,1604.5 L551.3,1604.5 L551.4,1604.5 L552.8,1604.5 L554.0,1604.4 L554.2,1604.4 L555.6,1604.4 L556.6,1604.3 L557.0,1604.3 L558.4,1604.2 L559.2,1604.2 L559.8,1604.2 L561.2,1604.1 L561.9,1604.0 L562.6,1604.0 L564.0,1603.9 L564.5,1603.9 L565.4,1603.8 L566.8,1603.7 L567.1,1603.7 L568.2,1603.6 L569.6,1603.5 L569.7,1603.4 L571.0,1603.3 L572.3,1603.2 L572.4,1603.2 L573.8,1603.1 L575.0,1603.0 L575.2,1603.0 L576.6,1602.8 L577.6,1602.8 L578.0,1602.7 L579.4,1602.6 L580.2,1602.5 L580.8,1602.4 L582.2,1602.3 L582.8,1602.3 L583.6,1602.2 L585.0,1602.0 L585.4,1602.0 L586.4,1601.9 L587.8,1601.8 L588.1,1601.8 L589.2,1601.6 L590.6,1601.5 L590.7,1601.5 L592.0,1601.4 L593.3,1601.3 L593.4,1601.2 L594.8,1601.1 L595.9,1601.0 L596.2,1601.0 L597.6,1600.9 L598.5,1600.8 L599.0,1600.8 L600.4,1600.6 L601.2,1600.6 L601.9,1600.5 L603.3,1600.4 L603.8,1600.4 L604.7,1600.3 L606.1,1600.2 L606.4,1600.2 L607.5,1600.1 L608.9,1600.0 L609.0,1600.0 L610.3,1599.9 L611.6,1599.8 L611.7,1599.8 L613.1,1599.7 L614.2,1599.6 L614.5,1599.6 L615.9,1599.5 L616.9,1599.4 L617.3,1599.4 L618.7,1599.3 L619.5,1599.3 L620.1,1599.2 L621.5,1599.1 L622.1,1599.1 L622.9,1599.1 L624.3,1599.0 L624.7,1599.0 L625.7,1598.9 L627.1,1598.8 L627.3,1598.8 L628.5,1598.7 L629.9,1598.7 L630.0,1598.7 L631.3,1598.6 L632.6,1598.5 L632.7,1598.5 L634.1,1598.5 L635.2,1598.4 L635.5,1598.4 L636.9,1598.3 L637.8,1598.3 L638.3,1598.3 L639.7,1598.2 L640.4,1598.2 L641.1,1598.1 L642.5,1598.1 L643.1,1598.0 L643.9,1598.0 L645.3,1598.0 L645.7,1597.9 L646.7,1597.9 L648.1,1597.8 L648.3,1597.8 L649.5,1597.8 L650.9,1597.7 L650.9,1597.7 L652.4,1597.7 L653.5,1597.7 L653.8,1597.6 L655.2,1597.6 L656.2,1597.6 L656.6,1597.6 L658.0,1597.5 L658.8,1597.5 L659.4,1597.5 L660.8,1597.4 L661.4,1597.4 L662.2,1597.4 L663.6,1597.3 L664.0,1597.3 L665.0,1597.3 L666.4,1597.3 L666.6,1597.3 L667.8,1597.2 L669.2,1597.2 L669.3,1597.2 L670.6,1597.2 L671.9,1597.1 L672.0,1597.1 L673.4,1597.1 L674.5,1597.1 L674.8,1597.1 L676.2,1597.0 L677.1,1597.0 L677.6,1597.0 L679.0,1597.0 L679.7,1597.0 L680.4,1597.0 L681.8,1596.9 L682.4,1596.9 L683.2,1596.9 L684.6,1596.9 L685.0,1596.9 L686.0,1596.9 L687.4,1596.9 L687.6,1596.9 L688.8,1596.8 L690.2,1596.8 L690.2,1596.8 L691.6,1596.8 L692.8,1596.8 L693.0,1596.8 L694.4,1596.8 L695.5,1596.8 L695.8,1596.8 L697.2,1596.7 L698.1,1596.7 L698.6,1596.7 L700.0,1596.7 L700.7,1596.7 L701.4,1596.7 L702.9,1596.7 L703.3,1596.7 L704.3,1596.7 L705.7,1596.7 L705.9,1596.7 L707.1,1596.6 L708.5,1596.6 L708.5,1596.6 L709.9,1596.6 L711.2,1596.6 L711.3,1596.6 L712.7,1596.6 L713.8,1596.6 L714.1,1596.6 L715.5,1596.6 L716.4,1596.6 L716.9,1596.6 L718.3,1596.6 L719.0,1596.6 L719.7,1596.6 L721.1,1596.6 L721.6,1596.6 L722.5,1596.6 L723.9,1596.6 L724.3,1596.6 L725.3,1596.6 L726.7,1596.6 L726.9,1596.6 L728.1,1596.6 L729.5,1596.5 L729.5,1596.5 L730.9,1596.5 L732.1,1596.5 L732.3,1596.5 L733.7,1596.5 L734.7,1596.5 L735.1,1596.5 L736.5,1596.5 L737.4,1596.5 L737.9,1596.5 L739.3,1596.5 L740.0,1596.5 L740.7,1596.5 L742.1,1596.5 L742.6,1596.5 L743.5,1596.5 L744.9,1596.5 L745.2,1596.5 L746.3,1596.5 L747.7,1596.5 L747.8,1596.5 L749.1,1596.5 L750.5,1596.5 L750.5,1596.5 L752.0,1596.5 L753.1,1596.5 L753.4,1596.5 L754.8,1596.5 L755.7,1596.5 L756.2,1596.5 L757.6,1596.5 L758.3,1596.5 L759.0,1596.5 L760.4,1596.5 L760.9,1596.5 L761.8,1596.5 L763.2,1596.5 L763.6,1596.5 L764.6,1596.5 L766.0,1596.5 L766.2,1596.5 L767.4,1596.5 L768.8,1596.5 L768.8,1596.5 L770.2,1596.5 L771.4,1596.5 L771.6,1596.5 L773.0,1596.5 L774.0,1596.5 L774.4,1596.5 L775.8,1596.5 L776.7,1596.5 L777.2,1596.5 L778.6,1596.5 L779.3,1596.5 L780.0,1596.5 L781.4,1596.5 L781.9,1596.5 L782.8,1596.5 L784.2,1596.5 L784.5,1596.5 L785.6,1596.5 L787.0,1596.5 L787.1,1596.5 L788.4,1596.5 L789.8,1596.5 L789.8,1596.5 L791.2,1596.5 L792.4,1596.5 L792.6,1596.5 L794.0,1596.5 L795.0,1596.5 L795.4,1596.5 L796.8,1596.5 L797.6,1596.5 L798.2,1596.5 L799.6,1596.4 L800.2,1596.4 L801.0,1596.4 L802.5,1596.4 L802.9,1596.4 L803.9,1596.4 L805.3,1596.4 L805.5,1596.4 L806.7,1596.4 L808.1,1596.4 L808.1,1596.4 L809.5,1596.4 L810.7,1596.4 L810.9,1596.4 L812.3,1596.4 L813.3,1596.4 L813.7,1596.4 L815.1,1596.4 L815.9,1596.4 L816.5,1596.4 L817.9,1596.4 L818.6,1596.4 L819.3,1596.4 L820.7,1596.4 L821.2,1596.4 L822.1,1596.4 L823.5,1596.4 L823.8,1596.4 L824.9,1596.4 L826.3,1596.4 L826.4,1596.4 L827.7,1596.4 L829.0,1596.4 L829.1,1596.4 L830.5,1596.4 L831.7,1596.4 L831.9,1596.4 L833.3,1596.4 L834.3,1596.4 L834.7,1596.4 L836.1,1596.4 L836.9,1596.4 L837.5,1596.4 L838.9,1596.4 L839.5,1596.4 L840.3,1596.4 L841.7,1596.4 L842.1,1596.4 L843.1,1596.4 L844.5,1596.4 L844.8,1596.4 L845.9,1596.4 L847.3,1596.4 L847.4,1596.4 L848.7,1596.4 L850.0,1596.4 L850.1,1596.4 L851.5,1596.4 L852.6,1596.4 L853.0,1596.4 L854.4,1596.4 L855.2,1596.4 L855.8,1596.4 L857.2,1596.4 L857.9,1596.4 L858.6,1596.4 L860.0,1596.4 L860.5,1596.4 L861.4,1596.4 L862.8,1596.4 L863.1,1596.4 L864.2,1596.4 L865.6,1596.4 L865.7,1596.4 L867.0,1596.4 L868.3,1596.4 L868.4,1596.4 L869.8,1596.4 L871.0,1596.4 L871.2,1596.4 L872.6,1596.4 L873.6,1596.4 L874.0,1596.4 L875.4,1596.4 L876.2,1596.4 L876.8,1596.4 L878.8,1596.4 L881.4,1596.4 L884.1,1596.4 L886.7,1596.4 L889.3,1596.4 L891.9,1596.4 L894.5,1596.4 L897.2,1596.4 L899.8,1596.3 L902.4,1596.3 L905.0,1596.3 L907.6,1596.3 L910.2,1596.3 L912.9,1596.3 L915.5,1596.3 L918.1,1596.3 L920.7,1596.3 L923.3,1596.3 L926.0,1596.3 L928.6,1596.3 L931.2,1596.3 L933.8,1596.3 L936.4,1596.3 L939.1,1596.3 L941.7,1596.3 L944.3,1596.3 L946.9,1596.3 L949.5,1596.3 L952.2,1596.3 L954.8,1596.3 L957.4,1596.3 L960.0,1596.3 L962.6,1596.3 L965.3,1596.3 L967.9,1596.3 L970.5,1596.3 L973.1,1596.3 L975.7,1596.3 L978.4,1596.3 L981.0,1596.3 L983.6,1596.3 L986.2,1596.3 L988.8,1596.3 L991.5,1596.3 L994.1,1596.3 L996.7,1596.3 L999.3,1596.3 L1001.9,1596.3 L1004.5,1596.3 L1007.2,1596.3 L1009.8,1596.3 L1012.4,1596.3 L1015.0,1596.3 L1017.6,1596.3 L1020.3,1596.3 L1022.9,1596.3 L1025.5,1596.3 L1028.1,1596.3 L1030.7,1596.3 L1033.4,1596.3 L1036.0,1596.3 L1038.6,1596.3 L1041.2,1596.3 L1043.8,1596.3 L1046.5,1596.3 L1049.1,1596.3 L1051.7,1596.3 L1054.3,1596.3 L1056.9,1596.3 L1059.6,1596.3 L1062.2,1596.3 L1064.8,1596.2 L1067.4,1596.2 L1070.0,1596.2 L1072.7,1596.2 L1075.3,1596.2 L1077.9,1596.2 L1080.5,1596.2 L1083.1,1596.2 L1085.8,1596.2 L1088.4,1596.2 L1091.0,1596.2 L1093.6,1596.2 L1096.2,1596.2 L1098.8,1596.2 L1101.5,1596.2 L1104.1,1596.2 L1106.7,1596.2 L1109.3,1596.2 L1111.9,1596.2 L1114.6,1596.2 L1117.2,1596.2 L1119.8,1596.2 L1122.4,1596.2 L1125.0,1596.2 L1127.7,1596.2 L1130.3,1596.2 L1132.9,1596.2 L1135.5,1596.2 L1138.1,1596.2 L1140.8,1596.2 L1143.4,1596.2 L1146.0,1596.2 L1148.6,1596.2 L1151.2,1596.2 L1153.9,1596.2 L1156.5,1596.2 L1159.1,1596.2 L1161.7,1596.2 L1164.3,1596.2 L1167.0,1596.2 L1169.6,1596.2 L1172.2,1596.2 L1174.8,1596.2 L1177.4,1596.2 L1180.1,1596.2 L1182.7,1596.2 L1185.3,1596.2 L1187.9,1596.2 L1190.5,1596.2 L1193.1,1596.2 L1195.8,1596.2 L1198.4,1596.2 L1201.0,1596.2 L1203.6,1596.2 L1206.2,1596.2 L1208.9,1596.2 L1211.5,1596.2 L1214.1,1596.2 L1216.7,1596.2 L1219.3,1596.2 L1222.0,1596.2 L1224.6,1596.2 L1227.2,1596.2 L1229.8,1596.2 L1232.4,1596.2 L1235.1,1596.2 L1237.7,1596.2 L1240.3,1596.2 L1242.9,1596.2 L1245.5,1596.2 L1248.2,1596.2 L1250.8,1596.2 L1253.4,1596.2 L1256.0,1596.2 L1258.6,1596.2 L1261.3,1596.2 L1263.9,1596.2 L1266.5,1596.2 L1269.1,1596.2 L1271.7,1596.2 L1274.4,1596.2 L1277.0,1596.2 L1279.6,1596.2 L1282.2,1596.2 L1284.8,1596.2 L1287.4,1596.2 L1290.1,1596.2 L1292.7,1596.2 L1295.3,1596.2 L1297.9,1596.2 L1300.5,1596.2 L1303.2,1596.2 L1305.8,1596.2 L1308.4,1596.2 L1311.0,1596.2 L1313.6,1596.2 L1316.3,1596.2 L1318.9,1596.2 L1321.5,1596.2 L1324.1,1596.2 L1326.7,1596.2 L1329.4,1596.2 L1332.0,1596.2 L1334.6,1596.2 L1337.2,1596.2 L1339.8,1596.2 L1342.5,1596.2 L1345.1,1596.2 L1347.7,1596.2 L1350.3,1596.2 L1352.9,1596.2 L1355.6,1596.2 L1358.2,1596.2 L1360.8,1596.2 L1363.4,1596.2 L1366.0,1596.2 L1368.7,1596.2 L1371.3,1596.2 L1373.9,1596.2 L1376.5,1596.2 L1379.1,1596.2 L1381.7,1596.2 L1384.4,1596.2 L1387.0,1596.2 L1389.6,1596.2 L1392.2,1596.2 L1394.8,1596.2 L1397.5,1596.2 L1400.1,1596.2 L1402.7,1596.2 L1405.3,1596.2 L1407.9,1596.2 L1410.6,1596.2 L1413.2,1596.2 L1415.8,1596.2 L1418.4,1596.2 L1421.0,1596.2 L1423.7,1596.2 L1426.3,1596.2 L1428.9,1596.2 L1431.5,1596.2 L1434.1,1596.2 L1436.8,1596.2 L1439.4,1596.2 L1442.0,1596.2 L1444.6,1596.2 L1447.2,1596.2 L1449.9,1596.2 L1452.5,1596.2 L1455.1,1596.2 L1457.7,1596.2 L1460.3,1596.2 L1463.0,1596.2 L1465.6,1596.2 L1468.2,1596.2 L1470.8,1596.2 L1473.4,1596.2 L1476.1,1596.2 L1478.7,1596.2 L1481.3,1596.2 L1483.9,1596.2 L1486.5,1596.2 L1489.1,1596.2 L1491.8,1596.2 L1494.4,1596.2 L1497.0,1596.2 L1499.6,1596.2 L1502.2,1596.2 L1504.9,1596.2 L1507.5,1596.2 L1510.1,1596.2 L1512.7,1596.2 L1515.3,1596.2 L1518.0,1596.2 L1520.6,1596.2 L1523.2,1596.2 L1525.8,1596.2 L1528.4,1596.2 L1531.1,1596.2 L1533.7,1596.2 L1536.3,1596.2 L1538.9,1596.2 L1541.5,1596.2 L1544.2,1596.2 L1546.8,1596.2 L1549.4,1596.2 L1552.0,1596.2 L1554.6,1596.2 L1557.3,1596.2 L1559.9,1596.2 L1562.5,1596.2 L1565.1,1596.2 L1567.7,1596.2 L1570.4,1596.2 L1573.0,1596.2 L1575.6,1596.2 L1578.2,1596.2 L1580.8,1596.2 L1583.4,1596.3 L1586.1,1596.3 L1588.7,1596.3 L1591.3,1596.3 L1593.9,1596.3 L1596.5,1596.3 L1599.2,1596.3 L1601.8,1596.3 L1604.4,1596.3 L1607.0,1596.3 L1609.6,1596.3 L1612.3,1596.3 L1614.9,1596.3 L1617.5,1596.3 L1620.1,1596.3 L1622.7,1596.3 L1625.4,1596.3 L1628.0,1596.3 L1630.6,1596.3 L1633.2,1596.3 L1635.8,1596.3 L1638.5,1596.3 L1641.1,1596.3 L1643.7,1596.3 L1646.3,1596.3 L1648.9,1596.3 L1651.6,1596.3 L1654.2,1596.3 L1656.8,1596.3 L1659.4,1596.3 L1662.0,1596.3 L1664.7,1596.3 L1667.3,1596.3 L1669.9,1596.3 L1672.5,1596.3 L1675.1,1596.3 L1677.7,1596.3 L1680.4,1596.3 L1683.0,1596.3 L1685.6,1596.3 L1688.2,1596.3 L1690.8,1596.3 L1693.5,1596.3 L1696.1,1596.3 L1698.7,1596.3 L1701.3,1596.3 L1703.9,1596.3 L1706.6,1596.3 L1709.2,1596.3 L1711.8,1596.3 L1714.4,1596.3 L1717.0,1596.3 L1719.7,1596.3 L1722.3,1596.3 L1724.9,1596.3 L1727.5,1596.3 L1730.1,1596.3 L1732.8,1596.3 L1735.4,1596.3 L1738.0,1596.3 L1740.6,1596.3 L1743.2,1596.3 L1745.9,1596.3 L1748.5,1596.3 L1751.1,1596.3 L1753.7,1596.3 L1756.3,1596.3 L1759.0,1596.3 L1761.6,1596.3 L1764.2,1596.3 L1766.8,1596.3 L1769.4,1596.3 L1772.0,1596.3 L1774.7,1596.3 L1777.3,1596.3 L1779.9,1596.3 L1782.5,1596.3 L1785.1,1596.3 L1787.8,1596.3 L1790.4,1596.3 L1793.0,1596.3 L1795.6,1596.3 L1798.2,1596.3 L1800.9,1596.3 L1803.5,1596.3 L1806.1,1596.3 L1808.7,1596.3 L1811.3,1596.3 L1814.0,1596.3 L1816.6,1596.3 L1819.2,1596.3 L1821.8,1596.3 L1824.4,1596.3 L1827.1,1596.3 L1829.7,1596.3 L1832.3,1596.3 L1834.9,1596.3 L1837.5,1596.3 L1840.2,1596.3 L1842.8,1596.3 L1845.4,1596.3 L1848.0,1596.3 L1850.6,1596.3 L1853.3,1596.3 L1855.9,1596.3 L1858.5,1596.3 L1861.1,1596.3 L1863.7,1596.3 L1866.3,1596.3 L1869.0,1596.2 L1871.6,1596.2 L1874.2,1596.2 L1876.8,1596.2 L1879.4,1596.2 L1882.1,1596.2 L1884.7,1596.2 L1887.3,1596.2 L1889.9,1596.2 L1892.5,1596.2 L1895.2,1596.2 L1897.8,1596.2 L1900.4,1596.2 L1903.0,1596.2 L1905.6,1596.2 L1908.3,1596.2 L1910.9,1596.2 L1913.5,1596.2 L1916.1,1596.2 L1918.7,1596.2 L1921.4,1596.2 L1924.0,1596.2 L1926.6,1596.2 L1929.2,1596.2 L1931.8,1596.2 L1934.5,1596.2 L1937.1,1596.2 L1939.7,1596.2 L1942.3,1596.2 L1944.9,1596.2 L1947.6,1596.2 L1950.2,1596.2 L1952.8,1596.2 L1955.4,1596.2 L1958.0,1596.2 L1960.6,1596.2 L1963.3,1596.2 L1965.9,1596.2 L1968.5,1596.2 L1971.1,1596.2 L1973.7,1596.2 L1976.4,1596.2 L1979.0,1596.2 L1981.6,1596.2 L1984.2,1596.2 L1986.8,1596.2 L1989.5,1596.2 L1992.1,1596.2 L1994.7,1596.2 L1997.3,1596.2 L1999.9,1596.2 L2002.6,1596.2 L2005.2,1596.2 L2007.8,1596.2" stroke="#0072BD" stroke-width="8.45" fill="none" stroke-linejoin="round" stroke-dasharray="6.15 6.15"/>
<path d="M176.8,1823.6 L178.2,1808.1 L179.4,1802.2 L179.6,1801.4 L181.0,1796.4 L182.0,1793.2 L182.4,1792.2 L183.8,1788.8 L184.7,1787.1 L185.2,1786.1 L186.6,1784.0 L187.3,1783.2 L188.0,1782.4 L189.4,1781.2 L189.9,1780.9 L190.8,1780.4 L192.2,1779.9 L192.5,1779.8 L193.6,1779.6 L195.0,1779.3 L195.1,1779.3 L196.4,1779.1 L197.8,1779.0 L197.8,1779.0 L199.2,1778.8 L200.4,1778.7 L200.6,1778.7 L202.1,1778.6 L203.0,1778.5 L203.5,1778.5 L204.9,1778.4 L205.6,1778.3 L206.3,1778.3 L207.7,1778.2 L208.2,1778.1 L209.1,1778.1 L210.5,1778.0 L210.9,1778.0 L211.9,1777.9 L213.3,1777.8 L213.5,1777.7 L214.7,1777.6 L216.1,1777.5 L216.1,1777.5 L217.5,1777.3 L218.7,1777.2 L218.9,1777.1 L220.3,1776.9 L221.3,1776.7 L221.7,1776.7 L223.1,1776.4 L224.0,1776.2 L224.5,1776.1 L225.9,1775.8 L226.6,1775.6 L227.3,1775.4 L228.7,1775.0 L229.2,1774.8 L230.1,1774.5 L231.5,1774.0 L231.8,1773.9 L232.9,1773.5 L234.3,1772.9 L234.4,1772.9 L235.7,1772.3 L237.0,1771.6 L237.1,1771.6 L238.5,1770.8 L239.7,1770.1 L239.9,1770.0 L241.3,1769.1 L242.3,1768.4 L242.7,1768.1 L244.1,1767.1 L244.9,1766.5 L245.5,1766.0 L246.9,1764.9 L247.5,1764.3 L248.3,1763.6 L249.7,1762.3 L250.1,1761.9 L251.1,1760.9 L252.6,1759.4 L252.8,1759.2 L254.0,1757.9 L255.4,1756.2 L255.4,1756.2 L256.8,1754.5 L258.0,1752.9 L258.2,1752.6 L259.6,1750.7 L260.6,1749.2 L261.0,1748.7 L262.4,1746.6 L263.2,1745.2 L263.8,1744.3 L265.2,1742.0 L265.9,1740.8 L266.6,1739.6 L268.0,1737.0 L268.5,1736.1 L269.4,1734.5 L270.8,1732.0 L271.1,1731.5 L272.2,1729.7 L273.6,1727.5 L273.7,1727.3 L275.0,1725.5 L276.3,1723.5 L276.4,1723.4 L277.8,1721.2 L279.0,1719.3 L279.2,1718.8 L280.6,1716.2 L281.6,1714.2 L282.0,1713.3 L283.4,1710.3 L284.2,1708.7 L284.8,1707.4 L286.2,1704.5 L286.8,1703.3 L287.6,1701.6 L289.0,1698.8 L289.4,1698.0 L290.4,1696.1 L291.8,1693.5 L292.1,1693.0 L293.2,1690.9 L294.6,1688.3 L294.7,1688.3 L296.0,1685.9 L297.3,1683.8 L297.4,1683.5 L298.8,1681.2 L299.9,1679.5 L300.2,1679.0 L301.6,1676.8 L302.5,1675.5 L303.1,1674.8 L304.5,1672.8 L305.2,1671.8 L305.9,1670.9 L307.3,1669.1 L307.8,1668.5 L308.7,1667.4 L310.1,1665.7 L310.4,1665.4 L311.5,1664.2 L312.9,1662.8 L313.0,1662.6 L314.3,1661.4 L315.6,1660.2 L315.7,1660.2 L317.1,1659.0 L318.3,1658.1 L318.5,1657.9 L319.9,1656.9 L320.9,1656.3 L321.3,1656.0 L322.7,1655.2 L323.5,1654.8 L324.1,1654.5 L325.5,1653.8 L326.1,1653.6 L326.9,1653.3 L328.3,1652.8 L328.7,1652.7 L329.7,1652.4 L331.1,1652.1 L331.3,1652.1 L332.5,1651.9 L333.9,1651.8 L334.0,1651.8 L335.3,1651.7 L336.6,1651.8 L336.7,1651.8 L338.1,1651.9 L339.2,1652.0 L339.5,1652.1 L340.9,1652.4 L341.8,1652.6 L342.3,1652.7 L343.7,1653.2 L344.4,1653.4 L345.1,1653.7 L346.5,1654.3 L347.1,1654.6 L347.9,1655.0 L349.3,1655.7 L349.7,1655.9 L350.7,1656.6 L352.2,1657.5 L352.3,1657.6 L353.6,1658.5 L354.9,1659.5 L355.0,1659.5 L356.4,1660.7 L357.5,1661.7 L357.8,1661.9 L359.2,1663.1 L360.2,1664.1 L360.6,1664.5 L362.0,1665.9 L362.8,1666.7 L363.4,1667.3 L364.8,1668.8 L365.4,1669.5 L366.2,1670.3 L367.6,1671.9 L368.0,1672.4 L369.0,1673.5 L370.4,1675.2 L370.6,1675.5 L371.8,1676.9 L373.2,1678.6 L373.3,1678.7 L374.6,1680.4 L375.9,1682.0 L376.0,1682.1 L377.4,1683.9 L378.5,1685.4 L378.8,1685.8 L380.2,1687.6 L381.1,1688.8 L381.6,1689.5 L383.0,1691.3 L383.7,1692.3 L384.4,1693.2 L385.8,1695.0 L386.4,1695.8 L387.2,1696.9 L388.6,1698.8 L389.0,1699.2 L390.0,1700.6 L391.4,1702.5 L391.6,1702.7 L392.8,1704.3 L394.2,1706.2 L394.2,1706.2 L395.6,1708.0 L396.8,1709.6 L397.0,1709.9 L398.4,1711.7 L399.5,1713.0 L399.8,1713.6 L401.2,1715.4 L402.1,1716.5 L402.7,1717.2 L404.1,1719.0 L404.7,1719.8 L405.5,1720.8 L406.9,1722.6 L407.3,1723.2 L408.3,1724.4 L409.7,1726.2 L409.9,1726.6 L411.1,1728.0 L412.5,1729.8 L412.6,1729.9 L413.9,1731.5 L415.2,1733.1 L415.3,1733.3 L416.7,1735.0 L417.8,1736.3 L418.1,1736.7 L419.5,1738.4 L420.4,1739.4 L420.9,1740.0 L422.3,1741.6 L423.0,1742.5 L423.7,1743.2 L425.1,1744.8 L425.6,1745.4 L426.5,1746.3 L427.9,1747.8 L428.3,1748.2 L429.3,1749.3 L430.7,1750.7 L430.9,1750.9 L432.1,1752.1 L433.5,1753.5 L433.5,1753.5 L434.9,1754.8 L436.1,1755.8 L436.3,1756.0 L437.7,1757.2 L438.7,1758.1 L439.1,1758.4 L440.5,1759.5 L441.4,1760.1 L441.9,1760.5 L443.3,1761.5 L444.0,1762.0 L444.7,1762.5 L446.1,1763.3 L446.6,1763.6 L447.5,1764.2 L448.9,1765.0 L449.2,1765.1 L450.3,1765.7 L451.7,1766.4 L451.8,1766.4 L453.2,1767.0 L454.5,1767.6 L454.6,1767.6 L456.0,1768.2 L457.1,1768.6 L457.4,1768.7 L458.8,1769.2 L459.7,1769.5 L460.2,1769.6 L461.6,1770.0 L462.3,1770.2 L463.0,1770.4 L464.4,1770.7 L464.9,1770.8 L465.8,1771.0 L467.2,1771.2 L467.6,1771.3 L468.6,1771.4 L470.0,1771.6 L470.2,1771.7 L471.4,1771.8 L472.8,1771.9 L472.8,1771.9 L474.2,1772.0 L475.4,1772.1 L475.6,1772.1 L477.0,1772.2 L478.0,1772.2 L478.4,1772.2 L479.8,1772.2 L480.7,1772.2 L481.2,1772.2 L482.6,1772.2 L483.3,1772.2 L484.0,1772.1 L485.4,1772.1 L485.9,1772.0 L486.8,1772.0 L488.2,1771.9 L488.5,1771.9 L489.6,1771.8 L491.0,1771.7 L491.1,1771.7 L492.4,1771.5 L493.8,1771.4 L493.8,1771.4 L495.2,1771.2 L496.4,1771.1 L496.6,1771.1 L498.0,1770.9 L499.0,1770.8 L499.4,1770.7 L500.8,1770.5 L501.6,1770.4 L502.3,1770.3 L503.7,1770.1 L504.2,1770.0 L505.1,1769.8 L506.5,1769.6 L506.9,1769.5 L507.9,1769.4 L509.3,1769.1 L509.5,1769.1 L510.7,1768.9 L512.1,1768.6 L512.1,1768.6 L513.5,1768.3 L514.7,1768.1 L514.9,1768.1 L516.3,1767.8 L517.3,1767.6 L517.7,1767.5 L519.1,1767.2 L519.9,1767.1 L520.5,1767.0 L521.9,1766.7 L522.6,1766.5 L523.3,1766.4 L524.7,1766.1 L525.2,1766.0 L526.1,1765.8 L527.5,1765.5 L527.8,1765.5 L528.9,1765.2 L530.3,1764.9 L530.4,1764.9 L531.7,1764.6 L533.0,1764.4 L533.1,1764.4 L534.5,1764.1 L535.7,1763.8 L535.9,1763.8 L537.3,1763.5 L538.3,1763.3 L538.7,1763.2 L540.1,1763.0 L540.9,1762.8 L541.5,1762.7 L542.9,1762.5 L543.5,1762.3 L544.3,1762.2 L545.7,1762.0 L546.1,1761.9 L547.1,1761.7 L548.5,1761.5 L548.8,1761.4 L549.9,1761.2 L551.3,1761.0 L551.4,1761.0 L552.8,1760.8 L554.0,1760.6 L554.2,1760.6 L555.6,1760.4 L556.6,1760.2 L557.0,1760.2 L558.4,1760.0 L559.2,1759.9 L559.8,1759.8 L561.2,1759.6 L561.9,1759.5 L562.6,1759.4 L564.0,1759.3 L564.5,1759.2 L565.4,1759.1 L566.8,1758.9 L567.1,1758.9 L568.2,1758.8 L569.6,1758.6 L569.7,1758.6 L571.0,1758.5 L572.3,1758.4 L572.4,1758.4 L573.8,1758.2 L575.0,1758.1 L575.2,1758.1 L576.6,1758.0 L577.6,1757.9 L578.0,1757.9 L579.4,1757.7 L580.2,1757.7 L580.8,1757.6 L582.2,1757.5 L582.8,1757.5 L583.6,1757.5 L585.0,1757.4 L585.4,1757.3 L586.4,1757.3 L587.8,1757.2 L588.1,1757.2 L589.2,1757.1 L590.6,1757.1 L590.7,1757.1 L592.0,1757.0 L593.3,1757.0 L593.4,1757.0 L594.8,1756.9 L595.9,1756.9 L596.2,1756.9 L597.6,1756.8 L598.5,1756.8 L599.0,1756.8 L600.4,1756.8 L601.2,1756.8 L601.9,1756.8 L603.3,1756.7 L603.8,1756.7 L604.7,1756.7 L606.1,1756.7 L606.4,1756.7 L607.5,1756.7 L608.9,1756.7 L609.0,1756.7 L610.3,1756.7 L611.6,1756.7 L611.7,1756.7 L613.1,1756.8 L614.2,1756.8 L614.5,1756.8 L615.9,1756.8 L616.9,1756.8 L617.3,1756.8 L618.7,1756.8 L619.5,1756.9 L620.1,1756.9 L621.5,1756.9 L622.1,1756.9 L622.9,1757.0 L624.3,1757.0 L624.7,1757.0 L625.7,1757.0 L627.1,1757.1 L627.3,1757.1 L628.5,1757.1 L629.9,1757.2 L630.0,1757.2 L631.3,1757.2 L632.6,1757.3 L632.7,1757.3 L634.1,1757.4 L635.2,1757.4 L635.5,1757.4 L636.9,1757.5 L637.8,1757.5 L638.3,1757.6 L639.7,1757.6 L640.4,1757.7 L641.1,1757.7 L642.5,1757.8 L643.1,1757.8 L643.9,1757.8 L645.3,1757.9 L645.7,1757.9 L646.7,1758.0 L648.1,1758.0 L648.3,1758.0 L649.5,1758.1 L650.9,1758.2 L650.9,1758.2 L652.4,1758.3 L653.5,1758.3 L653.8,1758.3 L655.2,1758.4 L656.2,1758.4 L656.6,1758.5 L658.0,1758.5 L658.8,1758.6 L659.4,1758.6 L660.8,1758.7 L661.4,1758.7 L662.2,1758.8 L663.6,1758.8 L664.0,1758.8 L665.0,1758.9 L666.4,1759.0 L666.6,1759.0 L667.8,1759.0 L669.2,1759.1 L669.3,1759.1 L670.6,1759.1 L671.9,1759.2 L672.0,1759.2 L673.4,1759.3 L674.5,1759.3 L674.8,1759.3 L676.2,1759.4 L677.1,1759.4 L677.6,1759.4 L679.0,1759.5 L679.7,1759.5 L680.4,1759.5 L681.8,1759.6 L682.4,1759.6 L683.2,1759.6 L684.6,1759.7 L685.0,1759.7 L686.0,1759.7 L687.4,1759.8 L687.6,1759.8 L688.8,1759.8 L690.2,1759.8 L690.2,1759.8 L691.6,1759.9 L692.8,1759.9 L693.0,1759.9 L694.4,1759.9 L695.5,1760.0 L695.8,1760.0 L697.2,1760.0 L698.1,1760.0 L698.6,1760.0 L700.0,1760.1 L700.7,1760.1 L701.4,1760.1 L702.9,1760.1 L703.3,1760.1 L704.3,1760.2 L705.7,1760.2 L705.9,1760.2 L707.1,1760.2 L708.5,1760.2 L708.5,1760.2 L709.9,1760.3 L711.2,1760.3 L711.3,1760.3 L712.7,1760.3 L713.8,1760.3 L714.1,1760.3 L715.5,1760.3 L716.4,1760.3 L716.9,1760.3 L718.3,1760.4 L719.0,1760.4 L719.7,1760.4 L721.1,1760.4 L721.6,1760.4 L722.5,1760.4 L723.9,1760.4 L724.3,1760.4 L725.3,1760.4 L726.7,1760.4 L726.9,1760.4 L728.1,1760.5 L729.5,1760.5 L729.5,1760.5 L730.9,1760.5 L732.1,1760.5 L732.3,1760.5 L733.7,1760.5 L734.7,1760.5 L735.1,1760.5 L736.5,1760.5 L737.4,1760.5 L737.9,1760.5 L739.3,1760.5 L740.0,1760.5 L740.7,1760.5 L742.1,1760.5 L742.6,1760.5 L743.5,1760.5 L744.9,1760.5 L745.2,1760.5 L746.3,1760.6 L747.7,1760.6 L747.8,1760.6 L749.1,1760.6 L750.5,1760.6 L750.5,1760.6 L752.0,1760.6 L753.1,1760.6 L753.4,1760.6 L754.8,1760.6 L755.7,1760.6 L756.2,1760.6 L757.6,1760.6 L758.3,1760.6 L759.0,1760.6 L760.4,1760.6 L760.9,1760.6 L761.8,1760.6 L763.2,1760.6 L763.6,1760.6 L764.6,1760.6 L766.0,1760.6 L766.2,1760.6 L767.4,1760.6 L768.8,1760.6 L768.8,1760.6 L770.2,1760.6 L771.4,1760.6 L771.6,1760.6 L773.0,1760.6 L774.0,1760.6 L774.4,1760.6 L775.8,1760.6 L776.7,1760.6 L777.2,1760.6 L778.6,1760.6 L779.3,1760.6 L780.0,1760.6 L781.4,1760.6 L781.9,1760.6 L782.8,1760.6 L784.2,1760.7 L784.5,1760.7 L785.6,1760.7 L787.0,1760.7 L787.1,1760.7 L788.4,1760.7 L789.8,1760.7 L789.8,1760.7 L791.2,1760.7 L792.4,1760.7 L792.6,1760.7 L794.0,1760.7 L795.0,1760.7 L795.4,1760.7 L796.8,1760.7 L797.6,1760.7 L798.2,1760.7 L799.6,1760.7 L800.2,1760.7 L801.0,1760.7 L802.5,1760.7 L802.9,1760.7 L803.9,1760.7 L805.3,1760.7 L805.5,1760.7 L806.7,1760.7 L808.1,1760.7 L808.1,1760.7 L809.5,1760.7 L810.7,1760.7 L810.9,1760.7 L812.3,1760.7 L813.3,1760.7 L813.7,1760.7 L815.1,1760.7 L815.9,1760.7 L816.5,1760.7 L817.9,1760.7 L818.6,1760.7 L819.3,1760.7 L820.7,1760.7 L821.2,1760.7 L822.1,1760.7 L823.5,1760.7 L823.8,1760.7 L824.9,1760.7 L826.3,1760.7 L826.4,1760.7 L827.7,1760.7 L829.0,1760.7 L829.1,1760.7 L830.5,1760.7 L831.7,1760.7 L831.9,1760.8 L833.3,1760.8 L834.3,1760.8 L834.7,1760.8 L836.1,1760.8 L836.9,1760.8 L837.5,1760.8 L838.9,1760.8 L839.5,1760.8 L840.3,1760.8 L841.7,1760.8 L842.1,1760.8 L843.1,1760.8 L844.5,1760.8 L844.8,1760.8 L845.9,1760.8 L847.3,1760.8 L847.4,1760.8 L848.7,1760.8 L850.0,1760.8 L850.1,1760.8 L851.5,1760.8 L852.6,1760.8 L853.0,1760.8 L854.4,1760.8 L855.2,1760.8 L855.8,1760.8 L857.2,1760.8 L857.9,1760.8 L858.6,1760.8 L860.0,1760.8 L860.5,1760.8 L861.4,1760.8 L862.8,1760.8 L863.1,1760.8 L864.2,1760.8 L865.6,1760.8 L865.7,1760.8 L867.0,1760.8 L868.3,1760.8 L868.4,1760.8 L869.8,1760.8 L871.0,1760.8 L871.2,1760.8 L872.6,1760.8 L873.6,1760.8 L874.0,1760.8 L875.4,1760.8 L876.2,1760.8 L876.8,1760.8 L878.8,1760.8 L881.4,1760.8 L884.1,1760.8 L886.7,1760.8 L889.3,1760.8 L891.9,1760.8 L894.5,1760.8 L897.2,1760.8 L899.8,1760.8 L902.4,1760.8 L905.0,1760.9 L907.6,1760.9 L910.2,1760.9 L912.9,1760.9 L915.5,1760.9 L918.1,1760.9 L920.7,1760.9 L923.3,1760.9 L926.0,1760.9 L928.6,1760.9 L931.2,1760.9 L933.8,1760.9 L936.4,1760.9 L939.1,1760.9 L941.7,1760.9 L944.3,1760.9 L946.9,1760.9 L949.5,1760.9 L952.2,1760.9 L954.8,1760.9 L957.4,1760.9 L960.0,1760.9 L962.6,1760.9 L965.3,1760.9 L967.9,1760.9 L970.5,1760.9 L973.1,1760.9 L975.7,1760.9 L978.4,1760.9 L981.0,1760.9 L983.6,1760.9 L986.2,1760.9 L988.8,1760.9 L991.5,1760.9 L994.1,1760.9 L996.7,1760.9 L999.3,1760.9 L1001.9,1760.9 L1004.5,1760.9 L1007.2,1760.9 L1009.8,1760.9 L1012.4,1760.9 L1015.0,1760.9 L1017.6,1760.9 L1020.3,1760.9 L1022.9,1760.9 L1025.5,1760.9 L1028.1,1760.9 L1030.7,1760.9 L1033.4,1760.9 L1036.0,1760.9 L1038.6,1760.9 L1041.2,1760.9 L1043.8,1760.9 L1046.5,1760.9 L1049.1,1760.9 L1051.7,1760.9 L1054.3,1760.9 L1056.9,1760.9 L1059.6,1760.9 L1062.2,1760.9 L1064.8,1760.9 L1067.4,1760.9 L1070.0,1760.9 L1072.7,1760.9 L1075.3,1760.9 L1077.9,1760.9 L1080.5,1760.9 L1083.1,1760.9 L1085.8,1760.9 L1088.4,1760.9 L1091.0,1760.9 L1093.6,1760.9 L1096.2,1760.9 L1098.8,1760.9 L1101.5,1760.9 L1104.1,1760.9 L1106.7,1760.9 L1109.3,1760.9 L1111.9,1760.9 L1114.6,1760.9 L1117.2,1760.9 L1119.8,1760.9 L1122.4,1760.9 L1125.0,1760.9 L1127.7,1760.9 L1130.3,1760.9 L1132.9,1760.9 L1135.5,1760.9 L1138.1,1760.9 L1140.8,1760.9 L1143.4,1760.9 L1146.0,1760.9 L1148.6,1760.9 L1151.2,1760.9 L1153.9,1760.9 L1156.5,1760.9 L1159.1,1760.9 L1161.7,1760.8 L1164.3,1760.8 L1167.0,1760.8 L1169.6,1760.8 L1172.2,1760.8 L1174.8,1760.8 L1177.4,1760.8 L1180.1,1760.8 L1182.7,1760.8 L1185.3,1760.8 L1187.9,1760.8 L1190.5,1760.8 L1193.1,1760.8 L1195.8,1760.8 L1198.4,1760.8 L1201.0,1760.8 L1203.6,1760.8 L1206.2,1760.8 L1208.9,1760.8 L1211.5,1760.8 L1214.1,1760.8 L1216.7,1760.8 L1219.3,1760.8 L1222.0,1760.8 L1224.6,1760.8 L1227.2,1760.8 L1229.8,1760.8 L1232.4,1760.8 L1235.1,1760.8 L1237.7,1760.8 L1240.3,1760.8 L1242.9,1760.8 L1245.5,1760.8 L1248.2,1760.8 L1250.8,1760.8 L1253.4,1760.8 L1256.0,1760.8 L1258.6,1760.7 L1261.3,1760.7 L1263.9,1760.7 L1266.5,1760.7 L1269.1,1760.7 L1271.7,1760.7 L1274.4,1760.7 L1277.0,1760.7 L1279.6,1760.7 L1282.2,1760.7 L1284.8,1760.7 L1287.4,1760.7 L1290.1,1760.7 L1292.7,1760.7 L1295.3,1760.7 L1297.9,1760.7 L1300.5,1760.7 L1303.2,1760.7 L1305.8,1760.7 L1308.4,1760.7 L1311.0,1760.7 L1313.6,1760.7 L1316.3,1760.7 L1318.9,1760.7 L1321.5,1760.7 L1324.1,1760.7 L1326.7,1760.7 L1329.4,1760.7 L1332.0,1760.7 L1334.6,1760.7 L1337.2,1760.7 L1339.8,1760.6 L1342.5,1760.6 L1345.1,1760.6 L1347.7,1760.6 L1350.3,1760.6 L1352.9,1760.6 L1355.6,1760.6 L1358.2,1760.6 L1360.8,1760.6 L1363.4,1760.6 L1366.0,1760.6 L1368.7,1760.6 L1371.3,1760.6 L1373.9,1760.6 L1376.5,1760.6 L1379.1,1760.6 L1381.7,1760.6 L1384.4,1760.6 L1387.0,1760.6 L1389.6,1760.6 L1392.2,1760.6 L1394.8,1760.6 L1397.5,1760.6 L1400.1,1760.6 L1402.7,1760.6 L1405.3,1760.6 L1407.9,1760.6 L1410.6,1760.6 L1413.2,1760.5 L1415.8,1760.5 L1418.4,1760.5 L1421.0,1760.5 L1423.7,1760.5 L1426.3,1760.5 L1428.9,1760.5 L1431.5,1760.5 L1434.1,1760.5 L1436.8,1760.5 L1439.4,1760.5 L1442.0,1760.5 L1444.6,1760.5 L1447.2,1760.5 L1449.9,1760.5 L1452.5,1760.5 L1455.1,1760.5 L1457.7,1760.5 L1460.3,1760.5 L1463.0,1760.5 L1465.6,1760.5 L1468.2,1760.5 L1470.8,1760.5 L1473.4,1760.5 L1476.1,1760.5 L1478.7,1760.5 L1481.3,1760.5 L1483.9,1760.5 L1486.5,1760.4 L1489.1,1760.4 L1491.8,1760.4 L1494.4,1760.4 L1497.0,1760.4 L1499.6,1760.4 L1502.2,1760.4 L1504.9,1760.4 L1507.5,1760.4 L1510.1,1760.4 L1512.7,1760.4 L1515.3,1760.4 L1518.0,1760.4 L1520.6,1760.4 L1523.2,1760.4 L1525.8,1760.4 L1528.4,1760.4 L1531.1,1760.4 L1533.7,1760.4 L1536.3,1760.4 L1538.9,1760.4 L1541.5,1760.4 L1544.2,1760.4 L1546.8,1760.4 L1549.4,1760.4 L1552.0,1760.4 L1554.6,1760.4 L1557.3,1760.4 L1559.9,1760.4 L1562.5,1760.4 L1565.1,1760.4 L1567.7,1760.4 L1570.4,1760.4 L1573.0,1760.3 L1575.6,1760.3 L1578.2,1760.3 L1580.8,1760.3 L1583.4,1760.3 L1586.1,1760.3 L1588.7,1760.3 L1591.3,1760.3 L1593.9,1760.3 L1596.5,1760.3 L1599.2,1760.3 L1601.8,1760.3 L1604.4,1760.3 L1607.0,1760.3 L1609.6,1760.3 L1612.3,1760.3 L1614.9,1760.3 L1617.5,1760.3 L1620.1,1760.3 L1622.7,1760.3 L1625.4,1760.3 L1628.0,1760.3 L1630.6,1760.3 L1633.2,1760.3 L1635.8,1760.3 L1638.5,1760.3 L1641.1,1760.3 L1643.7,1760.3 L1646.3,1760.3 L1648.9,1760.3 L1651.6,1760.3 L1654.2,1760.3 L1656.8,1760.3 L1659.4,1760.3 L1662.0,1760.3 L1664.7,1760.3 L1667.3,1760.3 L1669.9,1760.3 L1672.5,1760.3 L1675.1,1760.3 L1677.7,1760.3 L1680.4,1760.3 L1683.0,1760.3 L1685.6,1760.3 L1688.2,1760.3 L1690.8,1760.3 L1693.5,1760.3 L1696.1,1760.3 L1698.7,1760.3 L1701.3,1760.3 L1703.9,1760.2 L1706.6,1760.2 L1709.2,1760.2 L1711.8,1760.2 L1714.4,1760.2 L1717.0,1760.2 L1719.7,1760.2 L1722.3,1760.2 L1724.9,1760.2 L1727.5,1760.2 L1730.1,1760.2 L1732.8,1760.2 L1735.4,1760.2 L1738.0,1760.2 L1740.6,1760.2 L1743.2,1760.2 L1745.9,1760.2 L1748.5,1760.2 L1751.1,1760.2 L1753.7,1760.2 L1756.3,1760.2 L1759.0,1760.2 L1761.6,1760.2 L1764.2,1760.2 L1766.8,1760.2 L1769.4,1760.2 L1772.0,1760.2 L1774.7,1760.2 L1777.3,1760.2 L1779.9,1760.2 L1782.5,1760.2 L1785.1,1760.2 L1787.8,1760.2 L1790.4,1760.2 L1793.0,1760.2 L1795.6,1760.2 L1798.2,1760.2 L1800.9,1760.2 L1803.5,1760.2 L1806.1,1760.2 L1808.7,1760.2 L1811.3,1760.2 L1814.0,1760.2 L1816.6,1760.2 L1819.2,1760.2 L1821.8,1760.3 L1824.4,1760.3 L1827.1,1760.3 L1829.7,1760.3 L1832.3,1760.3 L1834.9,1760.3 L1837.5,1760.3 L1840.2,1760.3 L1842.8,1760.3 L1845.4,1760.3 L1848.0,1760.3 L1850.6,1760.3 L1853.3,1760.3 L1855.9,1760.3 L1858.5,1760.3 L1861.1,1760.3 L1863.7,1760.3 L1866.3,1760.3 L1869.0,1760.3 L1871.6,1760.3 L1874.2,1760.3 L1876.8,1760.3 L1879.4,1760.3 L1882.1,1760.3 L1884.7,1760.3 L1887.3,1760.3 L1889.9,1760.3 L1892.5,1760.3 L1895.2,1760.3 L1897.8,1760.3 L1900.4,1760.3 L1903.0,1760.3 L1905.6,1760.3 L1908.3,1760.3 L1910.9,1760.3 L1913.5,1760.3 L1916.1,1760.3 L1918.7,1760.3 L1921.4,1760.3 L1924.0,1760.3 L1926.6,1760.3 L1929.2,1760.4 L1931.8,1760.4 L1934.5,1760.4 L1937.1,1760.4 L1939.7,1760.4 L1942.3,1760.4 L1944.9,1760.4 L1947.6,1760.4 L1950.2,1760.4 L1952.8,1760.4 L1955.4,1760.4 L1958.0,1760.4 L1960.6,1760.4 L1963.3,1760.4 L1965.9,1760.4 L1968.5,1760.4 L1971.1,1760.4 L1973.7,1760.4 L1976.4,1760.4 L1979.0,1760.4 L1981.6,1760.4 L1984.2,1760.5 L1986.8,1760.5 L1989.5,1760.5 L1992.1,1760.5 L1994.7,1760.5 L1997.3,1760.5 L1999.9,1760.5 L2002.6,1760.5 L2005.2,1760.5 L2007.8,1760.5" stroke="#D95319" stroke-width="8.45" fill="none" stroke-linejoin="round" stroke-dasharray="6.15 6.15"/>
<path d="M176.8,1793.2 L178.2,1790.3 L179.4,1788.5 L179.6,1788.3 L181.0,1786.8 L182.0,1785.9 L182.4,1785.5 L183.8,1784.0 L184.7,1782.8 L185.2,1781.9 L186.6,1778.8 L187.3,1777.1 L188.0,1775.0 L189.4,1771.1 L189.9,1769.8 L190.8,1767.4 L192.2,1764.0 L192.5,1763.3 L193.6,1760.6 L195.0,1757.3 L195.1,1757.0 L196.4,1753.9 L197.8,1750.8 L197.8,1750.6 L199.2,1747.6 L200.4,1745.3 L200.6,1744.8 L202.1,1742.2 L203.0,1740.5 L203.5,1739.8 L204.9,1737.5 L205.6,1736.3 L206.3,1735.3 L207.7,1733.2 L208.2,1732.4 L209.1,1731.2 L210.5,1729.2 L210.9,1728.7 L211.9,1727.3 L213.3,1725.5 L213.5,1725.3 L214.7,1723.8 L216.1,1722.0 L216.1,1722.0 L217.5,1720.4 L218.7,1719.0 L218.9,1718.8 L220.3,1717.2 L221.3,1716.1 L221.7,1715.7 L223.1,1714.2 L224.0,1713.3 L224.5,1712.8 L225.9,1711.4 L226.6,1710.7 L227.3,1710.0 L228.7,1708.7 L229.2,1708.2 L230.1,1707.4 L231.5,1706.1 L231.8,1705.9 L232.9,1704.9 L234.3,1703.8 L234.4,1703.7 L235.7,1702.6 L237.0,1701.6 L237.1,1701.5 L238.5,1700.5 L239.7,1699.7 L239.9,1699.5 L241.3,1698.5 L242.3,1697.8 L242.7,1697.5 L244.1,1696.6 L244.9,1696.1 L245.5,1695.7 L246.9,1694.9 L247.5,1694.5 L248.3,1694.1 L249.7,1693.3 L250.1,1693.1 L251.1,1692.5 L252.6,1691.8 L252.8,1691.7 L254.0,1691.1 L255.4,1690.5 L255.4,1690.5 L256.8,1689.9 L258.0,1689.3 L258.2,1689.3 L259.6,1688.7 L260.6,1688.3 L261.0,1688.2 L262.4,1687.7 L263.2,1687.4 L263.8,1687.3 L265.2,1686.9 L265.9,1686.7 L266.6,1686.6 L268.0,1686.4 L268.5,1686.3 L269.4,1686.2 L270.8,1686.1 L271.1,1686.1 L272.2,1686.1 L273.6,1686.3 L273.7,1686.3 L275.0,1686.5 L276.3,1686.8 L276.4,1686.8 L277.8,1687.3 L279.0,1687.8 L279.2,1687.9 L280.6,1688.6 L281.6,1689.2 L282.0,1689.5 L283.4,1690.5 L284.2,1691.2 L284.8,1691.7 L286.2,1693.0 L286.8,1693.6 L287.6,1694.4 L289.0,1695.8 L289.4,1696.3 L290.4,1697.4 L291.8,1699.0 L292.1,1699.3 L293.2,1700.7 L294.6,1702.4 L294.7,1702.4 L296.0,1704.2 L297.3,1705.8 L297.4,1706.0 L298.8,1707.9 L299.9,1709.3 L300.2,1709.8 L301.6,1711.7 L302.5,1713.0 L303.1,1713.7 L304.5,1715.7 L305.2,1716.8 L305.9,1717.8 L307.3,1719.9 L307.8,1720.6 L308.7,1722.0 L310.1,1724.1 L310.4,1724.6 L311.5,1726.2 L312.9,1728.4 L313.0,1728.6 L314.3,1730.5 L315.6,1732.6 L315.7,1732.7 L317.1,1734.9 L318.3,1736.7 L318.5,1737.0 L319.9,1739.2 L320.9,1740.7 L321.3,1741.4 L322.7,1743.6 L323.5,1744.8 L324.1,1745.7 L325.5,1747.8 L326.1,1748.8 L326.9,1750.0 L328.3,1752.1 L328.7,1752.7 L329.7,1754.1 L331.1,1756.2 L331.3,1756.5 L332.5,1758.2 L333.9,1760.2 L334.0,1760.3 L335.3,1762.2 L336.6,1763.9 L336.7,1764.1 L338.1,1765.9 L339.2,1767.4 L339.5,1767.8 L340.9,1769.6 L341.8,1770.7 L342.3,1771.3 L343.7,1773.0 L344.4,1773.8 L345.1,1774.6 L346.5,1776.2 L347.1,1776.7 L347.9,1777.7 L349.3,1779.2 L349.7,1779.5 L350.7,1780.6 L352.2,1781.9 L352.3,1782.1 L353.6,1783.2 L354.9,1784.5 L355.0,1784.5 L356.4,1785.7 L357.5,1786.6 L357.8,1786.8 L359.2,1787.9 L360.2,1788.6 L360.6,1788.9 L362.0,1789.8 L362.8,1790.4 L363.4,1790.7 L364.8,1791.5 L365.4,1791.9 L366.2,1792.3 L367.6,1793.0 L368.0,1793.2 L369.0,1793.7 L370.4,1794.2 L370.6,1794.3 L371.8,1794.7 L373.2,1795.2 L373.3,1795.2 L374.6,1795.6 L375.9,1795.8 L376.0,1795.9 L377.4,1796.1 L378.5,1796.2 L378.8,1796.3 L380.2,1796.4 L381.1,1796.4 L381.6,1796.4 L383.0,1796.4 L383.7,1796.4 L384.4,1796.3 L385.8,1796.1 L386.4,1796.1 L387.2,1795.9 L388.6,1795.7 L389.0,1795.6 L390.0,1795.3 L391.4,1794.9 L391.6,1794.9 L392.8,1794.5 L394.2,1794.0 L394.2,1794.0 L395.6,1793.5 L396.8,1793.0 L397.0,1792.9 L398.4,1792.3 L399.5,1791.8 L399.8,1791.6 L401.2,1790.8 L402.1,1790.4 L402.7,1790.1 L404.1,1789.3 L404.7,1788.9 L405.5,1788.4 L406.9,1787.6 L407.3,1787.3 L408.3,1786.6 L409.7,1785.7 L409.9,1785.5 L411.1,1784.7 L412.5,1783.7 L412.6,1783.7 L413.9,1782.7 L415.2,1781.7 L415.3,1781.6 L416.7,1780.5 L417.8,1779.7 L418.1,1779.4 L419.5,1778.3 L420.4,1777.5 L420.9,1777.1 L422.3,1776.0 L423.0,1775.3 L423.7,1774.8 L425.1,1773.5 L425.6,1773.1 L426.5,1772.3 L427.9,1771.1 L428.3,1770.8 L429.3,1769.8 L430.7,1768.6 L430.9,1768.4 L432.1,1767.3 L433.5,1766.0 L433.5,1766.0 L434.9,1764.7 L436.1,1763.6 L436.3,1763.4 L437.7,1762.1 L438.7,1761.1 L439.1,1760.8 L440.5,1759.4 L441.4,1758.6 L441.9,1758.1 L443.3,1756.8 L444.0,1756.2 L444.7,1755.5 L446.1,1754.2 L446.6,1753.7 L447.5,1752.8 L448.9,1751.5 L449.2,1751.3 L450.3,1750.2 L451.7,1748.9 L451.8,1748.9 L453.2,1747.6 L454.5,1746.5 L454.6,1746.4 L456.0,1745.1 L457.1,1744.1 L457.4,1743.8 L458.8,1742.6 L459.7,1741.8 L460.2,1741.3 L461.6,1740.1 L462.3,1739.5 L463.0,1738.9 L464.4,1737.7 L464.9,1737.2 L465.8,1736.5 L467.2,1735.3 L467.6,1735.0 L468.6,1734.2 L470.0,1733.0 L470.2,1732.9 L471.4,1731.9 L472.8,1730.8 L472.8,1730.8 L474.2,1729.7 L475.4,1728.8 L475.6,1728.7 L477.0,1727.6 L478.0,1726.9 L478.4,1726.6 L479.8,1725.6 L480.7,1725.0 L481.2,1724.6 L482.6,1723.7 L483.3,1723.2 L484.0,1722.7 L485.4,1721.8 L485.9,1721.5 L486.8,1720.9 L488.2,1720.1 L488.5,1719.9 L489.6,1719.2 L491.0,1718.4 L491.1,1718.4 L492.4,1717.7 L493.8,1717.0 L493.8,1716.9 L495.2,1716.2 L496.4,1715.6 L496.6,1715.5 L498.0,1714.9 L499.0,1714.4 L499.4,1714.2 L500.8,1713.6 L501.6,1713.3 L502.3,1713.1 L503.7,1712.5 L504.2,1712.3 L505.1,1712.0 L506.5,1711.5 L506.9,1711.4 L507.9,1711.1 L509.3,1710.7 L509.5,1710.6 L510.7,1710.3 L512.1,1709.9 L512.1,1709.9 L513.5,1709.5 L514.7,1709.2 L514.9,1709.2 L516.3,1708.9 L517.3,1708.6 L517.7,1708.6 L519.1,1708.3 L519.9,1708.1 L520.5,1708.1 L521.9,1707.8 L522.6,1707.7 L523.3,1707.6 L524.7,1707.4 L525.2,1707.4 L526.1,1707.2 L527.5,1707.1 L527.8,1707.0 L528.9,1706.9 L530.3,1706.8 L530.4,1706.8 L531.7,1706.7 L533.0,1706.6 L533.1,1706.6 L534.5,1706.5 L535.7,1706.4 L535.9,1706.4 L537.3,1706.4 L538.3,1706.3 L538.7,1706.3 L540.1,1706.3 L540.9,1706.2 L541.5,1706.2 L542.9,1706.2 L543.5,1706.2 L544.3,1706.2 L545.7,1706.2 L546.1,1706.2 L547.1,1706.2 L548.5,1706.2 L548.8,1706.2 L549.9,1706.2 L551.3,1706.2 L551.4,1706.2 L552.8,1706.2 L554.0,1706.2 L554.2,1706.2 L555.6,1706.2 L556.6,1706.3 L557.0,1706.3 L558.4,1706.3 L559.2,1706.3 L559.8,1706.3 L561.2,1706.4 L561.9,1706.4 L562.6,1706.4 L564.0,1706.5 L564.5,1706.5 L565.4,1706.5 L566.8,1706.6 L567.1,1706.6 L568.2,1706.6 L569.6,1706.7 L569.7,1706.7 L571.0,1706.8 L572.3,1706.8 L572.4,1706.8 L573.8,1706.9 L575.0,1707.0 L575.2,1707.0 L576.6,1707.0 L577.6,1707.1 L578.0,1707.1 L579.4,1707.2 L580.2,1707.2 L580.8,1707.3 L582.2,1707.3 L582.8,1707.4 L583.6,1707.4 L585.0,1707.5 L585.4,1707.5 L586.4,1707.6 L587.8,1707.7 L588.1,1707.7 L589.2,1707.7 L590.6,1707.8 L590.7,1707.8 L592.0,1707.9 L593.3,1708.0 L593.4,1708.0 L594.8,1708.1 L595.9,1708.1 L596.2,1708.2 L597.6,1708.2 L598.5,1708.3 L599.0,1708.3 L600.4,1708.4 L601.2,1708.4 L601.9,1708.5 L603.3,1708.5 L603.8,1708.6 L604.7,1708.6 L606.1,1708.7 L606.4,1708.7 L607.5,1708.8 L608.9,1708.8 L609.0,1708.8 L610.3,1708.9 L611.6,1709.0 L611.7,1709.0 L613.1,1709.0 L614.2,1709.1 L614.5,1709.1 L615.9,1709.1 L616.9,1709.2 L617.3,1709.2 L618.7,1709.3 L619.5,1709.3 L620.1,1709.3 L621.5,1709.4 L622.1,1709.4 L622.9,1709.4 L624.3,1709.5 L624.7,1709.5 L625.7,1709.5 L627.1,1709.6 L627.3,1709.6 L628.5,1709.6 L629.9,1709.6 L630.0,1709.6 L631.3,1709.7 L632.6,1709.7 L632.7,1709.7 L634.1,1709.7 L635.2,1709.8 L635.5,1709.8 L636.9,1709.8 L637.8,1709.8 L638.3,1709.8 L639.7,1709.9 L640.4,1709.9 L641.1,1709.9 L642.5,1709.9 L643.1,1709.9 L643.9,1710.0 L645.3,1710.0 L645.7,1710.0 L646.7,1710.0 L648.1,1710.0 L648.3,1710.0 L649.5,1710.0 L650.9,1710.1 L650.9,1710.1 L652.4,1710.1 L653.5,1710.1 L653.8,1710.1 L655.2,1710.1 L656.2,1710.1 L656.6,1710.1 L658.0,1710.1 L658.8,1710.1 L659.4,1710.1 L660.8,1710.1 L661.4,1710.1 L662.2,1710.1 L663.6,1710.1 L664.0,1710.1 L665.0,1710.1 L666.4,1710.1 L666.6,1710.1 L667.8,1710.2 L669.2,1710.2 L669.3,1710.2 L670.6,1710.2 L671.9,1710.1 L672.0,1710.1 L673.4,1710.1 L674.5,1710.1 L674.8,1710.1 L676.2,1710.1 L677.1,1710.1 L677.6,1710.1 L679.0,1710.1 L679.7,1710.1 L680.4,1710.1 L681.8,1710.1 L682.4,1710.1 L683.2,1710.1 L684.6,1710.1 L685.0,1710.1 L686.0,1710.1 L687.4,1710.1 L687.6,1710.1 L688.8,1710.0 L690.2,1710.0 L690.2,1710.0 L691.6,1710.0 L692.8,1710.0 L693.0,1710.0 L694.4,1710.0 L695.5,1710.0 L695.8,1710.0 L697.2,1709.9 L698.1,1709.9 L698.6,1709.9 L700.0,1709.9 L700.7,1709.9 L701.4,1709.9 L702.9,1709.9 L703.3,1709.9 L704.3,1709.8 L705.7,1709.8 L705.9,1709.8 L707.1,1709.8 L708.5,1709.8 L708.5,1709.8 L709.9,1709.7 L711.2,1709.7 L711.3,1709.7 L712.7,1709.7 L713.8,1709.7 L714.1,1709.7 L715.5,1709.6 L716.4,1709.6 L716.9,1709.6 L718.3,1709.6 L719.0,1709.6 L719.7,1709.5 L721.1,1709.5 L721.6,1709.5 L722.5,1709.5 L723.9,1709.5 L724.3,1709.5 L725.3,1709.4 L726.7,1709.4 L726.9,1709.4 L728.1,1709.4 L729.5,1709.3 L729.5,1709.3 L730.9,1709.3 L732.1,1709.3 L732.3,1709.3 L733.7,1709.2 L734.7,1709.2 L735.1,1709.2 L736.5,1709.2 L737.4,1709.2 L737.9,1709.1 L739.3,1709.1 L740.0,1709.1 L740.7,1709.1 L742.1,1709.0 L742.6,1709.0 L743.5,1709.0 L744.9,1709.0 L745.2,1709.0 L746.3,1708.9 L747.7,1708.9 L747.8,1708.9 L749.1,1708.9 L750.5,1708.9 L750.5,1708.8 L752.0,1708.8 L753.1,1708.8 L753.4,1708.8 L754.8,1708.8 L755.7,1708.7 L756.2,1708.7 L757.6,1708.7 L758.3,1708.7 L759.0,1708.7 L760.4,1708.6 L760.9,1708.6 L761.8,1708.6 L763.2,1708.6 L763.6,1708.5 L764.6,1708.5 L766.0,1708.5 L766.2,1708.5 L767.4,1708.5 L768.8,1708.4 L768.8,1708.4 L770.2,1708.4 L771.4,1708.4 L771.6,1708.4 L773.0,1708.3 L774.0,1708.3 L774.4,1708.3 L775.8,1708.3 L776.7,1708.3 L777.2,1708.2 L778.6,1708.2 L779.3,1708.2 L780.0,1708.2 L781.4,1708.2 L781.9,1708.1 L782.8,1708.1 L784.2,1708.1 L784.5,1708.1 L785.6,1708.1 L787.0,1708.0 L787.1,1708.0 L788.4,1708.0 L789.8,1708.0 L789.8,1708.0 L791.2,1708.0 L792.4,1707.9 L792.6,1707.9 L794.0,1707.9 L795.0,1707.9 L795.4,1707.9 L796.8,1707.9 L797.6,1707.9 L798.2,1707.8 L799.6,1707.8 L800.2,1707.8 L801.0,1707.8 L802.5,1707.8 L802.9,1707.8 L803.9,1707.7 L805.3,1707.7 L805.5,1707.7 L806.7,1707.7 L808.1,1707.7 L808.1,1707.7 L809.5,1707.7 L810.7,1707.6 L810.9,1707.6 L812.3,1707.6 L813.3,1707.6 L813.7,1707.6 L815.1,1707.6 L815.9,1707.6 L816.5,1707.6 L817.9,1707.5 L818.6,1707.5 L819.3,1707.5 L820.7,1707.5 L821.2,1707.5 L822.1,1707.5 L823.5,1707.5 L823.8,1707.5 L824.9,1707.4 L826.3,1707.4 L826.4,1707.4 L827.7,1707.4 L829.0,1707.4 L829.1,1707.4 L830.5,1707.4 L831.7,1707.4 L831.9,1707.4 L833.3,1707.3 L834.3,1707.3 L834.7,1707.3 L836.1,1707.3 L836.9,1707.3 L837.5,1707.3 L838.9,1707.3 L839.5,1707.3 L840.3,1707.3 L841.7,1707.2 L842.1,1707.2 L843.1,1707.2 L844.5,1707.2 L844.8,1707.2 L845.9,1707.2 L847.3,1707.2 L847.4,1707.2 L848.7,1707.2 L850.0,1707.2 L850.1,1707.2 L851.5,1707.1 L852.6,1707.1 L853.0,1707.1 L854.4,1707.1 L855.2,1707.1 L855.8,1707.1 L857.2,1707.1 L857.9,1707.1 L858.6,1707.1 L860.0,1707.1 L860.5,1707.1 L861.4,1707.1 L862.8,1707.1 L863.1,1707.1 L864.2,1707.0 L865.6,1707.0 L865.7,1707.0 L867.0,1707.0 L868.3,1707.0 L868.4,1707.0 L869.8,1707.0 L871.0,1707.0 L871.2,1707.0 L872.6,1707.0 L873.6,1707.0 L874.0,1707.0 L875.4,1707.0 L876.2,1707.0 L876.8,1707.0 L878.8,1706.9 L881.4,1706.9 L884.1,1706.9 L886.7,1706.9 L889.3,1706.9 L891.9,1706.9 L894.5,1706.9 L897.2,1706.9 L899.8,1706.9 L902.4,1706.8 L905.0,1706.8 L907.6,1706.8 L910.2,1706.8 L912.9,1706.8 L915.5,1706.8 L918.1,1706.8 L920.7,1706.8 L923.3,1706.8 L926.0,1706.8 L928.6,1706.8 L931.2,1706.8 L933.8,1706.8 L936.4,1706.8 L939.1,1706.8 L941.7,1706.8 L944.3,1706.8 L946.9,1706.8 L949.5,1706.8 L952.2,1706.8 L954.8,1706.8 L957.4,1706.8 L960.0,1706.8 L962.6,1706.8 L965.3,1706.8 L967.9,1706.8 L970.5,1706.8 L973.1,1706.8 L975.7,1706.8 L978.4,1706.8 L981.0,1706.9 L983.6,1706.9 L986.2,1706.9 L988.8,1706.9 L991.5,1706.9 L994.1,1706.9 L996.7,1706.9 L999.3,1706.9 L1001.9,1706.9 L1004.5,1706.9 L1007.2,1706.9 L1009.8,1707.0 L1012.4,1707.0 L1015.0,1707.0 L1017.6,1707.0 L1020.3,1707.0 L1022.9,1707.0 L1025.5,1707.0 L1028.1,1707.0 L1030.7,1707.0 L1033.4,1707.1 L1036.0,1707.1 L1038.6,1707.1 L1041.2,1707.1 L1043.8,1707.1 L1046.5,1707.1 L1049.1,1707.1 L1051.7,1707.1 L1054.3,1707.2 L1056.9,1707.2 L1059.6,1707.2 L1062.2,1707.2 L1064.8,1707.2 L1067.4,1707.2 L1070.0,1707.2 L1072.7,1707.2 L1075.3,1707.3 L1077.9,1707.3 L1080.5,1707.3 L1083.1,1707.3 L1085.8,1707.3 L1088.4,1707.3 L1091.0,1707.3 L1093.6,1707.3 L1096.2,1707.4 L1098.8,1707.4 L1101.5,1707.4 L1104.1,1707.4 L1106.7,1707.4 L1109.3,1707.4 L1111.9,1707.4 L1114.6,1707.4 L1117.2,1707.4 L1119.8,1707.4 L1122.4,1707.5 L1125.0,1707.5 L1127.7,1707.5 L1130.3,1707.5 L1132.9,1707.5 L1135.5,1707.5 L1138.1,1707.5 L1140.8,1707.5 L1143.4,1707.5 L1146.0,1707.5 L1148.6,1707.5 L1151.2,1707.6 L1153.9,1707.6 L1156.5,1707.6 L1159.1,1707.6 L1161.7,1707.6 L1164.3,1707.6 L1167.0,1707.6 L1169.6,1707.6 L1172.2,1707.6 L1174.8,1707.6 L1177.4,1707.6 L1180.1,1707.6 L1182.7,1707.6 L1185.3,1707.6 L1187.9,1707.6 L1190.5,1707.7 L1193.1,1707.7 L1195.8,1707.7 L1198.4,1707.7 L1201.0,1707.7 L1203.6,1707.7 L1206.2,1707.7 L1208.9,1707.7 L1211.5,1707.7 L1214.1,1707.7 L1216.7,1707.7 L1219.3,1707.7 L1222.0,1707.7 L1224.6,1707.7 L1227.2,1707.7 L1229.8,1707.7 L1232.4,1707.7 L1235.1,1707.7 L1237.7,1707.7 L1240.3,1707.7 L1242.9,1707.7 L1245.5,1707.7 L1248.2,1707.7 L1250.8,1707.7 L1253.4,1707.7 L1256.0,1707.7 L1258.6,1707.7 L1261.3,1707.7 L1263.9,1707.7 L1266.5,1707.8 L1269.1,1707.8 L1271.7,1707.8 L1274.4,1707.8 L1277.0,1707.8 L1279.6,1707.8 L1282.2,1707.8 L1284.8,1707.8 L1287.4,1707.8 L1290.1,1707.8 L1292.7,1707.8 L1295.3,1707.8 L1297.9,1707.8 L1300.5,1707.8 L1303.2,1707.8 L1305.8,1707.8 L1308.4,1707.8 L1311.0,1707.8 L1313.6,1707.8 L1316.3,1707.8 L1318.9,1707.8 L1321.5,1707.8 L1324.1,1707.8 L1326.7,1707.8 L1329.4,1707.8 L1332.0,1707.8 L1334.6,1707.8 L1337.2,1707.8 L1339.8,1707.8 L1342.5,1707.8 L1345.1,1707.8 L1347.7,1707.8 L1350.3,1707.7 L1352.9,1707.7 L1355.6,1707.7 L1358.2,1707.7 L1360.8,1707.7 L1363.4,1707.7 L1366.0,1707.7 L1368.7,1707.7 L1371.3,1707.7 L1373.9,1707.7 L1376.5,1707.7 L1379.1,1707.7 L1381.7,1707.7 L1384.4,1707.7 L1387.0,1707.7 L1389.6,1707.7 L1392.2,1707.7 L1394.8,1707.7 L1397.5,1707.7 L1400.1,1707.7 L1402.7,1707.7 L1405.3,1707.7 L1407.9,1707.7 L1410.6,1707.7 L1413.2,1707.7 L1415.8,1707.7 L1418.4,1707.7 L1421.0,1707.7 L1423.7,1707.7 L1426.3,1707.7 L1428.9,1707.7 L1431.5,1707.7 L1434.1,1707.7 L1436.8,1707.7 L1439.4,1707.7 L1442.0,1707.6 L1444.6,1707.6 L1447.2,1707.6 L1449.9,1707.6 L1452.5,1707.6 L1455.1,1707.6 L1457.7,1707.6 L1460.3,1707.6 L1463.0,1707.6 L1465.6,1707.6 L1468.2,1707.6 L1470.8,1707.6 L1473.4,1707.6 L1476.1,1707.6 L1478.7,1707.6 L1481.3,1707.6 L1483.9,1707.6 L1486.5,1707.6 L1489.1,1707.6 L1491.8,1707.6 L1494.4,1707.6 L1497.0,1707.6 L1499.6,1707.6 L1502.2,1707.5 L1504.9,1707.5 L1507.5,1707.5 L1510.1,1707.5 L1512.7,1707.5 L1515.3,1707.5 L1518.0,1707.5 L1520.6,1707.5 L1523.2,1707.5 L1525.8,1707.5 L1528.4,1707.5 L1531.1,1707.5 L1533.7,1707.5 L1536.3,1707.5 L1538.9,1707.5 L1541.5,1707.5 L1544.2,1707.5 L1546.8,1707.5 L1549.4,1707.5 L1552.0,1707.5 L1554.6,1707.5 L1557.3,1707.4 L1559.9,1707.4 L1562.5,1707.4 L1565.1,1707.4 L1567.7,1707.4 L1570.4,1707.4 L1573.0,1707.4 L1575.6,1707.4 L1578.2,1707.4 L1580.8,1707.4 L1583.4,1707.4 L1586.1,1707.4 L1588.7,1707.4 L1591.3,1707.4 L1593.9,1707.4 L1596.5,1707.4 L1599.2,1707.4 L1601.8,1707.4 L1604.4,1707.4 L1607.0,1707.4 L1609.6,1707.3 L1612.3,1707.3 L1614.9,1707.3 L1617.5,1707.3 L1620.1,1707.3 L1622.7,1707.3 L1625.4,1707.3 L1628.0,1707.3 L1630.6,1707.3 L1633.2,1707.3 L1635.8,1707.3 L1638.5,1707.3 L1641.1,1707.3 L1643.7,1707.3 L1646.3,1707.3 L1648.9,1707.3 L1651.6,1707.3 L1654.2,1707.3 L1656.8,1707.3 L1659.4,1707.3 L1662.0,1707.3 L1664.7,1707.2 L1667.3,1707.2 L1669.9,1707.2 L1672.5,1707.2 L1675.1,1707.2 L1677.7,1707.2 L1680.4,1707.2 L1683.0,1707.2 L1685.6,1707.2 L1688.2,1707.2 L1690.8,1707.2 L1693.5,1707.2 L1696.1,1707.2 L1698.7,1707.2 L1701.3,1707.2 L1703.9,1707.2 L1706.6,1707.2 L1709.2,1707.2 L1711.8,1707.2 L1714.4,1707.2 L1717.0,1707.2 L1719.7,1707.2 L1722.3,1707.2 L1724.9,1707.2 L1727.5,1707.2 L1730.1,1707.2 L1732.8,1707.2 L1735.4,1707.1 L1738.0,1707.1 L1740.6,1707.1 L1743.2,1707.1 L1745.9,1707.1 L1748.5,1707.1 L1751.1,1707.1 L1753.7,1707.1 L1756.3,1707.1 L1759.0,1707.1 L1761.6,1707.1 L1764.2,1707.1 L1766.8,1707.1 L1769.4,1707.1 L1772.0,1707.1 L1774.7,1707.1 L1777.3,1707.1 L1779.9,1707.1 L1782.5,1707.1 L1785.1,1707.1 L1787.8,1707.1 L1790.4,1707.1 L1793.0,1707.1 L1795.6,1707.1 L1798.2,1707.1 L1800.9,1707.1 L1803.5,1707.1 L1806.1,1707.1 L1808.7,1707.1 L1811.3,1707.1 L1814.0,1707.1 L1816.6,1707.1 L1819.2,1707.1 L1821.8,1707.1 L1824.4,1707.1 L1827.1,1707.1 L1829.7,1707.1 L1832.3,1707.1 L1834.9,1707.1 L1837.5,1707.1 L1840.2,1707.1 L1842.8,1707.1 L1845.4,1707.1 L1848.0,1707.1 L1850.6,1707.1 L1853.3,1707.1 L1855.9,1707.1 L1858.5,1707.1 L1861.1,1707.1 L1863.7,1707.1 L1866.3,1707.1 L1869.0,1707.1 L1871.6,1707.1 L1874.2,1707.1 L1876.8,1707.1 L1879.4,1707.1 L1882.1,1707.1 L1884.7,1707.1 L1887.3,1707.1 L1889.9,1707.1 L1892.5,1707.1 L1895.2,1707.1 L1897.8,1707.1 L1900.4,1707.1 L1903.0,1707.1 L1905.6,1707.2 L1908.3,1707.2 L1910.9,1707.2 L1913.5,1707.2 L1916.1,1707.2 L1918.7,1707.2 L1921.4,1707.2 L1924.0,1707.2 L1926.6,1707.2 L1929.2,1707.2 L1931.8,1707.2 L1934.5,1707.2 L1937.1,1707.2 L1939.7,1707.2 L1942.3,1707.2 L1944.9,1707.2 L1947.6,1707.2 L1950.2,1707.2 L1952.8,1707.2 L1955.4,1707.2 L1958.0,1707.3 L1960.6,1707.3 L1963.3,1707.3 L1965.9,1707.3 L1968.5,1707.3 L1971.1,1707.3 L1973.7,1707.3 L1976.4,1707.3 L1979.0,1707.3 L1981.6,1707.3 L1984.2,1707.3 L1986.8,1707.3 L1989.5,1707.3 L1992.1,1707.3 L1994.7,1707.4 L1997.3,1707.4 L1999.9,1707.4 L2002.6,1707.4 L2005.2,1707.4 L2007.8,1707.4" stroke="#EDB120" stroke-width="8.45" fill="none" stroke-linejoin="round" stroke-dasharray="6.15 6.15"/>
<rect x="1655.7" y="1442.0" width="327.6" height="458.8" fill="#fff" stroke="#000" stroke-width="4.6"/>
<path d="M1670.4,1479.6H1793.0" stroke="#000" stroke-width="8.45" fill="none"/>
<text x="1805.7" y="1506.6" font-size="62.5" font-style="italic">W</text>
<text x="1874.9" y="1485.1" font-size="36" text-anchor="middle">*</text>
<text x="1876.7" y="1518.0" font-size="35.5" text-anchor="middle">1</text>
<path d="M1670.4,1554.6H1793.0" stroke="#000" stroke-width="8.45" fill="none"/>
<text x="1805.7" y="1581.6" font-size="62.5" font-style="italic">W</text>
<text x="1874.9" y="1560.1" font-size="36" text-anchor="middle">*</text>
<text x="1876.7" y="1593.0" font-size="35.5" text-anchor="middle">2</text>
<path d="M1670.4,1629.6H1793.0" stroke="#000" stroke-width="8.45" fill="none"/>
<text x="1805.7" y="1656.6" font-size="62.5" font-style="italic">W</text>
<text x="1874.9" y="1635.1" font-size="36" text-anchor="middle">*</text>
<text x="1876.7" y="1668.0" font-size="35.5" text-anchor="middle">3</text>
<path d="M1670.4,1704.6H1793.0" stroke="#0072BD" stroke-width="8.45" fill="none" stroke-dasharray="6.15 6.15"/>
<text x="1805.7" y="1731.6" font-size="62.5" font-style="italic">W</text>
<text transform="translate(1838.9,1688.6) scale(0.95,1.38)" x="0" y="28.4" font-size="56" text-anchor="middle">ˆ</text>
<text x="1856.3" y="1742.4" font-size="30.5" font-style="italic">a</text>
<text x="1872.2" y="1742.4" font-size="35.5">,</text>
<text x="1899.9" y="1742.4" font-size="35.5" text-anchor="middle">1</text>
<text x="1908.6" y="1731.6" font-size="62.5">(<tspan font-style="italic">t</tspan>)</text>
<path d="M1670.4,1779.6H1793.0" stroke="#D95319" stroke-width="8.45" fill="none" stroke-dasharray="6.15 6.15"/>
<text x="1805.7" y="1806.6" font-size="62.5" font-style="italic">W</text>
<text transform="translate(1838.9,1763.6) scale(0.95,1.38)" x="0" y="28.4" font-size="56" text-anchor="middle">ˆ</text>
<text x="1856.3" y="1817.4" font-size="30.5" font-style="italic">a</text>
<text x="1872.2" y="1817.4" font-size="35.5">,</text>
<text x="1899.9" y="1817.4" font-size="35.5" text-anchor="middle">2</text>
<text x="1908.6" y="1806.6" font-size="62.5">(<tspan font-style="italic">t</tspan>)</text>
<path d="M1670.4,1854.6H1793.0" stroke="#EDB120" stroke-width="8.45" fill="none" stroke-dasharray="6.15 6.15"/>
<text x="1805.7" y="1881.6" font-size="62.5" font-style="italic">W</text>
<text transform="translate(1838.9,1838.6) scale(0.95,1.38)" x="0" y="28.4" font-size="56" text-anchor="middle">ˆ</text>
<text x="1856.3" y="1892.4" font-size="30.5" font-style="italic">a</text>
<text x="1872.2" y="1892.4" font-size="35.5">,</text>
<text x="1899.9" y="1892.4" font-size="35.5" text-anchor="middle">3</text>
<text x="1908.6" y="1881.6" font-size="62.5">(<tspan font-style="italic">t</tspan>)</text>
<path d="M359.8,2256.4V2673.5M542.9,2256.4V2673.5M726.0,2256.4V2673.5M909.1,2256.4V2673.5M1092.2,2256.4V2673.5M1275.4,2256.4V2673.5M1458.5,2256.4V2673.5M1641.6,2256.4V2673.5M1824.7,2256.4V2673.5M2007.8,2256.4V2673.5" stroke="#000" stroke-opacity="0.14" stroke-width="2.1" fill="none"/>
<path d="M199.0,2256.4H2007.8M199.0,2360.7H2007.8M199.0,2464.9H2007.8M199.0,2569.2H2007.8" stroke="#000" stroke-opacity="0.14" stroke-width="2.1" fill="none"/>
<path d="M176.7,2254.1V2673.5H2010.1M359.8,2673.5v-20M542.9,2673.5v-20M726.0,2673.5v-20M909.1,2673.5v-20M1092.2,2673.5v-20M1275.4,2673.5v-20M1458.5,2673.5v-20M1641.6,2673.5v-20M1824.7,2673.5v-20M2007.8,2673.5v-20M176.7,2256.4h20.6M176.7,2360.7h20.6M176.7,2464.9h20.6M176.7,2569.2h20.6" stroke="#000" stroke-width="4.7" fill="none" stroke-linejoin="miter"/>
<text x="176.7" y="2741.8" font-size="62.5" text-anchor="middle">0</text>
<text x="359.8" y="2741.8" font-size="62.5" text-anchor="middle">2</text>
<text x="542.9" y="2741.8" font-size="62.5" text-anchor="middle">4</text>
<text x="726.0" y="2741.8" font-size="62.5" text-anchor="middle">6</text>
<text x="909.1" y="2741.8" font-size="62.5" text-anchor="middle">8</text>
<text x="1092.2" y="2741.8" font-size="62.5" text-anchor="middle">10</text>
<text x="1275.4" y="2741.8" font-size="62.5" text-anchor="middle">12</text>
<text x="1458.5" y="2741.8" font-size="62.5" text-anchor="middle">14</text>
<text x="1641.6" y="2741.8" font-size="62.5" text-anchor="middle">16</text>
<text x="1824.7" y="2741.8" font-size="62.5" text-anchor="middle">18</text>
<text x="2007.8" y="2741.8" font-size="62.5" text-anchor="middle">20</text>
<text x="152.0" y="2277.5" font-size="62.5" text-anchor="end">4</text>
<text x="152.0" y="2381.8" font-size="62.5" text-anchor="end">3</text>
<text x="152.0" y="2486.0" font-size="62.5" text-anchor="end">2</text>
<text x="152.0" y="2590.3" font-size="62.5" text-anchor="end">1</text>
<text x="152.0" y="2694.6" font-size="62.5" text-anchor="end">0</text>
<text x="1092.2" y="2811.3" font-size="62.5" text-anchor="middle">Time (s)</text>
<text x="1091.0" y="2886.3" font-size="62.5" text-anchor="middle">(d) Cumulative cost of actor-critic learning</text>
<path d="M176.8,2673.6 L178.2,2671.1 L179.4,2668.9 L179.6,2668.6 L181.0,2666.1 L182.0,2664.2 L182.4,2663.6 L183.8,2661.1 L184.7,2659.6 L185.2,2658.6 L186.6,2656.1 L187.3,2655.0 L188.0,2653.7 L189.4,2651.3 L189.9,2650.4 L190.8,2648.8 L192.2,2646.4 L192.5,2645.9 L193.6,2644.0 L195.0,2641.7 L195.1,2641.5 L196.4,2639.3 L197.8,2637.1 L197.8,2637.0 L199.2,2634.6 L200.4,2632.8 L200.6,2632.3 L202.1,2630.0 L203.0,2628.5 L203.5,2627.8 L204.9,2625.5 L205.6,2624.3 L206.3,2623.3 L207.7,2621.1 L208.2,2620.2 L209.1,2618.9 L210.5,2616.8 L210.9,2616.2 L211.9,2614.6 L213.3,2612.5 L213.5,2612.2 L214.7,2610.5 L216.1,2608.4 L216.1,2608.4 L217.5,2606.4 L218.7,2604.6 L218.9,2604.4 L220.3,2602.4 L221.3,2600.9 L221.7,2600.4 L223.1,2598.5 L224.0,2597.3 L224.5,2596.6 L225.9,2594.7 L226.6,2593.8 L227.3,2592.8 L228.7,2590.9 L229.2,2590.3 L230.1,2589.1 L231.5,2587.3 L231.8,2586.9 L232.9,2585.5 L234.3,2583.7 L234.4,2583.6 L235.7,2582.0 L237.0,2580.3 L237.1,2580.2 L238.5,2578.5 L239.7,2577.1 L239.9,2576.8 L241.3,2575.1 L242.3,2574.0 L242.7,2573.5 L244.1,2571.8 L244.9,2570.9 L245.5,2570.2 L246.9,2568.6 L247.5,2567.9 L248.3,2567.0 L249.7,2565.4 L250.1,2564.9 L251.1,2563.8 L252.6,2562.2 L252.8,2562.0 L254.0,2560.7 L255.4,2559.2 L255.4,2559.1 L256.8,2557.6 L258.0,2556.3 L258.2,2556.1 L259.6,2554.6 L260.6,2553.5 L261.0,2553.1 L262.4,2551.7 L263.2,2550.8 L263.8,2550.2 L265.2,2548.7 L265.9,2548.0 L266.6,2547.3 L268.0,2545.9 L268.5,2545.4 L269.4,2544.4 L270.8,2543.0 L271.1,2542.7 L272.2,2541.6 L273.6,2540.2 L273.7,2540.1 L275.0,2538.8 L276.3,2537.5 L276.4,2537.4 L277.8,2536.0 L279.0,2534.9 L279.2,2534.6 L280.6,2533.3 L281.6,2532.3 L282.0,2531.9 L283.4,2530.5 L284.2,2529.7 L284.8,2529.1 L286.2,2527.8 L286.8,2527.2 L287.6,2526.4 L289.0,2525.1 L289.4,2524.7 L290.4,2523.7 L291.8,2522.3 L292.1,2522.1 L293.2,2521.0 L294.6,2519.6 L294.7,2519.6 L296.0,2518.3 L297.3,2517.1 L297.4,2516.9 L298.8,2515.6 L299.9,2514.5 L300.2,2514.2 L301.6,2512.8 L302.5,2512.0 L303.1,2511.5 L304.5,2510.1 L305.2,2509.5 L305.9,2508.8 L307.3,2507.4 L307.8,2506.9 L308.7,2506.1 L310.1,2504.8 L310.4,2504.4 L311.5,2503.4 L312.9,2502.1 L313.0,2502.0 L314.3,2500.8 L315.6,2499.5 L315.7,2499.4 L317.1,2498.1 L318.3,2497.1 L318.5,2496.8 L319.9,2495.5 L320.9,2494.6 L321.3,2494.3 L322.7,2493.0 L323.5,2492.3 L324.1,2491.7 L325.5,2490.5 L326.1,2490.0 L326.9,2489.3 L328.3,2488.0 L328.7,2487.7 L329.7,2486.8 L331.1,2485.6 L331.3,2485.4 L332.5,2484.5 L333.9,2483.3 L334.0,2483.2 L335.3,2482.1 L336.6,2481.1 L336.7,2481.0 L338.1,2479.8 L339.2,2479.0 L339.5,2478.7 L340.9,2477.6 L341.8,2476.9 L342.3,2476.5 L343.7,2475.4 L344.4,2474.9 L345.1,2474.3 L346.5,2473.3 L347.1,2472.9 L347.9,2472.2 L349.3,2471.2 L349.7,2470.9 L350.7,2470.2 L352.2,2469.1 L352.3,2469.0 L353.6,2468.1 L354.9,2467.2 L355.0,2467.1 L356.4,2466.2 L357.5,2465.3 L357.8,2465.2 L359.2,2464.2 L360.2,2463.5 L360.6,2463.3 L362.0,2462.3 L362.8,2461.8 L363.4,2461.4 L364.8,2460.5 L365.4,2460.1 L366.2,2459.6 L367.6,2458.7 L368.0,2458.4 L369.0,2457.8 L370.4,2456.9 L370.6,2456.7 L371.8,2456.0 L373.2,2455.2 L373.3,2455.1 L374.6,2454.3 L375.9,2453.5 L376.0,2453.5 L377.4,2452.6 L378.5,2452.0 L378.8,2451.8 L380.2,2451.0 L381.1,2450.5 L381.6,2450.2 L383.0,2449.4 L383.7,2449.0 L384.4,2448.6 L385.8,2447.8 L386.4,2447.5 L387.2,2447.1 L388.6,2446.3 L389.0,2446.1 L390.0,2445.6 L391.4,2444.8 L391.6,2444.7 L392.8,2444.1 L394.2,2443.4 L394.2,2443.4 L395.6,2442.6 L396.8,2442.0 L397.0,2441.9 L398.4,2441.2 L399.5,2440.7 L399.8,2440.5 L401.2,2439.9 L402.1,2439.5 L402.7,2439.2 L404.1,2438.5 L404.7,2438.2 L405.5,2437.9 L406.9,2437.2 L407.3,2437.0 L408.3,2436.6 L409.7,2435.9 L409.9,2435.8 L411.1,2435.3 L412.5,2434.7 L412.6,2434.6 L413.9,2434.1 L415.2,2433.5 L415.3,2433.5 L416.7,2432.9 L417.8,2432.4 L418.1,2432.3 L419.5,2431.7 L420.4,2431.3 L420.9,2431.1 L422.3,2430.5 L423.0,2430.2 L423.7,2429.9 L425.1,2429.4 L425.6,2429.2 L426.5,2428.8 L427.9,2428.3 L428.3,2428.1 L429.3,2427.7 L430.7,2427.2 L430.9,2427.1 L432.1,2426.7 L433.5,2426.2 L433.5,2426.2 L434.9,2425.6 L436.1,2425.2 L436.3,2425.1 L437.7,2424.6 L438.7,2424.3 L439.1,2424.1 L440.5,2423.6 L441.4,2423.3 L441.9,2423.1 L443.3,2422.7 L444.0,2422.4 L444.7,2422.2 L446.1,2421.7 L446.6,2421.5 L447.5,2421.2 L448.9,2420.8 L449.2,2420.7 L450.3,2420.3 L451.7,2419.8 L451.8,2419.8 L453.2,2419.4 L454.5,2419.0 L454.6,2419.0 L456.0,2418.5 L457.1,2418.2 L457.4,2418.1 L458.8,2417.6 L459.7,2417.4 L460.2,2417.2 L461.6,2416.8 L462.3,2416.6 L463.0,2416.4 L464.4,2416.0 L464.9,2415.8 L465.8,2415.5 L467.2,2415.1 L467.6,2415.0 L468.6,2414.7 L470.0,2414.3 L470.2,2414.3 L471.4,2413.9 L472.8,2413.5 L472.8,2413.5 L474.2,2413.2 L475.4,2412.8 L475.6,2412.8 L477.0,2412.4 L478.0,2412.1 L478.4,2412.0 L479.8,2411.6 L480.7,2411.4 L481.2,2411.2 L482.6,2410.9 L483.3,2410.7 L484.0,2410.5 L485.4,2410.1 L485.9,2410.0 L486.8,2409.8 L488.2,2409.4 L488.5,2409.3 L489.6,2409.0 L491.0,2408.7 L491.1,2408.7 L492.4,2408.3 L493.8,2408.0 L493.8,2408.0 L495.2,2407.6 L496.4,2407.3 L496.6,2407.3 L498.0,2406.9 L499.0,2406.7 L499.4,2406.6 L500.8,2406.2 L501.6,2406.1 L502.3,2405.9 L503.7,2405.6 L504.2,2405.4 L505.1,2405.2 L506.5,2404.9 L506.9,2404.8 L507.9,2404.5 L509.3,2404.2 L509.5,2404.1 L510.7,2403.9 L512.1,2403.5 L512.1,2403.5 L513.5,2403.2 L514.7,2402.9 L514.9,2402.9 L516.3,2402.5 L517.3,2402.3 L517.7,2402.2 L519.1,2401.9 L519.9,2401.7 L520.5,2401.5 L521.9,2401.2 L522.6,2401.0 L523.3,2400.9 L524.7,2400.5 L525.2,2400.4 L526.1,2400.2 L527.5,2399.9 L527.8,2399.8 L528.9,2399.5 L530.3,2399.2 L530.4,2399.2 L531.7,2398.9 L533.0,2398.6 L533.1,2398.6 L534.5,2398.2 L535.7,2398.0 L535.9,2397.9 L537.3,2397.6 L538.3,2397.4 L538.7,2397.3 L540.1,2396.9 L540.9,2396.8 L541.5,2396.6 L542.9,2396.3 L543.5,2396.2 L544.3,2396.0 L545.7,2395.7 L546.1,2395.6 L547.1,2395.3 L548.5,2395.0 L548.8,2395.0 L549.9,2394.7 L551.3,2394.4 L551.4,2394.4 L552.8,2394.1 L554.0,2393.8 L554.2,2393.8 L555.6,2393.4 L556.6,2393.2 L557.0,2393.1 L558.4,2392.8 L559.2,2392.6 L559.8,2392.5 L561.2,2392.2 L561.9,2392.0 L562.6,2391.9 L564.0,2391.6 L564.5,2391.5 L565.4,2391.3 L566.8,2391.0 L567.1,2390.9 L568.2,2390.7 L569.6,2390.4 L569.7,2390.3 L571.0,2390.1 L572.3,2389.8 L572.4,2389.8 L573.8,2389.5 L575.0,2389.2 L575.2,2389.2 L576.6,2388.9 L577.6,2388.7 L578.0,2388.6 L579.4,2388.3 L580.2,2388.1 L580.8,2388.0 L582.2,2387.7 L582.8,2387.6 L583.6,2387.4 L585.0,2387.1 L585.4,2387.0 L586.4,2386.8 L587.8,2386.5 L588.1,2386.5 L589.2,2386.3 L590.6,2386.0 L590.7,2386.0 L592.0,2385.7 L593.3,2385.4 L593.4,2385.4 L594.8,2385.1 L595.9,2384.9 L596.2,2384.9 L597.6,2384.6 L598.5,2384.4 L599.0,2384.3 L600.4,2384.0 L601.2,2383.9 L601.9,2383.8 L603.3,2383.5 L603.8,2383.4 L604.7,2383.2 L606.1,2383.0 L606.4,2382.9 L607.5,2382.7 L608.9,2382.4 L609.0,2382.4 L610.3,2382.2 L611.6,2381.9 L611.7,2381.9 L613.1,2381.7 L614.2,2381.5 L614.5,2381.4 L615.9,2381.2 L616.9,2381.0 L617.3,2380.9 L618.7,2380.7 L619.5,2380.5 L620.1,2380.4 L621.5,2380.2 L622.1,2380.1 L622.9,2379.9 L624.3,2379.7 L624.7,2379.6 L625.7,2379.4 L627.1,2379.2 L627.3,2379.2 L628.5,2379.0 L629.9,2378.7 L630.0,2378.7 L631.3,2378.5 L632.6,2378.3 L632.7,2378.3 L634.1,2378.1 L635.2,2377.9 L635.5,2377.8 L636.9,2377.6 L637.8,2377.5 L638.3,2377.4 L639.7,2377.2 L640.4,2377.1 L641.1,2377.0 L642.5,2376.7 L643.1,2376.7 L643.9,2376.5 L645.3,2376.3 L645.7,2376.3 L646.7,2376.1 L648.1,2375.9 L648.3,2375.9 L649.5,2375.7 L650.9,2375.5 L650.9,2375.5 L652.4,2375.3 L653.5,2375.2 L653.8,2375.1 L655.2,2374.9 L656.2,2374.8 L656.6,2374.8 L658.0,2374.6 L658.8,2374.5 L659.4,2374.4 L660.8,2374.2 L661.4,2374.1 L662.2,2374.0 L663.6,2373.8 L664.0,2373.8 L665.0,2373.7 L666.4,2373.5 L666.6,2373.5 L667.8,2373.3 L669.2,2373.2 L669.3,2373.2 L670.6,2373.0 L671.9,2372.9 L672.0,2372.8 L673.4,2372.7 L674.5,2372.6 L674.8,2372.5 L676.2,2372.4 L677.1,2372.3 L677.6,2372.2 L679.0,2372.1 L679.7,2372.0 L680.4,2371.9 L681.8,2371.8 L682.4,2371.7 L683.2,2371.6 L684.6,2371.5 L685.0,2371.5 L686.0,2371.3 L687.4,2371.2 L687.6,2371.2 L688.8,2371.1 L690.2,2370.9 L690.2,2370.9 L691.6,2370.8 L692.8,2370.7 L693.0,2370.7 L694.4,2370.6 L695.5,2370.5 L695.8,2370.4 L697.2,2370.3 L698.1,2370.2 L698.6,2370.2 L700.0,2370.1 L700.7,2370.0 L701.4,2370.0 L702.9,2369.8 L703.3,2369.8 L704.3,2369.7 L705.7,2369.6 L705.9,2369.6 L707.1,2369.5 L708.5,2369.4 L708.5,2369.4 L709.9,2369.3 L711.2,2369.2 L711.3,2369.2 L712.7,2369.1 L713.8,2369.0 L714.1,2369.0 L715.5,2368.9 L716.4,2368.8 L716.9,2368.8 L718.3,2368.7 L719.0,2368.6 L719.7,2368.6 L721.1,2368.5 L721.6,2368.5 L722.5,2368.4 L723.9,2368.3 L724.3,2368.3 L725.3,2368.2 L726.7,2368.2 L726.9,2368.1 L728.1,2368.1 L729.5,2368.0 L729.5,2368.0 L730.9,2367.9 L732.1,2367.8 L732.3,2367.8 L733.7,2367.7 L734.7,2367.7 L735.1,2367.7 L736.5,2367.6 L737.4,2367.5 L737.9,2367.5 L739.3,2367.4 L740.0,2367.4 L740.7,2367.4 L742.1,2367.3 L742.6,2367.3 L743.5,2367.2 L744.9,2367.2 L745.2,2367.1 L746.3,2367.1 L747.7,2367.0 L747.8,2367.0 L749.1,2366.9 L750.5,2366.9 L750.5,2366.9 L752.0,2366.8 L753.1,2366.8 L753.4,2366.8 L754.8,2366.7 L755.7,2366.7 L756.2,2366.6 L757.6,2366.6 L758.3,2366.5 L759.0,2366.5 L760.4,2366.5 L760.9,2366.4 L761.8,2366.4 L763.2,2366.3 L763.6,2366.3 L764.6,2366.3 L766.0,2366.2 L766.2,2366.2 L767.4,2366.2 L768.8,2366.1 L768.8,2366.1 L770.2,2366.1 L771.4,2366.0 L771.6,2366.0 L773.0,2366.0 L774.0,2365.9 L774.4,2365.9 L775.8,2365.9 L776.7,2365.8 L777.2,2365.8 L778.6,2365.8 L779.3,2365.7 L780.0,2365.7 L781.4,2365.7 L781.9,2365.6 L782.8,2365.6 L784.2,2365.6 L784.5,2365.5 L785.6,2365.5 L787.0,2365.5 L787.1,2365.5 L788.4,2365.4 L789.8,2365.4 L789.8,2365.4 L791.2,2365.3 L792.4,2365.3 L792.6,2365.3 L794.0,2365.2 L795.0,2365.2 L795.4,2365.2 L796.8,2365.1 L797.6,2365.1 L798.2,2365.1 L799.6,2365.1 L800.2,2365.0 L801.0,2365.0 L802.5,2365.0 L802.9,2365.0 L803.9,2364.9 L805.3,2364.9 L805.5,2364.9 L806.7,2364.8 L808.1,2364.8 L808.1,2364.8 L809.5,2364.7 L810.7,2364.7 L810.9,2364.7 L812.3,2364.7 L813.3,2364.6 L813.7,2364.6 L815.1,2364.6 L815.9,2364.6 L816.5,2364.5 L817.9,2364.5 L818.6,2364.5 L819.3,2364.5 L820.7,2364.4 L821.2,2364.4 L822.1,2364.4 L823.5,2364.3 L823.8,2364.3 L824.9,2364.3 L826.3,2364.2 L826.4,2364.2 L827.7,2364.2 L829.0,2364.2 L829.1,2364.2 L830.5,2364.1 L831.7,2364.1 L831.9,2364.1 L833.3,2364.0 L834.3,2364.0 L834.7,2364.0 L836.1,2364.0 L836.9,2363.9 L837.5,2363.9 L838.9,2363.9 L839.5,2363.9 L840.3,2363.8 L841.7,2363.8 L842.1,2363.8 L843.1,2363.8 L844.5,2363.7 L844.8,2363.7 L845.9,2363.7 L847.3,2363.6 L847.4,2363.6 L848.7,2363.6 L850.0,2363.6 L850.1,2363.6 L851.5,2363.5 L852.6,2363.5 L853.0,2363.5 L854.4,2363.4 L855.2,2363.4 L855.8,2363.4 L857.2,2363.4 L857.9,2363.3 L858.6,2363.3 L860.0,2363.3 L860.5,2363.3 L861.4,2363.3 L862.8,2363.2 L863.1,2363.2 L864.2,2363.2 L865.6,2363.1 L865.7,2363.1 L867.0,2363.1 L868.3,2363.1 L868.4,2363.1 L869.8,2363.0 L871.0,2363.0 L871.2,2363.0 L872.6,2363.0 L873.6,2362.9 L874.0,2362.9 L875.4,2362.9 L876.2,2362.9 L876.8,2362.8 L878.8,2362.8 L881.4,2362.7 L884.1,2362.7 L886.7,2362.6 L889.3,2362.5 L891.9,2362.5 L894.5,2362.4 L897.2,2362.3 L899.8,2362.3 L902.4,2362.2 L905.0,2362.2 L907.6,2362.1 L910.2,2362.0 L912.9,2362.0 L915.5,2361.9 L918.1,2361.8 L920.7,2361.8 L923.3,2361.7 L926.0,2361.7 L928.6,2361.6 L931.2,2361.6 L933.8,2361.5 L936.4,2361.4 L939.1,2361.4 L941.7,2361.3 L944.3,2361.3 L946.9,2361.2 L949.5,2361.2 L952.2,2361.1 L954.8,2361.1 L957.4,2361.0 L960.0,2361.0 L962.6,2360.9 L965.3,2360.8 L967.9,2360.8 L970.5,2360.7 L973.1,2360.7 L975.7,2360.6 L978.4,2360.6 L981.0,2360.5 L983.6,2360.5 L986.2,2360.4 L988.8,2360.4 L991.5,2360.4 L994.1,2360.3 L996.7,2360.3 L999.3,2360.2 L1001.9,2360.2 L1004.5,2360.1 L1007.2,2360.1 L1009.8,2360.0 L1012.4,2360.0 L1015.0,2359.9 L1017.6,2359.9 L1020.3,2359.9 L1022.9,2359.8 L1025.5,2359.8 L1028.1,2359.7 L1030.7,2359.7 L1033.4,2359.7 L1036.0,2359.6 L1038.6,2359.6 L1041.2,2359.5 L1043.8,2359.5 L1046.5,2359.5 L1049.1,2359.4 L1051.7,2359.4 L1054.3,2359.3 L1056.9,2359.3 L1059.6,2359.3 L1062.2,2359.2 L1064.8,2359.2 L1067.4,2359.2 L1070.0,2359.1 L1072.7,2359.1 L1075.3,2359.1 L1077.9,2359.0 L1080.5,2359.0 L1083.1,2359.0 L1085.8,2358.9 L1088.4,2358.9 L1091.0,2358.9 L1093.6,2358.8 L1096.2,2358.8 L1098.8,2358.8 L1101.5,2358.7 L1104.1,2358.7 L1106.7,2358.7 L1109.3,2358.6 L1111.9,2358.6 L1114.6,2358.6 L1117.2,2358.5 L1119.8,2358.5 L1122.4,2358.5 L1125.0,2358.5 L1127.7,2358.4 L1130.3,2358.4 L1132.9,2358.4 L1135.5,2358.4 L1138.1,2358.3 L1140.8,2358.3 L1143.4,2358.3 L1146.0,2358.3 L1148.6,2358.2 L1151.2,2358.2 L1153.9,2358.2 L1156.5,2358.2 L1159.1,2358.1 L1161.7,2358.1 L1164.3,2358.1 L1167.0,2358.1 L1169.6,2358.0 L1172.2,2358.0 L1174.8,2358.0 L1177.4,2358.0 L1180.1,2358.0 L1182.7,2357.9 L1185.3,2357.9 L1187.9,2357.9 L1190.5,2357.9 L1193.1,2357.8 L1195.8,2357.8 L1198.4,2357.8 L1201.0,2357.8 L1203.6,2357.8 L1206.2,2357.8 L1208.9,2357.7 L1211.5,2357.7 L1214.1,2357.7 L1216.7,2357.7 L1219.3,2357.7 L1222.0,2357.7 L1224.6,2357.6 L1227.2,2357.6 L1229.8,2357.6 L1232.4,2357.6 L1235.1,2357.6 L1237.7,2357.6 L1240.3,2357.5 L1242.9,2357.5 L1245.5,2357.5 L1248.2,2357.5 L1250.8,2357.5 L1253.4,2357.5 L1256.0,2357.5 L1258.6,2357.4 L1261.3,2357.4 L1263.9,2357.4 L1266.5,2357.4 L1269.1,2357.4 L1271.7,2357.4 L1274.4,2357.4 L1277.0,2357.4 L1279.6,2357.3 L1282.2,2357.3 L1284.8,2357.3 L1287.4,2357.3 L1290.1,2357.3 L1292.7,2357.3 L1295.3,2357.3 L1297.9,2357.3 L1300.5,2357.3 L1303.2,2357.3 L1305.8,2357.2 L1308.4,2357.2 L1311.0,2357.2 L1313.6,2357.2 L1316.3,2357.2 L1318.9,2357.2 L1321.5,2357.2 L1324.1,2357.2 L1326.7,2357.2 L1329.4,2357.2 L1332.0,2357.2 L1334.6,2357.2 L1337.2,2357.2 L1339.8,2357.2 L1342.5,2357.1 L1345.1,2357.1 L1347.7,2357.1 L1350.3,2357.1 L1352.9,2357.1 L1355.6,2357.1 L1358.2,2357.1 L1360.8,2357.1 L1363.4,2357.1 L1366.0,2357.1 L1368.7,2357.1 L1371.3,2357.1 L1373.9,2357.1 L1376.5,2357.1 L1379.1,2357.1 L1381.7,2357.1 L1384.4,2357.1 L1387.0,2357.1 L1389.6,2357.1 L1392.2,2357.1 L1394.8,2357.1 L1397.5,2357.1 L1400.1,2357.1 L1402.7,2357.1 L1405.3,2357.1 L1407.9,2357.0 L1410.6,2357.0 L1413.2,2357.0 L1415.8,2357.0 L1418.4,2357.0 L1421.0,2357.0 L1423.7,2357.0 L1426.3,2357.0 L1428.9,2357.0 L1431.5,2357.0 L1434.1,2357.0 L1436.8,2357.0 L1439.4,2357.0 L1442.0,2357.0 L1444.6,2357.0 L1447.2,2357.0 L1449.9,2357.0 L1452.5,2357.0 L1455.1,2357.0 L1457.7,2357.0 L1460.3,2357.0 L1463.0,2357.0 L1465.6,2357.0 L1468.2,2357.0 L1470.8,2357.0 L1473.4,2357.0 L1476.1,2357.0 L1478.7,2357.0 L1481.3,2357.1 L1483.9,2357.1 L1486.5,2357.1 L1489.1,2357.1 L1491.8,2357.1 L1494.4,2357.1 L1497.0,2357.1 L1499.6,2357.1 L1502.2,2357.1 L1504.9,2357.1 L1507.5,2357.1 L1510.1,2357.1 L1512.7,2357.1 L1515.3,2357.1 L1518.0,2357.1 L1520.6,2357.1 L1523.2,2357.1 L1525.8,2357.1 L1528.4,2357.1 L1531.1,2357.1 L1533.7,2357.1 L1536.3,2357.1 L1538.9,2357.1 L1541.5,2357.1 L1544.2,2357.1 L1546.8,2357.1 L1549.4,2357.1 L1552.0,2357.1 L1554.6,2357.1 L1557.3,2357.1 L1559.9,2357.1 L1562.5,2357.1 L1565.1,2357.1 L1567.7,2357.1 L1570.4,2357.1 L1573.0,2357.2 L1575.6,2357.2 L1578.2,2357.2 L1580.8,2357.2 L1583.4,2357.2 L1586.1,2357.2 L1588.7,2357.2 L1591.3,2357.2 L1593.9,2357.2 L1596.5,2357.2 L1599.2,2357.2 L1601.8,2357.2 L1604.4,2357.2 L1607.0,2357.2 L1609.6,2357.2 L1612.3,2357.2 L1614.9,2357.2 L1617.5,2357.2 L1620.1,2357.2 L1622.7,2357.2 L1625.4,2357.2 L1628.0,2357.2 L1630.6,2357.2 L1633.2,2357.3 L1635.8,2357.3 L1638.5,2357.3 L1641.1,2357.3 L1643.7,2357.3 L1646.3,2357.3 L1648.9,2357.3 L1651.6,2357.3 L1654.2,2357.3 L1656.8,2357.3 L1659.4,2357.3 L1662.0,2357.3 L1664.7,2357.3 L1667.3,2357.3 L1669.9,2357.3 L1672.5,2357.3 L1675.1,2357.3 L1677.7,2357.3 L1680.4,2357.3 L1683.0,2357.3 L1685.6,2357.3 L1688.2,2357.3 L1690.8,2357.3 L1693.5,2357.3 L1696.1,2357.3 L1698.7,2357.4 L1701.3,2357.4 L1703.9,2357.4 L1706.6,2357.4 L1709.2,2357.4 L1711.8,2357.4 L1714.4,2357.4 L1717.0,2357.4 L1719.7,2357.4 L1722.3,2357.4 L1724.9,2357.4 L1727.5,2357.4 L1730.1,2357.4 L1732.8,2357.4 L1735.4,2357.4 L1738.0,2357.4 L1740.6,2357.4 L1743.2,2357.4 L1745.9,2357.4 L1748.5,2357.4 L1751.1,2357.4 L1753.7,2357.4 L1756.3,2357.4 L1759.0,2357.4 L1761.6,2357.4 L1764.2,2357.4 L1766.8,2357.4 L1769.4,2357.4 L1772.0,2357.4 L1774.7,2357.4 L1777.3,2357.4 L1779.9,2357.4 L1782.5,2357.4 L1785.1,2357.4 L1787.8,2357.4 L1790.4,2357.4 L1793.0,2357.4 L1795.6,2357.4 L1798.2,2357.4 L1800.9,2357.4 L1803.5,2357.4 L1806.1,2357.4 L1808.7,2357.4 L1811.3,2357.4 L1814.0,2357.4 L1816.6,2357.4 L1819.2,2357.4 L1821.8,2357.4 L1824.4,2357.4 L1827.1,2357.4 L1829.7,2357.4 L1832.3,2357.4 L1834.9,2357.4 L1837.5,2357.4 L1840.2,2357.4 L1842.8,2357.4 L1845.4,2357.4 L1848.0,2357.4 L1850.6,2357.4 L1853.3,2357.4 L1855.9,2357.4 L1858.5,2357.4 L1861.1,2357.4 L1863.7,2357.4 L1866.3,2357.4 L1869.0,2357.4 L1871.6,2357.4 L1874.2,2357.4 L1876.8,2357.4 L1879.4,2357.4 L1882.1,2357.4 L1884.7,2357.4 L1887.3,2357.4 L1889.9,2357.4 L1892.5,2357.4 L1895.2,2357.4 L1897.8,2357.4 L1900.4,2357.4 L1903.0,2357.4 L1905.6,2357.4 L1908.3,2357.3 L1910.9,2357.3 L1913.5,2357.3 L1916.1,2357.3 L1918.7,2357.3 L1921.4,2357.3 L1924.0,2357.3 L1926.6,2357.3 L1929.2,2357.3 L1931.8,2357.3 L1934.5,2357.3 L1937.1,2357.3 L1939.7,2357.3 L1942.3,2357.3 L1944.9,2357.2 L1947.6,2357.2 L1950.2,2357.2 L1952.8,2357.2 L1955.4,2357.2 L1958.0,2357.2 L1960.6,2357.2 L1963.3,2357.2 L1965.9,2357.2 L1968.5,2357.2 L1971.1,2357.2 L1973.7,2357.1 L1976.4,2357.1 L1979.0,2357.1 L1981.6,2357.1 L1984.2,2357.1 L1986.8,2357.1 L1989.5,2357.1 L1992.1,2357.1 L1994.7,2357.0 L1997.3,2357.0 L1999.9,2357.0 L2002.6,2357.0 L2005.2,2357.0 L2007.8,2357.0" stroke="#0072BD" stroke-width="8.45" fill="none" stroke-linejoin="round"/>
<rect x="1751.8" y="2265.5" width="245.1" height="70.8" fill="#fff" stroke="#000" stroke-width="4.6"/>
<path d="M1764.5,2300.8H1886.2" stroke="#0072BD" stroke-width="8.45" fill="none"/>
<text x="1895" y="2319" font-size="62.5"><tspan font-style="italic">J</tspan><tspan dx="0.8">(</tspan><tspan font-style="italic" dx="1.8">t</tspan>)</text>
<rect x="1771.6" y="2360.9" width="232.9" height="146.2" rx="7" ry="7" fill="#FAFAFE" stroke="#8a8a8a" stroke-width="1.3"/>
<text x="1795" y="2424.6" font-size="49.5" font-style="italic">X</text>
<text x="1840.6" y="2424.6" font-size="49.5">20</text>
<text x="1794.4" y="2476.8" font-size="49.5" font-style="italic">Y</text>
<text x="1834" y="2476.8" font-size="49.5">3.03539</text>
<circle cx="2007.3" cy="2357" r="11.9" fill="#FEFBE4"/>
<circle cx="2007.3" cy="2357" r="8" fill="#222"/>
</svg>
</body></html>
